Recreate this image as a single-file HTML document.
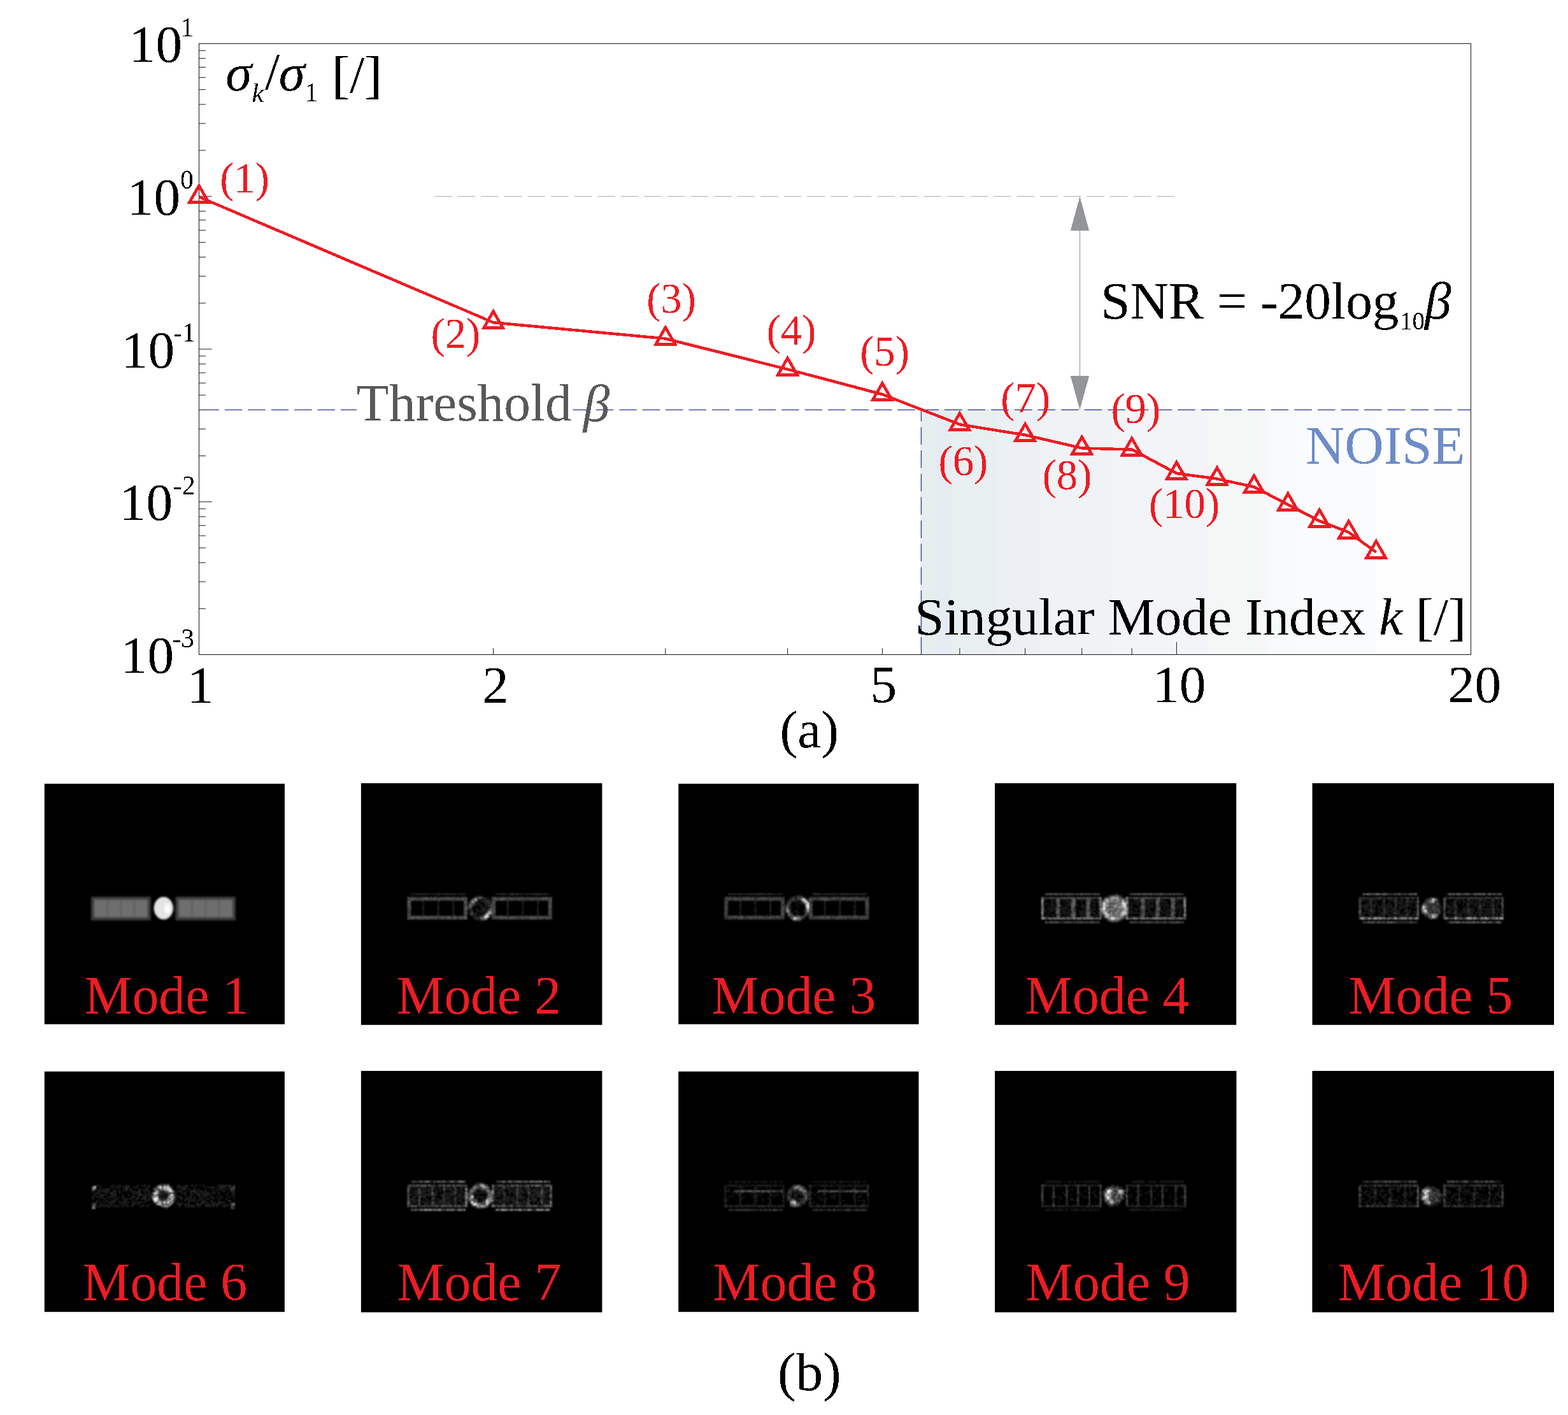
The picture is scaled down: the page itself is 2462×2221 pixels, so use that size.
<!DOCTYPE html>
<html><head><meta charset="utf-8"><title>Singular values and modes</title>
<style>
html,body{margin:0;padding:0;background:#fff;}
body{width:2462px;height:2221px;overflow:hidden;}
svg{display:block;}
text{font-family:"Liberation Serif",serif;white-space:pre;}
</style></head><body>
<svg width="2462" height="2221" viewBox="0 0 2462 2221">
<defs>
<filter id="th" x="0" y="0" width="100%" height="100%" filterUnits="userSpaceOnUse" color-interpolation-filters="sRGB"><feComponentTransfer><feFuncA type="discrete" tableValues="0 1"/></feComponentTransfer></filter>
<filter id="b1" x="-20%" y="-50%" width="140%" height="200%"><feGaussianBlur stdDeviation="1.6"/></filter>
<filter id="b2" x="-20%" y="-50%" width="140%" height="200%"><feGaussianBlur stdDeviation="1.3"/></filter>
</defs>
<rect width="2462" height="2221" fill="#fff"/>

<rect x="1445.0" y="641.9" width="25.5" height="385.6" fill="#e6eef0"/>
<rect x="1470" y="641.9" width="24.0" height="385.6" fill="#e4ebf3"/>
<rect x="1493.5" y="641.9" width="72.0" height="385.6" fill="#e8eff1"/>
<rect x="1565" y="641.9" width="68.5" height="385.6" fill="#eceff4"/>
<rect x="1633" y="641.9" width="113.5" height="385.6" fill="#eff3f6"/>
<rect x="1746" y="641.9" width="150.5" height="385.6" fill="#f2f4f8"/>
<rect x="1896" y="641.9" width="79.5" height="385.6" fill="#f3f8f7"/>
<rect x="1975" y="641.9" width="18.5" height="385.6" fill="#f7f7f9"/>
<rect x="1993" y="641.9" width="42.5" height="385.6" fill="#f7fafa"/>
<rect x="2035" y="641.9" width="126.5" height="385.6" fill="#fafbfd"/>
<rect x="2161" y="641.9" width="141.5" height="385.6" fill="#fdfefd"/>
<rect x="312.5" y="68.45" width="1997.0" height="959.05" fill="none" stroke="#1e1e1e" stroke-width="1.05"/>
<line x1="312.5" x2="322.9" y1="955.32" y2="955.32" stroke="#1c1c1c" stroke-width="1"/>
<line x1="312.5" x2="322.9" y1="913.10" y2="913.10" stroke="#1c1c1c" stroke-width="1"/>
<line x1="312.5" x2="322.9" y1="883.15" y2="883.15" stroke="#1c1c1c" stroke-width="1"/>
<line x1="312.5" x2="322.9" y1="859.91" y2="859.91" stroke="#1c1c1c" stroke-width="1"/>
<line x1="312.5" x2="322.9" y1="840.93" y2="840.93" stroke="#1c1c1c" stroke-width="1"/>
<line x1="312.5" x2="322.9" y1="824.88" y2="824.88" stroke="#1c1c1c" stroke-width="1"/>
<line x1="312.5" x2="322.9" y1="810.97" y2="810.97" stroke="#1c1c1c" stroke-width="1"/>
<line x1="312.5" x2="322.9" y1="798.71" y2="798.71" stroke="#1c1c1c" stroke-width="1"/>
<line x1="312.5" x2="332.5" y1="787.74" y2="787.74" stroke="#1c1c1c" stroke-width="1"/>
<line x1="312.5" x2="322.9" y1="715.56" y2="715.56" stroke="#1c1c1c" stroke-width="1"/>
<line x1="312.5" x2="322.9" y1="673.34" y2="673.34" stroke="#1c1c1c" stroke-width="1"/>
<line x1="312.5" x2="322.9" y1="643.39" y2="643.39" stroke="#1c1c1c" stroke-width="1"/>
<line x1="312.5" x2="322.9" y1="620.15" y2="620.15" stroke="#1c1c1c" stroke-width="1"/>
<line x1="312.5" x2="322.9" y1="601.17" y2="601.17" stroke="#1c1c1c" stroke-width="1"/>
<line x1="312.5" x2="322.9" y1="585.11" y2="585.11" stroke="#1c1c1c" stroke-width="1"/>
<line x1="312.5" x2="322.9" y1="571.21" y2="571.21" stroke="#1c1c1c" stroke-width="1"/>
<line x1="312.5" x2="322.9" y1="558.95" y2="558.95" stroke="#1c1c1c" stroke-width="1"/>
<line x1="312.5" x2="332.5" y1="547.98" y2="547.98" stroke="#1c1c1c" stroke-width="1"/>
<line x1="312.5" x2="322.9" y1="475.80" y2="475.80" stroke="#1c1c1c" stroke-width="1"/>
<line x1="312.5" x2="322.9" y1="433.58" y2="433.58" stroke="#1c1c1c" stroke-width="1"/>
<line x1="312.5" x2="322.9" y1="403.62" y2="403.62" stroke="#1c1c1c" stroke-width="1"/>
<line x1="312.5" x2="322.9" y1="380.39" y2="380.39" stroke="#1c1c1c" stroke-width="1"/>
<line x1="312.5" x2="322.9" y1="361.40" y2="361.40" stroke="#1c1c1c" stroke-width="1"/>
<line x1="312.5" x2="322.9" y1="345.35" y2="345.35" stroke="#1c1c1c" stroke-width="1"/>
<line x1="312.5" x2="322.9" y1="331.45" y2="331.45" stroke="#1c1c1c" stroke-width="1"/>
<line x1="312.5" x2="322.9" y1="319.18" y2="319.18" stroke="#1c1c1c" stroke-width="1"/>
<line x1="312.5" x2="332.5" y1="308.21" y2="308.21" stroke="#1c1c1c" stroke-width="1"/>
<line x1="312.5" x2="322.9" y1="236.04" y2="236.04" stroke="#1c1c1c" stroke-width="1"/>
<line x1="312.5" x2="322.9" y1="193.82" y2="193.82" stroke="#1c1c1c" stroke-width="1"/>
<line x1="312.5" x2="322.9" y1="163.86" y2="163.86" stroke="#1c1c1c" stroke-width="1"/>
<line x1="312.5" x2="322.9" y1="140.63" y2="140.63" stroke="#1c1c1c" stroke-width="1"/>
<line x1="312.5" x2="322.9" y1="121.64" y2="121.64" stroke="#1c1c1c" stroke-width="1"/>
<line x1="312.5" x2="322.9" y1="105.59" y2="105.59" stroke="#1c1c1c" stroke-width="1"/>
<line x1="312.5" x2="322.9" y1="91.69" y2="91.69" stroke="#1c1c1c" stroke-width="1"/>
<line x1="312.5" x2="322.9" y1="79.42" y2="79.42" stroke="#1c1c1c" stroke-width="1"/>
<line x1="774.56" x2="774.56" y1="1027.5" y2="1017.3" stroke="#1c1c1c" stroke-width="1"/>
<line x1="1044.85" x2="1044.85" y1="1027.5" y2="1017.3" stroke="#1c1c1c" stroke-width="1"/>
<line x1="1236.62" x2="1236.62" y1="1027.5" y2="1017.3" stroke="#1c1c1c" stroke-width="1"/>
<line x1="1385.38" x2="1385.38" y1="1027.5" y2="1017.3" stroke="#1c1c1c" stroke-width="1"/>
<line x1="1506.91" x2="1506.91" y1="1027.5" y2="1017.3" stroke="#1c1c1c" stroke-width="1"/>
<line x1="1609.67" x2="1609.67" y1="1027.5" y2="1017.3" stroke="#1c1c1c" stroke-width="1"/>
<line x1="1698.69" x2="1698.69" y1="1027.5" y2="1017.3" stroke="#1c1c1c" stroke-width="1"/>
<line x1="1777.20" x2="1777.20" y1="1027.5" y2="1017.3" stroke="#1c1c1c" stroke-width="1"/>
<line x1="1847.44" x2="1847.44" y1="1027.5" y2="1007.7" stroke="#1c1c1c" stroke-width="1"/>
<line x1="312.5" x2="1446.4" y1="643.4" y2="643.4" stroke="#2e3192" stroke-width="1.1" stroke-dasharray="27.4 9.03" stroke-dashoffset="32.43"/>
<line x1="1446.4" x2="2309.5" y1="643.4" y2="643.4" stroke="#2e3192" stroke-width="1.1" stroke-dasharray="27.5 9.12"/>
<line x1="1446.5" x2="1446.5" y1="1027.5" y2="643.4" stroke="#2e3192" stroke-width="1.2" stroke-dasharray="27.5 9.12"/>
<line x1="682.2" x2="1843.9" y1="308.4" y2="308.4" stroke="#b9b9b9" stroke-width="1.1" stroke-dasharray="27.5 9.08"/>
<line x1="1695.5" x2="1695.5" y1="330" y2="620" stroke="#a1a3a6" stroke-width="1.3"/>
<polygon points="1695.5,308.4 1680.9,361.9 1710.1,361.9" fill="#939598" shape-rendering="crispEdges"/>
<polygon points="1695.5,642.9 1680.9,590.3 1710.1,590.3" fill="#939598" shape-rendering="crispEdges"/>
<rect x="560" y="600" width="339" height="80" fill="#fff"/>
<rect x="69.8" y="1230.2" width="377.2" height="377.4" fill="#000"/>
<g filter="url(#b1)"><rect x="143.0" y="1407.5" width="93.7" height="37.1" fill="#3c3c3c"/><rect x="148.0" y="1412.3" width="83.7" height="27.3" fill="#6e6e6e"/><rect x="167.4" y="1412.3" width="3" height="27.3" fill="#626262"/><rect x="188.3" y="1412.3" width="3" height="27.3" fill="#626262"/><rect x="209.3" y="1412.3" width="3" height="27.3" fill="#626262"/><rect x="275.5" y="1407.5" width="94.4" height="37.1" fill="#3c3c3c"/><rect x="280.5" y="1412.3" width="84.4" height="27.3" fill="#6e6e6e"/><rect x="300.1" y="1412.3" width="3" height="27.3" fill="#626262"/><rect x="321.2" y="1412.3" width="3" height="27.3" fill="#626262"/><rect x="342.3" y="1412.3" width="3" height="27.3" fill="#626262"/><ellipse cx="256.8" cy="1425.5" rx="15.2" ry="17.8" fill="#e4e4e4"/><ellipse cx="262.8" cy="1426.5" rx="5" ry="8" fill="#fbfbfb"/></g>
<rect x="566.9" y="1229.3" width="378.5" height="379.4" fill="#000"/>
<g filter="url(#b2)"><path fill="#181818" d="M648.3 1402.0h3.0v2.95h-3.0zM674.9 1402.0h3.0v2.95h-3.0zM680.8 1402.0h3.0v2.95h-3.0zM695.5 1402.0h3.0v2.95h-3.0zM716.2 1402.0h3.0v2.95h-3.0zM792.9 1402.0h5.9v2.95h-5.9zM822.4 1402.0h3.0v2.95h-3.0zM857.8 1402.0h5.9v2.95h-5.9zM751.6 1404.9h5.9v2.95h-5.9zM763.4 1407.9h3.0v2.95h-3.0zM754.5 1410.8h5.9v2.95h-5.9zM686.7 1413.8h3.0v2.95h-3.0zM748.6 1413.8h3.0v2.95h-3.0zM754.5 1413.8h3.0v2.95h-3.0zM769.3 1413.8h3.0v2.95h-3.0zM663.1 1416.7h3.0v2.95h-3.0zM710.3 1416.7h3.0v2.95h-3.0zM733.9 1416.7h3.0v2.95h-3.0zM745.7 1416.7h8.9v2.95h-8.9zM763.4 1416.7h3.0v2.95h-3.0zM663.1 1419.7h3.0v2.95h-3.0zM686.7 1419.7h3.0v2.95h-3.0zM710.3 1419.7h3.0v2.95h-3.0zM733.9 1419.7h3.0v2.95h-3.0zM745.7 1419.7h3.0v2.95h-3.0zM751.6 1419.7h5.9v2.95h-5.9zM760.4 1419.7h3.0v2.95h-3.0zM819.4 1419.7h3.0v2.95h-3.0zM843.0 1419.7h3.0v2.95h-3.0zM754.5 1422.6h8.9v2.95h-8.9zM766.3 1422.6h3.0v2.95h-3.0zM843.0 1422.6h3.0v2.95h-3.0zM733.9 1425.6h3.0v2.95h-3.0zM739.8 1425.6h3.0v2.95h-3.0zM745.7 1425.6h5.9v2.95h-5.9zM754.5 1425.6h3.0v2.95h-3.0zM763.4 1425.6h3.0v2.95h-3.0zM819.4 1425.6h3.0v2.95h-3.0zM663.1 1428.5h3.0v2.95h-3.0zM686.7 1428.5h3.0v2.95h-3.0zM710.3 1428.5h3.0v2.95h-3.0zM751.6 1428.5h5.9v2.95h-5.9zM760.4 1428.5h5.9v2.95h-5.9zM795.8 1428.5h3.0v2.95h-3.0zM742.8 1431.5h8.9v2.95h-8.9zM754.5 1431.5h8.9v2.95h-8.9zM663.1 1434.4h3.0v2.95h-3.0zM736.8 1434.4h3.0v2.95h-3.0zM742.8 1434.4h3.0v2.95h-3.0zM751.6 1434.4h3.0v2.95h-3.0zM757.5 1434.4h3.0v2.95h-3.0zM795.8 1434.4h3.0v2.95h-3.0zM819.4 1434.4h3.0v2.95h-3.0zM843.0 1434.4h3.0v2.95h-3.0zM748.6 1437.4h3.0v2.95h-3.0zM742.8 1440.3h3.0v2.95h-3.0zM748.6 1443.3h3.0v2.95h-3.0zM757.5 1443.3h5.9v2.95h-5.9z"/><path fill="#242424" d="M645.4 1402.0h3.0v2.95h-3.0zM651.3 1402.0h23.6v2.95h-23.6zM677.8 1402.0h3.0v2.95h-3.0zM683.7 1402.0h3.0v2.95h-3.0zM689.6 1402.0h5.9v2.95h-5.9zM701.4 1402.0h14.8v2.95h-14.8zM719.1 1402.0h11.8v2.95h-11.8zM778.1 1402.0h11.8v2.95h-11.8zM798.8 1402.0h3.0v2.95h-3.0zM807.6 1402.0h3.0v2.95h-3.0zM813.5 1402.0h8.9v2.95h-8.9zM825.3 1402.0h14.8v2.95h-14.8zM843.0 1402.0h3.0v2.95h-3.0zM848.9 1402.0h5.9v2.95h-5.9zM748.6 1404.9h3.0v2.95h-3.0zM742.8 1407.9h3.0v2.95h-3.0zM760.4 1407.9h3.0v2.95h-3.0zM748.6 1410.8h5.9v2.95h-5.9zM760.4 1410.8h8.9v2.95h-8.9zM663.1 1413.8h3.0v2.95h-3.0zM710.3 1413.8h3.0v2.95h-3.0zM745.7 1413.8h3.0v2.95h-3.0zM757.5 1413.8h5.9v2.95h-5.9zM795.8 1413.8h3.0v2.95h-3.0zM819.4 1413.8h3.0v2.95h-3.0zM843.0 1413.8h3.0v2.95h-3.0zM686.7 1416.7h3.0v2.95h-3.0zM760.4 1416.7h3.0v2.95h-3.0zM769.3 1416.7h3.0v2.95h-3.0zM795.8 1416.7h3.0v2.95h-3.0zM819.4 1416.7h3.0v2.95h-3.0zM843.0 1416.7h3.0v2.95h-3.0zM742.8 1419.7h3.0v2.95h-3.0zM763.4 1419.7h3.0v2.95h-3.0zM795.8 1419.7h3.0v2.95h-3.0zM663.1 1422.6h3.0v2.95h-3.0zM686.7 1422.6h3.0v2.95h-3.0zM710.3 1422.6h3.0v2.95h-3.0zM739.8 1422.6h3.0v2.95h-3.0zM795.8 1422.6h3.0v2.95h-3.0zM819.4 1422.6h3.0v2.95h-3.0zM663.1 1425.6h3.0v2.95h-3.0zM686.7 1425.6h3.0v2.95h-3.0zM710.3 1425.6h3.0v2.95h-3.0zM757.5 1425.6h5.9v2.95h-5.9zM766.3 1425.6h3.0v2.95h-3.0zM795.8 1425.6h3.0v2.95h-3.0zM843.0 1425.6h3.0v2.95h-3.0zM736.8 1428.5h3.0v2.95h-3.0zM748.6 1428.5h3.0v2.95h-3.0zM757.5 1428.5h3.0v2.95h-3.0zM819.4 1428.5h3.0v2.95h-3.0zM843.0 1428.5h3.0v2.95h-3.0zM663.1 1431.5h3.0v2.95h-3.0zM686.7 1431.5h3.0v2.95h-3.0zM710.3 1431.5h3.0v2.95h-3.0zM795.8 1431.5h3.0v2.95h-3.0zM819.4 1431.5h3.0v2.95h-3.0zM843.0 1431.5h3.0v2.95h-3.0zM686.7 1434.4h3.0v2.95h-3.0zM710.3 1434.4h3.0v2.95h-3.0zM745.7 1434.4h3.0v2.95h-3.0zM742.8 1437.4h5.9v2.95h-5.9z"/><path fill="#303030" d="M686.7 1402.0h3.0v2.95h-3.0zM698.5 1402.0h3.0v2.95h-3.0zM789.9 1402.0h3.0v2.95h-3.0zM801.8 1402.0h5.9v2.95h-5.9zM810.6 1402.0h3.0v2.95h-3.0zM840.1 1402.0h3.0v2.95h-3.0zM846.0 1402.0h3.0v2.95h-3.0zM854.8 1402.0h3.0v2.95h-3.0zM757.5 1407.9h3.0v2.95h-3.0zM736.8 1413.8h3.0v2.95h-3.0zM766.3 1413.8h3.0v2.95h-3.0zM766.3 1416.7h3.0v2.95h-3.0zM766.3 1419.7h3.0v2.95h-3.0zM733.9 1422.6h3.0v2.95h-3.0zM769.3 1422.6h3.0v2.95h-3.0zM736.8 1425.6h3.0v2.95h-3.0zM739.8 1428.5h3.0v2.95h-3.0zM736.8 1431.5h3.0v2.95h-3.0zM751.6 1437.4h3.0v2.95h-3.0zM745.7 1440.3h3.0v2.95h-3.0zM751.6 1440.3h3.0v2.95h-3.0zM754.5 1443.3h3.0v2.95h-3.0z"/><path fill="#3c3c3c" d="M654.2 1407.9h8.9v2.95h-8.9zM671.9 1407.9h3.0v2.95h-3.0zM677.8 1407.9h3.0v2.95h-3.0zM686.7 1407.9h3.0v2.95h-3.0zM713.2 1407.9h3.0v2.95h-3.0zM722.1 1407.9h3.0v2.95h-3.0zM748.6 1407.9h3.0v2.95h-3.0zM778.1 1407.9h3.0v2.95h-3.0zM784.0 1407.9h3.0v2.95h-3.0zM801.8 1407.9h3.0v2.95h-3.0zM810.6 1407.9h5.9v2.95h-5.9zM822.4 1407.9h3.0v2.95h-3.0zM831.2 1407.9h3.0v2.95h-3.0zM837.1 1407.9h3.0v2.95h-3.0zM846.0 1407.9h3.0v2.95h-3.0zM860.8 1407.9h3.0v2.95h-3.0zM639.5 1410.8h5.9v2.95h-5.9zM651.3 1410.8h3.0v2.95h-3.0zM657.2 1410.8h3.0v2.95h-3.0zM666.0 1410.8h3.0v2.95h-3.0zM683.7 1410.8h3.0v2.95h-3.0zM692.6 1410.8h3.0v2.95h-3.0zM698.5 1410.8h3.0v2.95h-3.0zM710.3 1410.8h5.9v2.95h-5.9zM722.1 1410.8h3.0v2.95h-3.0zM728.0 1410.8h3.0v2.95h-3.0zM772.2 1410.8h5.9v2.95h-5.9zM792.9 1410.8h8.9v2.95h-8.9zM804.7 1410.8h8.9v2.95h-8.9zM816.5 1410.8h14.8v2.95h-14.8zM837.1 1410.8h8.9v2.95h-8.9zM848.9 1410.8h3.0v2.95h-3.0zM854.8 1410.8h3.0v2.95h-3.0zM860.8 1410.8h3.0v2.95h-3.0zM763.4 1413.8h3.0v2.95h-3.0zM736.8 1416.7h3.0v2.95h-3.0zM728.0 1419.7h5.9v2.95h-5.9zM739.8 1419.7h3.0v2.95h-3.0zM775.2 1419.7h3.0v2.95h-3.0zM639.5 1422.6h3.0v2.95h-3.0zM639.5 1425.6h3.0v2.95h-3.0zM863.7 1425.6h3.0v2.95h-3.0zM642.4 1428.5h3.0v2.95h-3.0zM639.5 1431.5h5.9v2.95h-5.9zM728.0 1434.4h3.0v2.95h-3.0zM769.3 1434.4h3.0v2.95h-3.0zM775.2 1434.4h3.0v2.95h-3.0zM710.3 1437.4h3.0v2.95h-3.0zM716.2 1437.4h5.9v2.95h-5.9zM795.8 1437.4h3.0v2.95h-3.0zM810.6 1437.4h3.0v2.95h-3.0zM819.4 1437.4h5.9v2.95h-5.9zM828.3 1437.4h3.0v2.95h-3.0zM843.0 1437.4h3.0v2.95h-3.0zM851.9 1437.4h3.0v2.95h-3.0zM860.8 1437.4h3.0v2.95h-3.0zM651.3 1440.3h3.0v2.95h-3.0zM686.7 1440.3h5.9v2.95h-5.9zM698.5 1440.3h3.0v2.95h-3.0zM716.2 1440.3h3.0v2.95h-3.0zM725.0 1440.3h3.0v2.95h-3.0zM748.6 1440.3h3.0v2.95h-3.0zM775.2 1440.3h3.0v2.95h-3.0zM781.1 1440.3h3.0v2.95h-3.0zM813.5 1440.3h3.0v2.95h-3.0zM825.3 1440.3h3.0v2.95h-3.0zM843.0 1440.3h3.0v2.95h-3.0zM851.9 1440.3h5.9v2.95h-5.9z"/><path fill="#484848" d="M645.4 1407.9h3.0v2.95h-3.0zM651.3 1407.9h3.0v2.95h-3.0zM689.6 1407.9h5.9v2.95h-5.9zM707.3 1407.9h3.0v2.95h-3.0zM716.2 1407.9h5.9v2.95h-5.9zM730.9 1407.9h3.0v2.95h-3.0zM781.1 1407.9h3.0v2.95h-3.0zM792.9 1407.9h5.9v2.95h-5.9zM804.7 1407.9h3.0v2.95h-3.0zM819.4 1407.9h3.0v2.95h-3.0zM825.3 1407.9h5.9v2.95h-5.9zM834.2 1407.9h3.0v2.95h-3.0zM840.1 1407.9h5.9v2.95h-5.9zM848.9 1407.9h3.0v2.95h-3.0zM663.1 1410.8h3.0v2.95h-3.0zM671.9 1410.8h8.9v2.95h-8.9zM695.5 1410.8h3.0v2.95h-3.0zM701.4 1410.8h8.9v2.95h-8.9zM730.9 1410.8h3.0v2.95h-3.0zM781.1 1410.8h3.0v2.95h-3.0zM831.2 1410.8h3.0v2.95h-3.0zM846.0 1410.8h3.0v2.95h-3.0zM772.2 1413.8h3.0v2.95h-3.0zM860.8 1413.8h3.0v2.95h-3.0zM642.4 1416.7h3.0v2.95h-3.0zM728.0 1416.7h5.9v2.95h-5.9zM742.8 1416.7h3.0v2.95h-3.0zM772.2 1416.7h5.9v2.95h-5.9zM860.8 1416.7h5.9v2.95h-5.9zM642.4 1419.7h3.0v2.95h-3.0zM769.3 1419.7h3.0v2.95h-3.0zM860.8 1419.7h5.9v2.95h-5.9zM728.0 1422.6h3.0v2.95h-3.0zM772.2 1422.6h3.0v2.95h-3.0zM642.4 1425.6h3.0v2.95h-3.0zM775.2 1425.6h3.0v2.95h-3.0zM860.8 1425.6h3.0v2.95h-3.0zM639.5 1428.5h3.0v2.95h-3.0zM728.0 1428.5h5.9v2.95h-5.9zM772.2 1428.5h3.0v2.95h-3.0zM860.8 1428.5h3.0v2.95h-3.0zM728.0 1431.5h3.0v2.95h-3.0zM739.8 1431.5h3.0v2.95h-3.0zM775.2 1431.5h3.0v2.95h-3.0zM863.7 1431.5h3.0v2.95h-3.0zM642.4 1434.4h3.0v2.95h-3.0zM730.9 1434.4h3.0v2.95h-3.0zM739.8 1434.4h3.0v2.95h-3.0zM760.4 1434.4h3.0v2.95h-3.0zM772.2 1434.4h3.0v2.95h-3.0zM860.8 1434.4h5.9v2.95h-5.9zM639.5 1437.4h5.9v2.95h-5.9zM660.1 1437.4h5.9v2.95h-5.9zM671.9 1437.4h3.0v2.95h-3.0zM686.7 1437.4h3.0v2.95h-3.0zM692.6 1437.4h3.0v2.95h-3.0zM698.5 1437.4h3.0v2.95h-3.0zM707.3 1437.4h3.0v2.95h-3.0zM725.0 1437.4h3.0v2.95h-3.0zM730.9 1437.4h3.0v2.95h-3.0zM754.5 1437.4h5.9v2.95h-5.9zM772.2 1437.4h3.0v2.95h-3.0zM778.1 1437.4h3.0v2.95h-3.0zM787.0 1437.4h3.0v2.95h-3.0zM792.9 1437.4h3.0v2.95h-3.0zM798.8 1437.4h5.9v2.95h-5.9zM807.6 1437.4h3.0v2.95h-3.0zM813.5 1437.4h3.0v2.95h-3.0zM834.2 1437.4h3.0v2.95h-3.0zM840.1 1437.4h3.0v2.95h-3.0zM846.0 1437.4h3.0v2.95h-3.0zM857.8 1437.4h3.0v2.95h-3.0zM666.0 1440.3h3.0v2.95h-3.0zM671.9 1440.3h11.8v2.95h-11.8zM695.5 1440.3h3.0v2.95h-3.0zM707.3 1440.3h3.0v2.95h-3.0zM719.1 1440.3h3.0v2.95h-3.0zM772.2 1440.3h3.0v2.95h-3.0zM778.1 1440.3h3.0v2.95h-3.0zM784.0 1440.3h3.0v2.95h-3.0zM789.9 1440.3h3.0v2.95h-3.0zM795.8 1440.3h3.0v2.95h-3.0zM804.7 1440.3h8.9v2.95h-8.9zM816.5 1440.3h3.0v2.95h-3.0zM822.4 1440.3h3.0v2.95h-3.0zM828.3 1440.3h3.0v2.95h-3.0zM846.0 1440.3h3.0v2.95h-3.0zM860.8 1440.3h5.9v2.95h-5.9z"/><path fill="#545454" d="M639.5 1407.9h5.9v2.95h-5.9zM648.3 1407.9h3.0v2.95h-3.0zM663.1 1407.9h3.0v2.95h-3.0zM669.0 1407.9h3.0v2.95h-3.0zM674.9 1407.9h3.0v2.95h-3.0zM680.8 1407.9h5.9v2.95h-5.9zM695.5 1407.9h11.8v2.95h-11.8zM725.0 1407.9h5.9v2.95h-5.9zM754.5 1407.9h3.0v2.95h-3.0zM772.2 1407.9h3.0v2.95h-3.0zM787.0 1407.9h5.9v2.95h-5.9zM798.8 1407.9h3.0v2.95h-3.0zM807.6 1407.9h3.0v2.95h-3.0zM816.5 1407.9h3.0v2.95h-3.0zM851.9 1407.9h8.9v2.95h-8.9zM863.7 1407.9h3.0v2.95h-3.0zM648.3 1410.8h3.0v2.95h-3.0zM654.2 1410.8h3.0v2.95h-3.0zM660.1 1410.8h3.0v2.95h-3.0zM669.0 1410.8h3.0v2.95h-3.0zM680.8 1410.8h3.0v2.95h-3.0zM686.7 1410.8h5.9v2.95h-5.9zM716.2 1410.8h5.9v2.95h-5.9zM739.8 1410.8h3.0v2.95h-3.0zM784.0 1410.8h3.0v2.95h-3.0zM789.9 1410.8h3.0v2.95h-3.0zM801.8 1410.8h3.0v2.95h-3.0zM834.2 1410.8h3.0v2.95h-3.0zM851.9 1410.8h3.0v2.95h-3.0zM857.8 1410.8h3.0v2.95h-3.0zM728.0 1413.8h5.9v2.95h-5.9zM775.2 1413.8h3.0v2.95h-3.0zM863.7 1413.8h3.0v2.95h-3.0zM639.5 1416.7h3.0v2.95h-3.0zM639.5 1419.7h3.0v2.95h-3.0zM772.2 1419.7h3.0v2.95h-3.0zM775.2 1422.6h3.0v2.95h-3.0zM860.8 1422.6h5.9v2.95h-5.9zM728.0 1425.6h3.0v2.95h-3.0zM772.2 1425.6h3.0v2.95h-3.0zM863.7 1428.5h3.0v2.95h-3.0zM763.4 1431.5h3.0v2.95h-3.0zM772.2 1431.5h3.0v2.95h-3.0zM860.8 1431.5h3.0v2.95h-3.0zM639.5 1434.4h3.0v2.95h-3.0zM645.4 1437.4h14.8v2.95h-14.8zM666.0 1437.4h5.9v2.95h-5.9zM677.8 1437.4h5.9v2.95h-5.9zM689.6 1437.4h3.0v2.95h-3.0zM695.5 1437.4h3.0v2.95h-3.0zM701.4 1437.4h5.9v2.95h-5.9zM722.1 1437.4h3.0v2.95h-3.0zM775.2 1437.4h3.0v2.95h-3.0zM781.1 1437.4h3.0v2.95h-3.0zM789.9 1437.4h3.0v2.95h-3.0zM804.7 1437.4h3.0v2.95h-3.0zM816.5 1437.4h3.0v2.95h-3.0zM837.1 1437.4h3.0v2.95h-3.0zM848.9 1437.4h3.0v2.95h-3.0zM854.8 1437.4h3.0v2.95h-3.0zM863.7 1437.4h3.0v2.95h-3.0zM639.5 1440.3h11.8v2.95h-11.8zM654.2 1440.3h11.8v2.95h-11.8zM669.0 1440.3h3.0v2.95h-3.0zM683.7 1440.3h3.0v2.95h-3.0zM701.4 1440.3h5.9v2.95h-5.9zM710.3 1440.3h3.0v2.95h-3.0zM730.9 1440.3h3.0v2.95h-3.0zM763.4 1440.3h3.0v2.95h-3.0zM787.0 1440.3h3.0v2.95h-3.0zM792.9 1440.3h3.0v2.95h-3.0zM798.8 1440.3h3.0v2.95h-3.0zM819.4 1440.3h3.0v2.95h-3.0zM831.2 1440.3h3.0v2.95h-3.0zM837.1 1440.3h5.9v2.95h-5.9zM848.9 1440.3h3.0v2.95h-3.0z"/><path fill="#606060" d="M666.0 1407.9h3.0v2.95h-3.0zM710.3 1407.9h3.0v2.95h-3.0zM745.7 1407.9h3.0v2.95h-3.0zM775.2 1407.9h3.0v2.95h-3.0zM645.4 1410.8h3.0v2.95h-3.0zM725.0 1410.8h3.0v2.95h-3.0zM742.8 1410.8h3.0v2.95h-3.0zM778.1 1410.8h3.0v2.95h-3.0zM787.0 1410.8h3.0v2.95h-3.0zM813.5 1410.8h3.0v2.95h-3.0zM863.7 1410.8h3.0v2.95h-3.0zM639.5 1413.8h5.9v2.95h-5.9zM642.4 1422.6h3.0v2.95h-3.0zM730.9 1422.6h3.0v2.95h-3.0zM736.8 1422.6h3.0v2.95h-3.0zM730.9 1425.6h3.0v2.95h-3.0zM775.2 1428.5h3.0v2.95h-3.0zM730.9 1431.5h3.0v2.95h-3.0zM674.9 1437.4h3.0v2.95h-3.0zM683.7 1437.4h3.0v2.95h-3.0zM713.2 1437.4h3.0v2.95h-3.0zM728.0 1437.4h3.0v2.95h-3.0zM784.0 1437.4h3.0v2.95h-3.0zM825.3 1437.4h3.0v2.95h-3.0zM831.2 1437.4h3.0v2.95h-3.0zM692.6 1440.3h3.0v2.95h-3.0zM713.2 1440.3h3.0v2.95h-3.0zM722.1 1440.3h3.0v2.95h-3.0zM728.0 1440.3h3.0v2.95h-3.0zM801.8 1440.3h3.0v2.95h-3.0zM834.2 1440.3h3.0v2.95h-3.0zM857.8 1440.3h3.0v2.95h-3.0z"/><path fill="#6c6c6c" d="M751.6 1407.9h3.0v2.95h-3.0zM739.8 1416.7h3.0v2.95h-3.0zM769.3 1425.6h3.0v2.95h-3.0zM757.5 1440.3h3.0v2.95h-3.0z"/><path fill="#787878" d="M736.8 1419.7h3.0v2.95h-3.0zM766.3 1428.5h5.9v2.95h-5.9zM766.3 1434.4h3.0v2.95h-3.0zM754.5 1440.3h3.0v2.95h-3.0z"/><path fill="#909090" d="M739.8 1413.8h5.9v2.95h-5.9zM766.3 1437.4h3.0v2.95h-3.0z"/><path fill="#a8a8a8" d="M769.3 1431.5h3.0v2.95h-3.0zM760.4 1440.3h3.0v2.95h-3.0z"/><path fill="#c0c0c0" d="M745.7 1410.8h3.0v2.95h-3.0z"/><path fill="#d8d8d8" d="M766.3 1431.5h3.0v2.95h-3.0z"/><path fill="#fcfcfc" d="M763.4 1434.4h3.0v2.95h-3.0zM760.4 1437.4h5.9v2.95h-5.9z"/></g>
<rect x="1065.3" y="1230.2" width="377.3" height="377.4" fill="#000"/>
<g filter="url(#b2)"><path fill="#181818" d="M1217.0 1401.9h3.0v2.95h-3.0zM1287.8 1401.9h3.0v2.95h-3.0zM1314.3 1401.9h3.0v2.95h-3.0zM1246.5 1404.8h5.9v2.95h-5.9zM1258.2 1404.8h3.0v2.95h-3.0zM1240.5 1407.8h3.0v2.95h-3.0zM1264.2 1407.8h3.0v2.95h-3.0zM1234.7 1413.7h3.0v2.95h-3.0zM1246.5 1413.7h5.9v2.95h-5.9zM1160.9 1416.6h3.0v2.95h-3.0zM1208.1 1416.6h3.0v2.95h-3.0zM1240.5 1416.6h3.0v2.95h-3.0zM1252.3 1416.6h8.9v2.95h-8.9zM1340.8 1416.6h3.0v2.95h-3.0zM1184.5 1419.6h3.0v2.95h-3.0zM1249.4 1419.6h3.0v2.95h-3.0zM1293.7 1419.6h3.0v2.95h-3.0zM1340.8 1419.6h3.0v2.95h-3.0zM1184.5 1422.5h3.0v2.95h-3.0zM1240.5 1422.5h3.0v2.95h-3.0zM1252.3 1422.5h3.0v2.95h-3.0zM1160.9 1425.5h3.0v2.95h-3.0zM1240.5 1425.5h3.0v2.95h-3.0zM1317.2 1425.5h3.0v2.95h-3.0zM1340.8 1425.5h3.0v2.95h-3.0zM1160.9 1428.5h3.0v2.95h-3.0zM1231.7 1428.5h3.0v2.95h-3.0zM1246.5 1428.5h5.9v2.95h-5.9zM1261.2 1428.5h3.0v2.95h-3.0zM1293.7 1428.5h3.0v2.95h-3.0zM1184.5 1431.4h3.0v2.95h-3.0zM1208.1 1431.4h3.0v2.95h-3.0zM1240.5 1431.4h5.9v2.95h-5.9zM1249.4 1431.4h5.9v2.95h-5.9zM1293.7 1431.4h3.0v2.95h-3.0zM1160.9 1434.3h3.0v2.95h-3.0zM1184.5 1434.3h3.0v2.95h-3.0zM1208.1 1434.3h3.0v2.95h-3.0zM1234.7 1434.3h3.0v2.95h-3.0zM1243.5 1434.3h3.0v2.95h-3.0zM1249.4 1434.3h3.0v2.95h-3.0zM1267.1 1434.3h3.0v2.95h-3.0zM1293.7 1434.3h3.0v2.95h-3.0zM1264.2 1437.3h3.0v2.95h-3.0zM1261.2 1440.2h3.0v2.95h-3.0z"/><path fill="#242424" d="M1146.2 1401.9h14.8v2.95h-14.8zM1163.8 1401.9h11.8v2.95h-11.8zM1178.6 1401.9h3.0v2.95h-3.0zM1184.5 1401.9h3.0v2.95h-3.0zM1199.2 1401.9h5.9v2.95h-5.9zM1211.0 1401.9h5.9v2.95h-5.9zM1219.9 1401.9h8.9v2.95h-8.9zM1290.7 1401.9h14.8v2.95h-14.8zM1308.4 1401.9h3.0v2.95h-3.0zM1317.2 1401.9h3.0v2.95h-3.0zM1326.1 1401.9h3.0v2.95h-3.0zM1332.0 1401.9h5.9v2.95h-5.9zM1340.8 1401.9h3.0v2.95h-3.0zM1346.8 1401.9h5.9v2.95h-5.9zM1355.6 1401.9h5.9v2.95h-5.9zM1252.3 1404.8h5.9v2.95h-5.9zM1246.5 1407.8h5.9v2.95h-5.9zM1237.6 1410.8h3.0v2.95h-3.0zM1249.4 1410.8h3.0v2.95h-3.0zM1267.1 1410.8h3.0v2.95h-3.0zM1160.9 1413.7h3.0v2.95h-3.0zM1184.5 1413.7h3.0v2.95h-3.0zM1208.1 1413.7h3.0v2.95h-3.0zM1293.7 1413.7h3.0v2.95h-3.0zM1317.2 1413.7h3.0v2.95h-3.0zM1340.8 1413.7h3.0v2.95h-3.0zM1184.5 1416.6h3.0v2.95h-3.0zM1234.7 1416.6h3.0v2.95h-3.0zM1293.7 1416.6h3.0v2.95h-3.0zM1317.2 1416.6h3.0v2.95h-3.0zM1160.9 1419.6h3.0v2.95h-3.0zM1208.1 1419.6h3.0v2.95h-3.0zM1231.7 1419.6h3.0v2.95h-3.0zM1317.2 1419.6h3.0v2.95h-3.0zM1160.9 1422.5h3.0v2.95h-3.0zM1208.1 1422.5h3.0v2.95h-3.0zM1237.6 1422.5h3.0v2.95h-3.0zM1293.7 1422.5h3.0v2.95h-3.0zM1317.2 1422.5h3.0v2.95h-3.0zM1340.8 1422.5h3.0v2.95h-3.0zM1184.5 1425.5h3.0v2.95h-3.0zM1208.1 1425.5h3.0v2.95h-3.0zM1231.7 1425.5h3.0v2.95h-3.0zM1293.7 1425.5h3.0v2.95h-3.0zM1184.5 1428.5h3.0v2.95h-3.0zM1208.1 1428.5h3.0v2.95h-3.0zM1317.2 1428.5h3.0v2.95h-3.0zM1340.8 1428.5h3.0v2.95h-3.0zM1160.9 1431.4h3.0v2.95h-3.0zM1317.2 1431.4h3.0v2.95h-3.0zM1340.8 1431.4h3.0v2.95h-3.0zM1261.2 1434.3h3.0v2.95h-3.0zM1317.2 1434.3h3.0v2.95h-3.0zM1340.8 1434.3h3.0v2.95h-3.0zM1243.5 1443.2h3.0v2.95h-3.0z"/><path fill="#303030" d="M1143.2 1401.9h3.0v2.95h-3.0zM1160.9 1401.9h3.0v2.95h-3.0zM1175.7 1401.9h3.0v2.95h-3.0zM1181.5 1401.9h3.0v2.95h-3.0zM1187.5 1401.9h11.8v2.95h-11.8zM1205.2 1401.9h5.9v2.95h-5.9zM1276.0 1401.9h11.8v2.95h-11.8zM1305.5 1401.9h3.0v2.95h-3.0zM1311.3 1401.9h3.0v2.95h-3.0zM1320.2 1401.9h5.9v2.95h-5.9zM1329.0 1401.9h3.0v2.95h-3.0zM1337.9 1401.9h3.0v2.95h-3.0zM1343.8 1401.9h3.0v2.95h-3.0zM1352.7 1401.9h3.0v2.95h-3.0zM1137.3 1407.8h3.0v2.95h-3.0zM1149.1 1407.8h3.0v2.95h-3.0zM1187.5 1407.8h3.0v2.95h-3.0zM1211.0 1407.8h3.0v2.95h-3.0zM1225.8 1407.8h3.0v2.95h-3.0zM1261.2 1407.8h3.0v2.95h-3.0zM1270.0 1407.8h3.0v2.95h-3.0zM1276.0 1407.8h3.0v2.95h-3.0zM1281.8 1407.8h3.0v2.95h-3.0zM1299.5 1407.8h5.9v2.95h-5.9zM1317.2 1407.8h3.0v2.95h-3.0zM1349.7 1407.8h3.0v2.95h-3.0zM1358.5 1407.8h3.0v2.95h-3.0zM1140.2 1410.8h3.0v2.95h-3.0zM1149.1 1410.8h3.0v2.95h-3.0zM1184.5 1410.8h3.0v2.95h-3.0zM1240.5 1410.8h3.0v2.95h-3.0zM1246.5 1410.8h3.0v2.95h-3.0zM1255.3 1410.8h3.0v2.95h-3.0zM1278.9 1410.8h5.9v2.95h-5.9zM1305.5 1410.8h3.0v2.95h-3.0zM1314.3 1410.8h3.0v2.95h-3.0zM1326.1 1410.8h3.0v2.95h-3.0zM1137.3 1413.7h3.0v2.95h-3.0zM1237.6 1413.7h3.0v2.95h-3.0zM1273.0 1413.7h3.0v2.95h-3.0zM1261.2 1416.6h3.0v2.95h-3.0zM1273.0 1416.6h3.0v2.95h-3.0zM1140.2 1419.6h3.0v2.95h-3.0zM1228.8 1419.6h3.0v2.95h-3.0zM1231.7 1422.5h3.0v2.95h-3.0zM1273.0 1422.5h3.0v2.95h-3.0zM1237.6 1425.5h3.0v2.95h-3.0zM1273.0 1428.5h3.0v2.95h-3.0zM1140.2 1434.3h3.0v2.95h-3.0zM1358.5 1434.3h3.0v2.95h-3.0zM1137.3 1437.3h3.0v2.95h-3.0zM1166.8 1437.3h5.9v2.95h-5.9zM1199.2 1437.3h3.0v2.95h-3.0zM1205.2 1437.3h3.0v2.95h-3.0zM1237.6 1437.3h3.0v2.95h-3.0zM1276.0 1437.3h3.0v2.95h-3.0zM1293.7 1437.3h3.0v2.95h-3.0zM1302.5 1437.3h3.0v2.95h-3.0zM1335.0 1437.3h3.0v2.95h-3.0zM1349.7 1437.3h3.0v2.95h-3.0zM1137.3 1440.2h5.9v2.95h-5.9zM1152.0 1440.2h5.9v2.95h-5.9zM1166.8 1440.2h3.0v2.95h-3.0zM1172.7 1440.2h3.0v2.95h-3.0zM1217.0 1440.2h3.0v2.95h-3.0zM1225.8 1440.2h3.0v2.95h-3.0zM1273.0 1440.2h3.0v2.95h-3.0zM1305.5 1440.2h3.0v2.95h-3.0zM1329.0 1440.2h5.9v2.95h-5.9zM1346.8 1440.2h3.0v2.95h-3.0zM1255.3 1443.2h3.0v2.95h-3.0z"/><path fill="#3c3c3c" d="M1143.2 1407.8h3.0v2.95h-3.0zM1155.0 1407.8h11.8v2.95h-11.8zM1178.6 1407.8h3.0v2.95h-3.0zM1184.5 1407.8h3.0v2.95h-3.0zM1202.2 1407.8h5.9v2.95h-5.9zM1217.0 1407.8h8.9v2.95h-8.9zM1228.8 1407.8h3.0v2.95h-3.0zM1243.5 1407.8h3.0v2.95h-3.0zM1273.0 1407.8h3.0v2.95h-3.0zM1329.0 1407.8h5.9v2.95h-5.9zM1337.9 1407.8h3.0v2.95h-3.0zM1355.6 1407.8h3.0v2.95h-3.0zM1146.2 1410.8h3.0v2.95h-3.0zM1158.0 1410.8h3.0v2.95h-3.0zM1163.8 1410.8h3.0v2.95h-3.0zM1193.3 1410.8h3.0v2.95h-3.0zM1202.2 1410.8h8.9v2.95h-8.9zM1214.0 1410.8h3.0v2.95h-3.0zM1219.9 1410.8h3.0v2.95h-3.0zM1225.8 1410.8h5.9v2.95h-5.9zM1252.3 1410.8h3.0v2.95h-3.0zM1264.2 1410.8h3.0v2.95h-3.0zM1276.0 1410.8h3.0v2.95h-3.0zM1284.8 1410.8h3.0v2.95h-3.0zM1311.3 1410.8h3.0v2.95h-3.0zM1317.2 1410.8h5.9v2.95h-5.9zM1337.9 1410.8h5.9v2.95h-5.9zM1346.8 1410.8h3.0v2.95h-3.0zM1352.7 1410.8h3.0v2.95h-3.0zM1358.5 1410.8h5.9v2.95h-5.9zM1225.8 1413.7h3.0v2.95h-3.0zM1240.5 1413.7h3.0v2.95h-3.0zM1258.2 1413.7h3.0v2.95h-3.0zM1270.0 1413.7h3.0v2.95h-3.0zM1361.5 1413.7h3.0v2.95h-3.0zM1225.8 1416.6h3.0v2.95h-3.0zM1270.0 1416.6h3.0v2.95h-3.0zM1137.3 1419.6h3.0v2.95h-3.0zM1225.8 1419.6h3.0v2.95h-3.0zM1225.8 1422.5h3.0v2.95h-3.0zM1358.5 1422.5h3.0v2.95h-3.0zM1137.3 1425.5h5.9v2.95h-5.9zM1225.8 1425.5h3.0v2.95h-3.0zM1358.5 1425.5h3.0v2.95h-3.0zM1137.3 1428.5h5.9v2.95h-5.9zM1228.8 1428.5h3.0v2.95h-3.0zM1264.2 1428.5h3.0v2.95h-3.0zM1361.5 1428.5h3.0v2.95h-3.0zM1140.2 1431.4h3.0v2.95h-3.0zM1234.7 1431.4h3.0v2.95h-3.0zM1270.0 1431.4h3.0v2.95h-3.0zM1358.5 1431.4h3.0v2.95h-3.0zM1361.5 1434.3h3.0v2.95h-3.0zM1140.2 1437.3h5.9v2.95h-5.9zM1158.0 1437.3h3.0v2.95h-3.0zM1181.5 1437.3h3.0v2.95h-3.0zM1187.5 1437.3h3.0v2.95h-3.0zM1214.0 1437.3h3.0v2.95h-3.0zM1222.8 1437.3h5.9v2.95h-5.9zM1255.3 1437.3h3.0v2.95h-3.0zM1261.2 1437.3h3.0v2.95h-3.0zM1270.0 1437.3h3.0v2.95h-3.0zM1278.9 1437.3h3.0v2.95h-3.0zM1284.8 1437.3h3.0v2.95h-3.0zM1308.4 1437.3h5.9v2.95h-5.9zM1329.0 1437.3h3.0v2.95h-3.0zM1358.5 1437.3h5.9v2.95h-5.9zM1143.2 1440.2h8.9v2.95h-8.9zM1181.5 1440.2h3.0v2.95h-3.0zM1187.5 1440.2h3.0v2.95h-3.0zM1193.3 1440.2h3.0v2.95h-3.0zM1199.2 1440.2h5.9v2.95h-5.9zM1211.0 1440.2h5.9v2.95h-5.9zM1219.9 1440.2h5.9v2.95h-5.9zM1228.8 1440.2h3.0v2.95h-3.0zM1240.5 1440.2h3.0v2.95h-3.0zM1258.2 1440.2h3.0v2.95h-3.0zM1270.0 1440.2h3.0v2.95h-3.0zM1276.0 1440.2h8.9v2.95h-8.9zM1302.5 1440.2h3.0v2.95h-3.0zM1308.4 1440.2h3.0v2.95h-3.0zM1323.2 1440.2h3.0v2.95h-3.0zM1335.0 1440.2h3.0v2.95h-3.0zM1340.8 1440.2h5.9v2.95h-5.9zM1355.6 1440.2h3.0v2.95h-3.0zM1361.5 1440.2h3.0v2.95h-3.0zM1246.5 1443.2h5.9v2.95h-5.9z"/><path fill="#484848" d="M1152.0 1407.8h3.0v2.95h-3.0zM1166.8 1407.8h11.8v2.95h-11.8zM1181.5 1407.8h3.0v2.95h-3.0zM1190.4 1407.8h11.8v2.95h-11.8zM1208.1 1407.8h3.0v2.95h-3.0zM1214.0 1407.8h3.0v2.95h-3.0zM1255.3 1407.8h3.0v2.95h-3.0zM1278.9 1407.8h3.0v2.95h-3.0zM1284.8 1407.8h14.8v2.95h-14.8zM1305.5 1407.8h11.8v2.95h-11.8zM1320.2 1407.8h8.9v2.95h-8.9zM1335.0 1407.8h3.0v2.95h-3.0zM1340.8 1407.8h3.0v2.95h-3.0zM1346.8 1407.8h3.0v2.95h-3.0zM1352.7 1407.8h3.0v2.95h-3.0zM1361.5 1407.8h3.0v2.95h-3.0zM1137.3 1410.8h3.0v2.95h-3.0zM1152.0 1410.8h3.0v2.95h-3.0zM1160.9 1410.8h3.0v2.95h-3.0zM1166.8 1410.8h3.0v2.95h-3.0zM1172.7 1410.8h11.8v2.95h-11.8zM1187.5 1410.8h5.9v2.95h-5.9zM1196.3 1410.8h5.9v2.95h-5.9zM1217.0 1410.8h3.0v2.95h-3.0zM1290.7 1410.8h3.0v2.95h-3.0zM1302.5 1410.8h3.0v2.95h-3.0zM1308.4 1410.8h3.0v2.95h-3.0zM1323.2 1410.8h3.0v2.95h-3.0zM1329.0 1410.8h8.9v2.95h-8.9zM1343.8 1410.8h3.0v2.95h-3.0zM1355.6 1410.8h3.0v2.95h-3.0zM1140.2 1413.7h3.0v2.95h-3.0zM1267.1 1413.7h3.0v2.95h-3.0zM1137.3 1416.6h5.9v2.95h-5.9zM1228.8 1416.6h3.0v2.95h-3.0zM1237.6 1416.6h3.0v2.95h-3.0zM1358.5 1416.6h5.9v2.95h-5.9zM1234.7 1419.6h5.9v2.95h-5.9zM1270.0 1419.6h3.0v2.95h-3.0zM1358.5 1419.6h5.9v2.95h-5.9zM1140.2 1422.5h3.0v2.95h-3.0zM1361.5 1422.5h3.0v2.95h-3.0zM1273.0 1425.5h3.0v2.95h-3.0zM1361.5 1425.5h3.0v2.95h-3.0zM1270.0 1428.5h3.0v2.95h-3.0zM1358.5 1428.5h3.0v2.95h-3.0zM1137.3 1431.4h3.0v2.95h-3.0zM1225.8 1431.4h3.0v2.95h-3.0zM1267.1 1431.4h3.0v2.95h-3.0zM1273.0 1431.4h3.0v2.95h-3.0zM1361.5 1431.4h3.0v2.95h-3.0zM1225.8 1434.3h3.0v2.95h-3.0zM1264.2 1434.3h3.0v2.95h-3.0zM1273.0 1434.3h3.0v2.95h-3.0zM1146.2 1437.3h5.9v2.95h-5.9zM1160.9 1437.3h3.0v2.95h-3.0zM1172.7 1437.3h8.9v2.95h-8.9zM1190.4 1437.3h8.9v2.95h-8.9zM1202.2 1437.3h3.0v2.95h-3.0zM1208.1 1437.3h5.9v2.95h-5.9zM1217.0 1437.3h3.0v2.95h-3.0zM1228.8 1437.3h3.0v2.95h-3.0zM1240.5 1437.3h3.0v2.95h-3.0zM1249.4 1437.3h3.0v2.95h-3.0zM1258.2 1437.3h3.0v2.95h-3.0zM1273.0 1437.3h3.0v2.95h-3.0zM1281.8 1437.3h3.0v2.95h-3.0zM1296.6 1437.3h3.0v2.95h-3.0zM1314.3 1437.3h5.9v2.95h-5.9zM1323.2 1437.3h5.9v2.95h-5.9zM1337.9 1437.3h3.0v2.95h-3.0zM1346.8 1437.3h3.0v2.95h-3.0zM1352.7 1437.3h5.9v2.95h-5.9zM1158.0 1440.2h5.9v2.95h-5.9zM1169.8 1440.2h3.0v2.95h-3.0zM1178.6 1440.2h3.0v2.95h-3.0zM1184.5 1440.2h3.0v2.95h-3.0zM1190.4 1440.2h3.0v2.95h-3.0zM1196.3 1440.2h3.0v2.95h-3.0zM1205.2 1440.2h5.9v2.95h-5.9zM1284.8 1440.2h14.8v2.95h-14.8zM1311.3 1440.2h5.9v2.95h-5.9zM1320.2 1440.2h3.0v2.95h-3.0zM1326.1 1440.2h3.0v2.95h-3.0zM1337.9 1440.2h3.0v2.95h-3.0zM1349.7 1440.2h5.9v2.95h-5.9zM1252.3 1443.2h3.0v2.95h-3.0z"/><path fill="#545454" d="M1140.2 1407.8h3.0v2.95h-3.0zM1146.2 1407.8h3.0v2.95h-3.0zM1252.3 1407.8h3.0v2.95h-3.0zM1343.8 1407.8h3.0v2.95h-3.0zM1143.2 1410.8h3.0v2.95h-3.0zM1155.0 1410.8h3.0v2.95h-3.0zM1169.8 1410.8h3.0v2.95h-3.0zM1211.0 1410.8h3.0v2.95h-3.0zM1222.8 1410.8h3.0v2.95h-3.0zM1243.5 1410.8h3.0v2.95h-3.0zM1270.0 1410.8h5.9v2.95h-5.9zM1287.8 1410.8h3.0v2.95h-3.0zM1293.7 1410.8h8.9v2.95h-8.9zM1349.7 1410.8h3.0v2.95h-3.0zM1228.8 1413.7h3.0v2.95h-3.0zM1358.5 1413.7h3.0v2.95h-3.0zM1273.0 1419.6h3.0v2.95h-3.0zM1137.3 1422.5h3.0v2.95h-3.0zM1228.8 1422.5h3.0v2.95h-3.0zM1264.2 1422.5h3.0v2.95h-3.0zM1270.0 1422.5h3.0v2.95h-3.0zM1228.8 1425.5h3.0v2.95h-3.0zM1264.2 1425.5h3.0v2.95h-3.0zM1270.0 1425.5h3.0v2.95h-3.0zM1225.8 1428.5h3.0v2.95h-3.0zM1228.8 1431.4h3.0v2.95h-3.0zM1264.2 1431.4h3.0v2.95h-3.0zM1137.3 1434.3h3.0v2.95h-3.0zM1228.8 1434.3h3.0v2.95h-3.0zM1240.5 1434.3h3.0v2.95h-3.0zM1270.0 1434.3h3.0v2.95h-3.0zM1152.0 1437.3h5.9v2.95h-5.9zM1163.8 1437.3h3.0v2.95h-3.0zM1184.5 1437.3h3.0v2.95h-3.0zM1219.9 1437.3h3.0v2.95h-3.0zM1246.5 1437.3h3.0v2.95h-3.0zM1287.8 1437.3h5.9v2.95h-5.9zM1299.5 1437.3h3.0v2.95h-3.0zM1305.5 1437.3h3.0v2.95h-3.0zM1320.2 1437.3h3.0v2.95h-3.0zM1332.0 1437.3h3.0v2.95h-3.0zM1340.8 1437.3h5.9v2.95h-5.9zM1163.8 1440.2h3.0v2.95h-3.0zM1175.7 1440.2h3.0v2.95h-3.0zM1299.5 1440.2h3.0v2.95h-3.0zM1317.2 1440.2h3.0v2.95h-3.0zM1358.5 1440.2h3.0v2.95h-3.0z"/><path fill="#6c6c6c" d="M1258.2 1407.8h3.0v2.95h-3.0zM1234.7 1422.5h3.0v2.95h-3.0zM1237.6 1431.4h3.0v2.95h-3.0zM1237.6 1434.3h3.0v2.95h-3.0zM1243.5 1437.3h3.0v2.95h-3.0zM1255.3 1440.2h3.0v2.95h-3.0z"/><path fill="#787878" d="M1252.3 1437.3h3.0v2.95h-3.0zM1243.5 1440.2h3.0v2.95h-3.0z"/><path fill="#848484" d="M1264.2 1416.6h3.0v2.95h-3.0zM1237.6 1428.5h3.0v2.95h-3.0z"/><path fill="#909090" d="M1234.7 1425.5h3.0v2.95h-3.0zM1252.3 1440.2h3.0v2.95h-3.0z"/><path fill="#9c9c9c" d="M1261.2 1413.7h3.0v2.95h-3.0zM1267.1 1428.5h3.0v2.95h-3.0z"/><path fill="#a8a8a8" d="M1234.7 1428.5h3.0v2.95h-3.0zM1249.4 1440.2h3.0v2.95h-3.0z"/><path fill="#b4b4b4" d="M1258.2 1410.8h3.0v2.95h-3.0zM1264.2 1419.6h3.0v2.95h-3.0z"/><path fill="#c0c0c0" d="M1267.1 1425.5h3.0v2.95h-3.0z"/><path fill="#f0f0f0" d="M1267.1 1416.6h3.0v2.95h-3.0z"/><path fill="#fcfcfc" d="M1261.2 1410.8h3.0v2.95h-3.0zM1264.2 1413.7h3.0v2.95h-3.0zM1267.1 1419.6h3.0v2.95h-3.0zM1267.1 1422.5h3.0v2.95h-3.0zM1246.5 1440.2h3.0v2.95h-3.0z"/></g>
<rect x="1562.0" y="1229.3" width="379.2" height="379.4" fill="#000"/>
<g filter="url(#b2)"><path fill="#181818" d="M1750.0 1402.0h5.9v2.95h-5.9zM1732.3 1407.9h3.0v2.95h-3.0zM1761.8 1407.9h3.0v2.95h-3.0zM1637.9 1410.8h5.9v2.95h-5.9zM1649.7 1410.8h3.0v2.95h-3.0zM1655.6 1410.8h3.0v2.95h-3.0zM1667.4 1410.8h11.8v2.95h-11.8zM1688.1 1410.8h17.7v2.95h-17.7zM1711.7 1410.8h5.9v2.95h-5.9zM1723.5 1410.8h3.0v2.95h-3.0zM1729.4 1410.8h3.0v2.95h-3.0zM1770.7 1410.8h3.0v2.95h-3.0zM1779.5 1410.8h11.8v2.95h-11.8zM1800.2 1410.8h14.8v2.95h-14.8zM1820.8 1410.8h5.9v2.95h-5.9zM1835.6 1410.8h3.0v2.95h-3.0zM1844.4 1410.8h14.8v2.95h-14.8zM1637.9 1413.8h3.0v2.95h-3.0zM1649.7 1413.8h5.9v2.95h-5.9zM1667.4 1413.8h3.0v2.95h-3.0zM1673.3 1413.8h8.9v2.95h-8.9zM1688.1 1413.8h3.0v2.95h-3.0zM1696.9 1413.8h3.0v2.95h-3.0zM1702.8 1413.8h3.0v2.95h-3.0zM1711.7 1413.8h14.8v2.95h-14.8zM1770.7 1413.8h5.9v2.95h-5.9zM1779.5 1413.8h11.8v2.95h-11.8zM1797.2 1413.8h14.8v2.95h-14.8zM1820.8 1413.8h11.8v2.95h-11.8zM1844.4 1413.8h5.9v2.95h-5.9zM1856.2 1413.8h3.0v2.95h-3.0zM1640.9 1416.7h5.9v2.95h-5.9zM1649.7 1416.7h5.9v2.95h-5.9zM1670.4 1416.7h3.0v2.95h-3.0zM1676.2 1416.7h5.9v2.95h-5.9zM1688.1 1416.7h3.0v2.95h-3.0zM1696.9 1416.7h3.0v2.95h-3.0zM1717.6 1416.7h3.0v2.95h-3.0zM1723.5 1416.7h3.0v2.95h-3.0zM1770.7 1416.7h8.9v2.95h-8.9zM1782.5 1416.7h5.9v2.95h-5.9zM1797.2 1416.7h8.9v2.95h-8.9zM1809.0 1416.7h3.0v2.95h-3.0zM1823.8 1416.7h3.0v2.95h-3.0zM1829.7 1416.7h3.0v2.95h-3.0zM1844.4 1416.7h3.0v2.95h-3.0zM1850.3 1416.7h3.0v2.95h-3.0zM1856.2 1416.7h3.0v2.95h-3.0zM1637.9 1419.7h3.0v2.95h-3.0zM1646.8 1419.7h8.9v2.95h-8.9zM1664.5 1419.7h3.0v2.95h-3.0zM1673.3 1419.7h8.9v2.95h-8.9zM1688.1 1419.7h5.9v2.95h-5.9zM1696.9 1419.7h8.9v2.95h-8.9zM1714.6 1419.7h5.9v2.95h-5.9zM1723.5 1419.7h3.0v2.95h-3.0zM1770.7 1419.7h3.0v2.95h-3.0zM1776.6 1419.7h3.0v2.95h-3.0zM1785.4 1419.7h3.0v2.95h-3.0zM1797.2 1419.7h14.8v2.95h-14.8zM1820.8 1419.7h3.0v2.95h-3.0zM1826.7 1419.7h8.9v2.95h-8.9zM1847.4 1419.7h11.8v2.95h-11.8zM1637.9 1422.6h3.0v2.95h-3.0zM1643.8 1422.6h3.0v2.95h-3.0zM1649.7 1422.6h8.9v2.95h-8.9zM1667.4 1422.6h8.9v2.95h-8.9zM1696.9 1422.6h8.9v2.95h-8.9zM1717.6 1422.6h3.0v2.95h-3.0zM1773.6 1422.6h5.9v2.95h-5.9zM1788.4 1422.6h3.0v2.95h-3.0zM1797.2 1422.6h14.8v2.95h-14.8zM1820.8 1422.6h3.0v2.95h-3.0zM1826.7 1422.6h3.0v2.95h-3.0zM1832.6 1422.6h3.0v2.95h-3.0zM1844.4 1422.6h14.8v2.95h-14.8zM1637.9 1425.6h3.0v2.95h-3.0zM1643.8 1425.6h14.8v2.95h-14.8zM1664.5 1425.6h17.7v2.95h-17.7zM1688.1 1425.6h3.0v2.95h-3.0zM1699.9 1425.6h3.0v2.95h-3.0zM1711.7 1425.6h8.9v2.95h-8.9zM1723.5 1425.6h3.0v2.95h-3.0zM1773.6 1425.6h3.0v2.95h-3.0zM1779.5 1425.6h11.8v2.95h-11.8zM1797.2 1425.6h8.9v2.95h-8.9zM1820.8 1425.6h3.0v2.95h-3.0zM1826.7 1425.6h3.0v2.95h-3.0zM1832.6 1425.6h5.9v2.95h-5.9zM1844.4 1425.6h3.0v2.95h-3.0zM1850.3 1425.6h5.9v2.95h-5.9zM1637.9 1428.5h5.9v2.95h-5.9zM1646.8 1428.5h8.9v2.95h-8.9zM1667.4 1428.5h5.9v2.95h-5.9zM1676.2 1428.5h3.0v2.95h-3.0zM1688.1 1428.5h3.0v2.95h-3.0zM1694.0 1428.5h11.8v2.95h-11.8zM1711.7 1428.5h5.9v2.95h-5.9zM1720.5 1428.5h3.0v2.95h-3.0zM1770.7 1428.5h8.9v2.95h-8.9zM1782.5 1428.5h3.0v2.95h-3.0zM1797.2 1428.5h3.0v2.95h-3.0zM1803.1 1428.5h5.9v2.95h-5.9zM1812.0 1428.5h3.0v2.95h-3.0zM1820.8 1428.5h5.9v2.95h-5.9zM1829.7 1428.5h8.9v2.95h-8.9zM1847.4 1428.5h3.0v2.95h-3.0zM1853.2 1428.5h3.0v2.95h-3.0zM1640.9 1431.5h3.0v2.95h-3.0zM1646.8 1431.5h3.0v2.95h-3.0zM1655.6 1431.5h3.0v2.95h-3.0zM1667.4 1431.5h14.8v2.95h-14.8zM1688.1 1431.5h3.0v2.95h-3.0zM1694.0 1431.5h11.8v2.95h-11.8zM1711.7 1431.5h8.9v2.95h-8.9zM1723.5 1431.5h3.0v2.95h-3.0zM1770.7 1431.5h20.7v2.95h-20.7zM1797.2 1431.5h17.7v2.95h-17.7zM1823.8 1431.5h11.8v2.95h-11.8zM1844.4 1431.5h3.0v2.95h-3.0zM1850.3 1431.5h5.9v2.95h-5.9zM1637.9 1434.4h3.0v2.95h-3.0zM1643.8 1434.4h3.0v2.95h-3.0zM1649.7 1434.4h5.9v2.95h-5.9zM1664.5 1434.4h3.0v2.95h-3.0zM1670.4 1434.4h3.0v2.95h-3.0zM1676.2 1434.4h5.9v2.95h-5.9zM1688.1 1434.4h3.0v2.95h-3.0zM1694.0 1434.4h11.8v2.95h-11.8zM1717.6 1434.4h5.9v2.95h-5.9zM1773.6 1434.4h3.0v2.95h-3.0zM1788.4 1434.4h3.0v2.95h-3.0zM1797.2 1434.4h5.9v2.95h-5.9zM1806.1 1434.4h8.9v2.95h-8.9zM1820.8 1434.4h3.0v2.95h-3.0zM1829.7 1434.4h8.9v2.95h-8.9zM1850.3 1434.4h3.0v2.95h-3.0zM1856.2 1434.4h3.0v2.95h-3.0zM1637.9 1437.4h8.9v2.95h-8.9zM1652.7 1437.4h3.0v2.95h-3.0zM1667.4 1437.4h3.0v2.95h-3.0zM1673.3 1437.4h8.9v2.95h-8.9zM1688.1 1437.4h3.0v2.95h-3.0zM1696.9 1437.4h8.9v2.95h-8.9zM1711.7 1437.4h5.9v2.95h-5.9zM1720.5 1437.4h3.0v2.95h-3.0zM1729.4 1437.4h3.0v2.95h-3.0zM1770.7 1437.4h3.0v2.95h-3.0zM1776.6 1437.4h5.9v2.95h-5.9zM1785.4 1437.4h5.9v2.95h-5.9zM1800.2 1437.4h3.0v2.95h-3.0zM1809.0 1437.4h5.9v2.95h-5.9zM1823.8 1437.4h11.8v2.95h-11.8zM1844.4 1437.4h3.0v2.95h-3.0zM1850.3 1437.4h3.0v2.95h-3.0zM1856.2 1437.4h3.0v2.95h-3.0zM1732.3 1440.3h3.0v2.95h-3.0zM1758.9 1443.3h3.0v2.95h-3.0zM1744.1 1446.2h11.8v2.95h-11.8z"/><path fill="#242424" d="M1738.2 1404.9h5.9v2.95h-5.9zM1758.9 1404.9h3.0v2.95h-3.0zM1770.7 1425.6h3.0v2.95h-3.0zM1735.2 1440.3h3.0v2.95h-3.0z"/><path fill="#303030" d="M1661.5 1402.0h3.0v2.95h-3.0zM1667.4 1402.0h3.0v2.95h-3.0zM1685.1 1402.0h3.0v2.95h-3.0zM1711.7 1402.0h3.0v2.95h-3.0zM1826.7 1402.0h3.0v2.95h-3.0zM1832.6 1402.0h3.0v2.95h-3.0zM1838.5 1402.0h3.0v2.95h-3.0zM1853.2 1402.0h5.9v2.95h-5.9zM1640.9 1407.9h3.0v2.95h-3.0zM1655.6 1407.9h3.0v2.95h-3.0zM1688.1 1407.9h3.0v2.95h-3.0zM1770.7 1407.9h3.0v2.95h-3.0zM1788.4 1407.9h3.0v2.95h-3.0zM1809.0 1407.9h3.0v2.95h-3.0zM1823.8 1407.9h3.0v2.95h-3.0zM1844.4 1407.9h3.0v2.95h-3.0zM1853.2 1407.9h3.0v2.95h-3.0zM1729.4 1413.8h3.0v2.95h-3.0zM1770.7 1422.6h3.0v2.95h-3.0zM1729.4 1434.4h3.0v2.95h-3.0zM1738.2 1443.3h3.0v2.95h-3.0zM1643.8 1446.2h3.0v2.95h-3.0zM1664.5 1446.2h5.9v2.95h-5.9zM1682.2 1446.2h3.0v2.95h-3.0zM1785.4 1446.2h3.0v2.95h-3.0zM1794.2 1446.2h3.0v2.95h-3.0zM1812.0 1446.2h3.0v2.95h-3.0zM1823.8 1446.2h3.0v2.95h-3.0zM1832.6 1446.2h3.0v2.95h-3.0zM1853.2 1446.2h3.0v2.95h-3.0z"/><path fill="#3c3c3c" d="M1652.7 1402.0h3.0v2.95h-3.0zM1688.1 1402.0h8.9v2.95h-8.9zM1699.9 1402.0h3.0v2.95h-3.0zM1714.6 1402.0h3.0v2.95h-3.0zM1720.5 1402.0h3.0v2.95h-3.0zM1773.6 1402.0h3.0v2.95h-3.0zM1809.0 1402.0h3.0v2.95h-3.0zM1844.4 1402.0h5.9v2.95h-5.9zM1637.9 1407.9h3.0v2.95h-3.0zM1643.8 1407.9h3.0v2.95h-3.0zM1661.5 1407.9h3.0v2.95h-3.0zM1673.3 1407.9h3.0v2.95h-3.0zM1702.8 1407.9h3.0v2.95h-3.0zM1714.6 1407.9h3.0v2.95h-3.0zM1720.5 1407.9h3.0v2.95h-3.0zM1735.2 1407.9h5.9v2.95h-5.9zM1776.6 1407.9h3.0v2.95h-3.0zM1785.4 1407.9h3.0v2.95h-3.0zM1803.1 1407.9h3.0v2.95h-3.0zM1812.0 1407.9h5.9v2.95h-5.9zM1820.8 1407.9h3.0v2.95h-3.0zM1832.6 1407.9h5.9v2.95h-5.9zM1847.4 1407.9h3.0v2.95h-3.0zM1856.2 1407.9h3.0v2.95h-3.0zM1814.9 1410.8h3.0v2.95h-3.0zM1682.2 1413.8h3.0v2.95h-3.0zM1750.0 1416.7h3.0v2.95h-3.0zM1791.3 1416.7h5.9v2.95h-5.9zM1791.3 1419.7h3.0v2.95h-3.0zM1817.9 1419.7h3.0v2.95h-3.0zM1658.6 1422.6h5.9v2.95h-5.9zM1685.1 1425.6h3.0v2.95h-3.0zM1708.7 1425.6h3.0v2.95h-3.0zM1791.3 1425.6h3.0v2.95h-3.0zM1685.1 1428.5h3.0v2.95h-3.0zM1708.7 1428.5h3.0v2.95h-3.0zM1794.2 1428.5h3.0v2.95h-3.0zM1814.9 1428.5h5.9v2.95h-5.9zM1838.5 1428.5h3.0v2.95h-3.0zM1682.2 1431.5h3.0v2.95h-3.0zM1747.1 1431.5h3.0v2.95h-3.0zM1791.3 1431.5h3.0v2.95h-3.0zM1661.5 1434.4h3.0v2.95h-3.0zM1732.3 1437.4h3.0v2.95h-3.0zM1764.8 1437.4h3.0v2.95h-3.0zM1661.5 1446.2h3.0v2.95h-3.0zM1688.1 1446.2h3.0v2.95h-3.0zM1694.0 1446.2h3.0v2.95h-3.0zM1699.9 1446.2h3.0v2.95h-3.0zM1708.7 1446.2h3.0v2.95h-3.0zM1717.6 1446.2h5.9v2.95h-5.9zM1779.5 1446.2h5.9v2.95h-5.9zM1788.4 1446.2h3.0v2.95h-3.0zM1809.0 1446.2h3.0v2.95h-3.0zM1817.9 1446.2h5.9v2.95h-5.9zM1829.7 1446.2h3.0v2.95h-3.0zM1835.6 1446.2h3.0v2.95h-3.0z"/><path fill="#484848" d="M1640.9 1402.0h5.9v2.95h-5.9zM1670.4 1402.0h5.9v2.95h-5.9zM1679.2 1402.0h3.0v2.95h-3.0zM1702.8 1402.0h8.9v2.95h-8.9zM1776.6 1402.0h8.9v2.95h-8.9zM1791.3 1402.0h3.0v2.95h-3.0zM1803.1 1402.0h3.0v2.95h-3.0zM1812.0 1402.0h8.9v2.95h-8.9zM1829.7 1402.0h3.0v2.95h-3.0zM1850.3 1402.0h3.0v2.95h-3.0zM1755.9 1404.9h3.0v2.95h-3.0zM1646.8 1407.9h8.9v2.95h-8.9zM1658.6 1407.9h3.0v2.95h-3.0zM1667.4 1407.9h3.0v2.95h-3.0zM1685.1 1407.9h3.0v2.95h-3.0zM1696.9 1407.9h3.0v2.95h-3.0zM1711.7 1407.9h3.0v2.95h-3.0zM1717.6 1407.9h3.0v2.95h-3.0zM1773.6 1407.9h3.0v2.95h-3.0zM1779.5 1407.9h3.0v2.95h-3.0zM1791.3 1407.9h3.0v2.95h-3.0zM1826.7 1407.9h5.9v2.95h-5.9zM1841.5 1407.9h3.0v2.95h-3.0zM1705.8 1410.8h3.0v2.95h-3.0zM1732.3 1410.8h3.0v2.95h-3.0zM1764.8 1410.8h3.0v2.95h-3.0zM1661.5 1413.8h3.0v2.95h-3.0zM1705.8 1413.8h3.0v2.95h-3.0zM1841.5 1413.8h3.0v2.95h-3.0zM1661.5 1416.7h3.0v2.95h-3.0zM1744.1 1416.7h3.0v2.95h-3.0zM1817.9 1416.7h3.0v2.95h-3.0zM1838.5 1416.7h3.0v2.95h-3.0zM1658.6 1419.7h3.0v2.95h-3.0zM1705.8 1419.7h5.9v2.95h-5.9zM1841.5 1419.7h3.0v2.95h-3.0zM1685.1 1422.6h3.0v2.95h-3.0zM1741.2 1422.6h3.0v2.95h-3.0zM1814.9 1422.6h5.9v2.95h-5.9zM1661.5 1425.6h3.0v2.95h-3.0zM1750.0 1425.6h3.0v2.95h-3.0zM1838.5 1425.6h3.0v2.95h-3.0zM1741.2 1428.5h3.0v2.95h-3.0zM1791.3 1428.5h3.0v2.95h-3.0zM1841.5 1428.5h3.0v2.95h-3.0zM1738.2 1431.5h3.0v2.95h-3.0zM1817.9 1431.5h3.0v2.95h-3.0zM1658.6 1434.4h3.0v2.95h-3.0zM1791.3 1434.4h3.0v2.95h-3.0zM1817.9 1434.4h3.0v2.95h-3.0zM1841.5 1434.4h3.0v2.95h-3.0zM1814.9 1437.4h5.9v2.95h-5.9zM1841.5 1437.4h3.0v2.95h-3.0zM1640.9 1440.3h5.9v2.95h-5.9zM1717.6 1440.3h3.0v2.95h-3.0zM1761.8 1440.3h3.0v2.95h-3.0zM1785.4 1440.3h3.0v2.95h-3.0zM1755.9 1443.3h3.0v2.95h-3.0zM1670.4 1446.2h3.0v2.95h-3.0zM1676.2 1446.2h3.0v2.95h-3.0zM1685.1 1446.2h3.0v2.95h-3.0zM1702.8 1446.2h5.9v2.95h-5.9zM1723.5 1446.2h3.0v2.95h-3.0zM1773.6 1446.2h3.0v2.95h-3.0zM1806.1 1446.2h3.0v2.95h-3.0zM1841.5 1446.2h3.0v2.95h-3.0zM1856.2 1446.2h3.0v2.95h-3.0z"/><path fill="#545454" d="M1646.8 1402.0h5.9v2.95h-5.9zM1658.6 1402.0h3.0v2.95h-3.0zM1676.2 1402.0h3.0v2.95h-3.0zM1682.2 1402.0h3.0v2.95h-3.0zM1717.6 1402.0h3.0v2.95h-3.0zM1723.5 1402.0h3.0v2.95h-3.0zM1785.4 1402.0h5.9v2.95h-5.9zM1794.2 1402.0h8.9v2.95h-8.9zM1823.8 1402.0h3.0v2.95h-3.0zM1835.6 1402.0h3.0v2.95h-3.0zM1841.5 1402.0h3.0v2.95h-3.0zM1744.1 1404.9h8.9v2.95h-8.9zM1664.5 1407.9h3.0v2.95h-3.0zM1670.4 1407.9h3.0v2.95h-3.0zM1676.2 1407.9h5.9v2.95h-5.9zM1691.0 1407.9h5.9v2.95h-5.9zM1699.9 1407.9h3.0v2.95h-3.0zM1708.7 1407.9h3.0v2.95h-3.0zM1723.5 1407.9h3.0v2.95h-3.0zM1755.9 1407.9h5.9v2.95h-5.9zM1794.2 1407.9h3.0v2.95h-3.0zM1800.2 1407.9h3.0v2.95h-3.0zM1806.1 1407.9h3.0v2.95h-3.0zM1838.5 1407.9h3.0v2.95h-3.0zM1850.3 1407.9h3.0v2.95h-3.0zM1682.2 1410.8h3.0v2.95h-3.0zM1708.7 1410.8h3.0v2.95h-3.0zM1750.0 1410.8h3.0v2.95h-3.0zM1758.9 1410.8h3.0v2.95h-3.0zM1817.9 1410.8h3.0v2.95h-3.0zM1708.7 1413.8h3.0v2.95h-3.0zM1758.9 1413.8h3.0v2.95h-3.0zM1764.8 1413.8h3.0v2.95h-3.0zM1791.3 1413.8h3.0v2.95h-3.0zM1817.9 1413.8h3.0v2.95h-3.0zM1838.5 1413.8h3.0v2.95h-3.0zM1658.6 1416.7h3.0v2.95h-3.0zM1741.2 1416.7h3.0v2.95h-3.0zM1741.2 1419.7h3.0v2.95h-3.0zM1767.7 1419.7h3.0v2.95h-3.0zM1794.2 1419.7h3.0v2.95h-3.0zM1814.9 1419.7h3.0v2.95h-3.0zM1744.1 1422.6h3.0v2.95h-3.0zM1682.2 1425.6h3.0v2.95h-3.0zM1841.5 1425.6h3.0v2.95h-3.0zM1661.5 1428.5h3.0v2.95h-3.0zM1705.8 1428.5h3.0v2.95h-3.0zM1750.0 1428.5h3.0v2.95h-3.0zM1661.5 1431.5h3.0v2.95h-3.0zM1794.2 1431.5h3.0v2.95h-3.0zM1814.9 1431.5h3.0v2.95h-3.0zM1838.5 1431.5h3.0v2.95h-3.0zM1732.3 1434.4h3.0v2.95h-3.0zM1794.2 1434.4h3.0v2.95h-3.0zM1682.2 1437.4h3.0v2.95h-3.0zM1794.2 1437.4h3.0v2.95h-3.0zM1838.5 1437.4h3.0v2.95h-3.0zM1673.3 1440.3h3.0v2.95h-3.0zM1682.2 1440.3h3.0v2.95h-3.0zM1688.1 1440.3h3.0v2.95h-3.0zM1696.9 1440.3h3.0v2.95h-3.0zM1758.9 1440.3h3.0v2.95h-3.0zM1770.7 1440.3h5.9v2.95h-5.9zM1788.4 1440.3h3.0v2.95h-3.0zM1803.1 1440.3h3.0v2.95h-3.0zM1832.6 1440.3h3.0v2.95h-3.0zM1844.4 1440.3h3.0v2.95h-3.0zM1856.2 1440.3h3.0v2.95h-3.0zM1741.2 1443.3h3.0v2.95h-3.0zM1753.0 1443.3h3.0v2.95h-3.0zM1646.8 1446.2h3.0v2.95h-3.0zM1652.7 1446.2h5.9v2.95h-5.9zM1679.2 1446.2h3.0v2.95h-3.0zM1691.0 1446.2h3.0v2.95h-3.0zM1711.7 1446.2h3.0v2.95h-3.0zM1776.6 1446.2h3.0v2.95h-3.0zM1791.3 1446.2h3.0v2.95h-3.0zM1797.2 1446.2h8.9v2.95h-8.9zM1814.9 1446.2h3.0v2.95h-3.0zM1844.4 1446.2h3.0v2.95h-3.0zM1850.3 1446.2h3.0v2.95h-3.0z"/><path fill="#606060" d="M1655.6 1402.0h3.0v2.95h-3.0zM1664.5 1402.0h3.0v2.95h-3.0zM1696.9 1402.0h3.0v2.95h-3.0zM1806.1 1402.0h3.0v2.95h-3.0zM1820.8 1402.0h3.0v2.95h-3.0zM1753.0 1404.9h3.0v2.95h-3.0zM1682.2 1407.9h3.0v2.95h-3.0zM1705.8 1407.9h3.0v2.95h-3.0zM1782.5 1407.9h3.0v2.95h-3.0zM1797.2 1407.9h3.0v2.95h-3.0zM1658.6 1410.8h5.9v2.95h-5.9zM1726.4 1410.8h3.0v2.95h-3.0zM1767.7 1410.8h3.0v2.95h-3.0zM1791.3 1410.8h5.9v2.95h-5.9zM1838.5 1410.8h3.0v2.95h-3.0zM1794.2 1413.8h3.0v2.95h-3.0zM1682.2 1416.7h3.0v2.95h-3.0zM1747.1 1416.7h3.0v2.95h-3.0zM1685.1 1419.7h3.0v2.95h-3.0zM1705.8 1422.6h5.9v2.95h-5.9zM1726.4 1422.6h3.0v2.95h-3.0zM1753.0 1422.6h3.0v2.95h-3.0zM1838.5 1422.6h3.0v2.95h-3.0zM1658.6 1425.6h3.0v2.95h-3.0zM1705.8 1425.6h3.0v2.95h-3.0zM1753.0 1425.6h3.0v2.95h-3.0zM1761.8 1425.6h3.0v2.95h-3.0zM1794.2 1425.6h3.0v2.95h-3.0zM1814.9 1425.6h3.0v2.95h-3.0zM1682.2 1428.5h3.0v2.95h-3.0zM1726.4 1428.5h3.0v2.95h-3.0zM1744.1 1428.5h5.9v2.95h-5.9zM1758.9 1428.5h3.0v2.95h-3.0zM1685.1 1431.5h3.0v2.95h-3.0zM1708.7 1431.5h3.0v2.95h-3.0zM1726.4 1431.5h5.9v2.95h-5.9zM1741.2 1431.5h3.0v2.95h-3.0zM1859.2 1431.5h3.0v2.95h-3.0zM1635.0 1434.4h3.0v2.95h-3.0zM1705.8 1434.4h5.9v2.95h-5.9zM1750.0 1434.4h3.0v2.95h-3.0zM1658.6 1437.4h5.9v2.95h-5.9zM1705.8 1437.4h3.0v2.95h-3.0zM1726.4 1437.4h3.0v2.95h-3.0zM1791.3 1437.4h3.0v2.95h-3.0zM1859.2 1437.4h3.0v2.95h-3.0zM1652.7 1440.3h3.0v2.95h-3.0zM1679.2 1440.3h3.0v2.95h-3.0zM1723.5 1440.3h3.0v2.95h-3.0zM1776.6 1440.3h3.0v2.95h-3.0zM1806.1 1440.3h3.0v2.95h-3.0zM1847.4 1440.3h3.0v2.95h-3.0zM1859.2 1440.3h3.0v2.95h-3.0zM1640.9 1446.2h3.0v2.95h-3.0zM1649.7 1446.2h3.0v2.95h-3.0zM1658.6 1446.2h3.0v2.95h-3.0zM1673.3 1446.2h3.0v2.95h-3.0zM1696.9 1446.2h3.0v2.95h-3.0zM1714.6 1446.2h3.0v2.95h-3.0zM1826.7 1446.2h3.0v2.95h-3.0zM1838.5 1446.2h3.0v2.95h-3.0zM1847.4 1446.2h3.0v2.95h-3.0z"/><path fill="#6c6c6c" d="M1635.0 1407.9h3.0v2.95h-3.0zM1741.2 1407.9h3.0v2.95h-3.0zM1817.9 1407.9h3.0v2.95h-3.0zM1859.2 1407.9h3.0v2.95h-3.0zM1685.1 1410.8h3.0v2.95h-3.0zM1741.2 1410.8h3.0v2.95h-3.0zM1841.5 1410.8h3.0v2.95h-3.0zM1658.6 1413.8h3.0v2.95h-3.0zM1685.1 1413.8h3.0v2.95h-3.0zM1741.2 1413.8h3.0v2.95h-3.0zM1747.1 1413.8h3.0v2.95h-3.0zM1755.9 1413.8h3.0v2.95h-3.0zM1814.9 1413.8h3.0v2.95h-3.0zM1705.8 1416.7h5.9v2.95h-5.9zM1726.4 1416.7h5.9v2.95h-5.9zM1738.2 1416.7h3.0v2.95h-3.0zM1755.9 1416.7h3.0v2.95h-3.0zM1814.9 1416.7h3.0v2.95h-3.0zM1841.5 1416.7h3.0v2.95h-3.0zM1661.5 1419.7h3.0v2.95h-3.0zM1682.2 1419.7h3.0v2.95h-3.0zM1726.4 1419.7h5.9v2.95h-5.9zM1755.9 1419.7h3.0v2.95h-3.0zM1838.5 1419.7h3.0v2.95h-3.0zM1635.0 1422.6h3.0v2.95h-3.0zM1682.2 1422.6h3.0v2.95h-3.0zM1729.4 1422.6h3.0v2.95h-3.0zM1735.2 1422.6h5.9v2.95h-5.9zM1747.1 1422.6h3.0v2.95h-3.0zM1791.3 1422.6h5.9v2.95h-5.9zM1841.5 1422.6h3.0v2.95h-3.0zM1859.2 1422.6h3.0v2.95h-3.0zM1817.9 1425.6h3.0v2.95h-3.0zM1658.6 1428.5h3.0v2.95h-3.0zM1658.6 1431.5h3.0v2.95h-3.0zM1705.8 1431.5h3.0v2.95h-3.0zM1755.9 1431.5h3.0v2.95h-3.0zM1841.5 1431.5h3.0v2.95h-3.0zM1682.2 1434.4h5.9v2.95h-5.9zM1747.1 1434.4h3.0v2.95h-3.0zM1814.9 1434.4h3.0v2.95h-3.0zM1838.5 1434.4h3.0v2.95h-3.0zM1635.0 1437.4h3.0v2.95h-3.0zM1685.1 1437.4h3.0v2.95h-3.0zM1708.7 1437.4h3.0v2.95h-3.0zM1755.9 1437.4h3.0v2.95h-3.0zM1767.7 1437.4h3.0v2.95h-3.0zM1649.7 1440.3h3.0v2.95h-3.0zM1658.6 1440.3h3.0v2.95h-3.0zM1664.5 1440.3h8.9v2.95h-8.9zM1720.5 1440.3h3.0v2.95h-3.0zM1738.2 1440.3h3.0v2.95h-3.0zM1797.2 1440.3h3.0v2.95h-3.0zM1809.0 1440.3h3.0v2.95h-3.0zM1817.9 1440.3h3.0v2.95h-3.0zM1823.8 1440.3h3.0v2.95h-3.0zM1829.7 1440.3h3.0v2.95h-3.0zM1838.5 1440.3h5.9v2.95h-5.9zM1747.1 1443.3h5.9v2.95h-5.9z"/><path fill="#787878" d="M1747.1 1410.8h3.0v2.95h-3.0zM1859.2 1410.8h3.0v2.95h-3.0zM1753.0 1413.8h3.0v2.95h-3.0zM1685.1 1416.7h3.0v2.95h-3.0zM1753.0 1416.7h3.0v2.95h-3.0zM1635.0 1419.7h3.0v2.95h-3.0zM1744.1 1419.7h5.9v2.95h-5.9zM1753.0 1419.7h3.0v2.95h-3.0zM1758.9 1419.7h3.0v2.95h-3.0zM1735.2 1425.6h8.9v2.95h-8.9zM1758.9 1425.6h3.0v2.95h-3.0zM1635.0 1428.5h3.0v2.95h-3.0zM1755.9 1428.5h3.0v2.95h-3.0zM1753.0 1431.5h3.0v2.95h-3.0zM1726.4 1434.4h3.0v2.95h-3.0zM1755.9 1434.4h3.0v2.95h-3.0zM1741.2 1437.4h3.0v2.95h-3.0zM1753.0 1437.4h3.0v2.95h-3.0zM1761.8 1437.4h3.0v2.95h-3.0zM1676.2 1440.3h3.0v2.95h-3.0zM1691.0 1440.3h3.0v2.95h-3.0zM1699.9 1440.3h5.9v2.95h-5.9zM1708.7 1440.3h8.9v2.95h-8.9zM1726.4 1440.3h3.0v2.95h-3.0zM1791.3 1440.3h3.0v2.95h-3.0zM1800.2 1440.3h3.0v2.95h-3.0zM1853.2 1440.3h3.0v2.95h-3.0zM1744.1 1443.3h3.0v2.95h-3.0z"/><path fill="#848484" d="M1755.9 1410.8h3.0v2.95h-3.0zM1859.2 1416.7h3.0v2.95h-3.0zM1767.7 1422.6h3.0v2.95h-3.0zM1747.1 1425.6h3.0v2.95h-3.0zM1755.9 1425.6h3.0v2.95h-3.0zM1859.2 1425.6h3.0v2.95h-3.0zM1735.2 1428.5h3.0v2.95h-3.0zM1767.7 1428.5h3.0v2.95h-3.0zM1764.8 1434.4h5.9v2.95h-5.9zM1750.0 1437.4h3.0v2.95h-3.0zM1646.8 1440.3h3.0v2.95h-3.0zM1655.6 1440.3h3.0v2.95h-3.0zM1661.5 1440.3h3.0v2.95h-3.0zM1705.8 1440.3h3.0v2.95h-3.0zM1782.5 1440.3h3.0v2.95h-3.0zM1794.2 1440.3h3.0v2.95h-3.0zM1812.0 1440.3h3.0v2.95h-3.0zM1820.8 1440.3h3.0v2.95h-3.0zM1826.7 1440.3h3.0v2.95h-3.0zM1850.3 1440.3h3.0v2.95h-3.0z"/><path fill="#909090" d="M1726.4 1407.9h3.0v2.95h-3.0zM1635.0 1410.8h3.0v2.95h-3.0zM1744.1 1410.8h3.0v2.95h-3.0zM1635.0 1413.8h3.0v2.95h-3.0zM1726.4 1413.8h3.0v2.95h-3.0zM1732.3 1413.8h3.0v2.95h-3.0zM1744.1 1413.8h3.0v2.95h-3.0zM1750.0 1413.8h3.0v2.95h-3.0zM1767.7 1413.8h3.0v2.95h-3.0zM1635.0 1416.7h3.0v2.95h-3.0zM1758.9 1416.7h3.0v2.95h-3.0zM1767.7 1416.7h3.0v2.95h-3.0zM1635.0 1425.6h3.0v2.95h-3.0zM1726.4 1425.6h3.0v2.95h-3.0zM1744.1 1425.6h3.0v2.95h-3.0zM1738.2 1428.5h3.0v2.95h-3.0zM1753.0 1428.5h3.0v2.95h-3.0zM1859.2 1428.5h3.0v2.95h-3.0zM1741.2 1434.4h5.9v2.95h-5.9zM1753.0 1434.4h3.0v2.95h-3.0zM1747.1 1437.4h3.0v2.95h-3.0zM1637.9 1440.3h3.0v2.95h-3.0zM1685.1 1440.3h3.0v2.95h-3.0zM1694.0 1440.3h3.0v2.95h-3.0zM1750.0 1440.3h3.0v2.95h-3.0zM1755.9 1440.3h3.0v2.95h-3.0zM1779.5 1440.3h3.0v2.95h-3.0zM1814.9 1440.3h3.0v2.95h-3.0zM1835.6 1440.3h3.0v2.95h-3.0z"/><path fill="#9c9c9c" d="M1750.0 1407.9h3.0v2.95h-3.0zM1753.0 1410.8h3.0v2.95h-3.0zM1761.8 1410.8h3.0v2.95h-3.0zM1735.2 1413.8h3.0v2.95h-3.0zM1735.2 1419.7h5.9v2.95h-5.9zM1750.0 1419.7h3.0v2.95h-3.0zM1750.0 1422.6h3.0v2.95h-3.0zM1755.9 1422.6h5.9v2.95h-5.9zM1744.1 1431.5h3.0v2.95h-3.0zM1750.0 1431.5h3.0v2.95h-3.0zM1758.9 1431.5h3.0v2.95h-3.0zM1758.9 1437.4h3.0v2.95h-3.0zM1635.0 1440.3h3.0v2.95h-3.0zM1767.7 1440.3h3.0v2.95h-3.0z"/><path fill="#a8a8a8" d="M1744.1 1407.9h3.0v2.95h-3.0zM1753.0 1407.9h3.0v2.95h-3.0zM1767.7 1407.9h3.0v2.95h-3.0zM1859.2 1413.8h3.0v2.95h-3.0zM1735.2 1416.7h3.0v2.95h-3.0zM1859.2 1419.7h3.0v2.95h-3.0zM1729.4 1428.5h3.0v2.95h-3.0zM1767.7 1431.5h3.0v2.95h-3.0zM1859.2 1434.4h3.0v2.95h-3.0zM1744.1 1437.4h3.0v2.95h-3.0zM1741.2 1440.3h3.0v2.95h-3.0zM1753.0 1440.3h3.0v2.95h-3.0z"/><path fill="#b4b4b4" d="M1735.2 1410.8h5.9v2.95h-5.9zM1761.8 1422.6h3.0v2.95h-3.0zM1764.8 1425.6h3.0v2.95h-3.0zM1732.3 1428.5h3.0v2.95h-3.0zM1761.8 1428.5h3.0v2.95h-3.0zM1635.0 1431.5h3.0v2.95h-3.0zM1732.3 1431.5h3.0v2.95h-3.0zM1758.9 1434.4h3.0v2.95h-3.0zM1735.2 1437.4h3.0v2.95h-3.0z"/><path fill="#c0c0c0" d="M1747.1 1407.9h3.0v2.95h-3.0zM1738.2 1413.8h3.0v2.95h-3.0zM1729.4 1425.6h3.0v2.95h-3.0zM1767.7 1425.6h3.0v2.95h-3.0z"/><path fill="#cccccc" d="M1761.8 1419.7h3.0v2.95h-3.0zM1764.8 1428.5h3.0v2.95h-3.0z"/><path fill="#d8d8d8" d="M1761.8 1413.8h3.0v2.95h-3.0zM1761.8 1434.4h3.0v2.95h-3.0zM1738.2 1437.4h3.0v2.95h-3.0z"/><path fill="#e4e4e4" d="M1732.3 1419.7h3.0v2.95h-3.0zM1764.8 1422.6h3.0v2.95h-3.0zM1761.8 1431.5h3.0v2.95h-3.0zM1735.2 1434.4h3.0v2.95h-3.0z"/><path fill="#f0f0f0" d="M1761.8 1416.7h5.9v2.95h-5.9zM1764.8 1431.5h3.0v2.95h-3.0zM1738.2 1434.4h3.0v2.95h-3.0zM1744.1 1440.3h3.0v2.95h-3.0z"/><path fill="#fcfcfc" d="M1732.3 1416.7h3.0v2.95h-3.0zM1764.8 1419.7h3.0v2.95h-3.0zM1732.3 1422.6h3.0v2.95h-3.0zM1732.3 1425.6h3.0v2.95h-3.0zM1735.2 1431.5h3.0v2.95h-3.0zM1747.1 1440.3h3.0v2.95h-3.0z"/></g>
<rect x="2060.5" y="1229.3" width="379.5" height="379.4" fill="#000"/>
<g filter="url(#b2)"><path fill="#181818" d="M2186.7 1407.9h3.0v2.95h-3.0zM2195.6 1407.9h3.0v2.95h-3.0zM2242.8 1407.9h3.0v2.95h-3.0zM2254.6 1407.9h3.0v2.95h-3.0zM2328.3 1407.9h3.0v2.95h-3.0zM2139.5 1410.8h11.8v2.95h-11.8zM2160.2 1410.8h8.9v2.95h-8.9zM2177.9 1410.8h5.9v2.95h-5.9zM2186.7 1410.8h3.0v2.95h-3.0zM2192.6 1410.8h3.0v2.95h-3.0zM2198.5 1410.8h5.9v2.95h-5.9zM2236.9 1410.8h3.0v2.95h-3.0zM2257.5 1410.8h3.0v2.95h-3.0zM2269.3 1410.8h3.0v2.95h-3.0zM2284.1 1410.8h8.9v2.95h-8.9zM2310.6 1410.8h8.9v2.95h-8.9zM2325.4 1410.8h3.0v2.95h-3.0zM2331.2 1410.8h3.0v2.95h-3.0zM2340.1 1410.8h3.0v2.95h-3.0zM2349.0 1410.8h5.9v2.95h-5.9zM2136.6 1413.8h3.0v2.95h-3.0zM2142.5 1413.8h3.0v2.95h-3.0zM2157.2 1413.8h3.0v2.95h-3.0zM2169.0 1413.8h3.0v2.95h-3.0zM2180.8 1413.8h3.0v2.95h-3.0zM2186.7 1413.8h3.0v2.95h-3.0zM2192.6 1413.8h11.8v2.95h-11.8zM2216.2 1413.8h5.9v2.95h-5.9zM2257.5 1413.8h3.0v2.95h-3.0zM2269.3 1413.8h3.0v2.95h-3.0zM2275.2 1413.8h3.0v2.95h-3.0zM2281.1 1413.8h3.0v2.95h-3.0zM2295.9 1413.8h5.9v2.95h-5.9zM2307.7 1413.8h5.9v2.95h-5.9zM2316.5 1413.8h5.9v2.95h-5.9zM2328.3 1413.8h14.8v2.95h-14.8zM2346.0 1413.8h3.0v2.95h-3.0zM2145.4 1416.7h5.9v2.95h-5.9zM2157.2 1416.7h3.0v2.95h-3.0zM2169.0 1416.7h3.0v2.95h-3.0zM2177.9 1416.7h5.9v2.95h-5.9zM2195.6 1416.7h8.9v2.95h-8.9zM2210.3 1416.7h3.0v2.95h-3.0zM2216.2 1416.7h3.0v2.95h-3.0zM2222.1 1416.7h3.0v2.95h-3.0zM2269.3 1416.7h3.0v2.95h-3.0zM2278.2 1416.7h5.9v2.95h-5.9zM2290.0 1416.7h3.0v2.95h-3.0zM2295.9 1416.7h3.0v2.95h-3.0zM2307.7 1416.7h14.8v2.95h-14.8zM2334.2 1416.7h3.0v2.95h-3.0zM2343.1 1416.7h3.0v2.95h-3.0zM2349.0 1416.7h8.9v2.95h-8.9zM2136.6 1419.7h5.9v2.95h-5.9zM2148.4 1419.7h3.0v2.95h-3.0zM2163.1 1419.7h3.0v2.95h-3.0zM2174.9 1419.7h11.8v2.95h-11.8zM2192.6 1419.7h3.0v2.95h-3.0zM2198.5 1419.7h8.9v2.95h-8.9zM2210.3 1419.7h3.0v2.95h-3.0zM2260.5 1419.7h3.0v2.95h-3.0zM2269.3 1419.7h8.9v2.95h-8.9zM2295.9 1419.7h3.0v2.95h-3.0zM2301.8 1419.7h3.0v2.95h-3.0zM2313.6 1419.7h5.9v2.95h-5.9zM2325.4 1419.7h3.0v2.95h-3.0zM2331.2 1419.7h3.0v2.95h-3.0zM2337.2 1419.7h5.9v2.95h-5.9zM2346.0 1419.7h5.9v2.95h-5.9zM2136.6 1422.6h11.8v2.95h-11.8zM2163.1 1422.6h3.0v2.95h-3.0zM2169.0 1422.6h3.0v2.95h-3.0zM2174.9 1422.6h5.9v2.95h-5.9zM2183.8 1422.6h3.0v2.95h-3.0zM2195.6 1422.6h14.8v2.95h-14.8zM2216.2 1422.6h8.9v2.95h-8.9zM2275.2 1422.6h8.9v2.95h-8.9zM2287.0 1422.6h3.0v2.95h-3.0zM2298.8 1422.6h8.9v2.95h-8.9zM2310.6 1422.6h3.0v2.95h-3.0zM2325.4 1422.6h3.0v2.95h-3.0zM2334.2 1422.6h3.0v2.95h-3.0zM2340.1 1422.6h3.0v2.95h-3.0zM2349.0 1422.6h3.0v2.95h-3.0zM2136.6 1425.6h3.0v2.95h-3.0zM2148.4 1425.6h3.0v2.95h-3.0zM2163.1 1425.6h3.0v2.95h-3.0zM2169.0 1425.6h3.0v2.95h-3.0zM2174.9 1425.6h5.9v2.95h-5.9zM2183.8 1425.6h3.0v2.95h-3.0zM2195.6 1425.6h5.9v2.95h-5.9zM2204.4 1425.6h3.0v2.95h-3.0zM2213.2 1425.6h3.0v2.95h-3.0zM2260.5 1425.6h3.0v2.95h-3.0zM2275.2 1425.6h8.9v2.95h-8.9zM2287.0 1425.6h3.0v2.95h-3.0zM2298.8 1425.6h5.9v2.95h-5.9zM2307.7 1425.6h8.9v2.95h-8.9zM2319.5 1425.6h3.0v2.95h-3.0zM2325.4 1425.6h11.8v2.95h-11.8zM2340.1 1425.6h3.0v2.95h-3.0zM2346.0 1425.6h3.0v2.95h-3.0zM2351.9 1425.6h5.9v2.95h-5.9zM2136.6 1428.5h3.0v2.95h-3.0zM2142.5 1428.5h3.0v2.95h-3.0zM2148.4 1428.5h3.0v2.95h-3.0zM2166.1 1428.5h3.0v2.95h-3.0zM2174.9 1428.5h17.7v2.95h-17.7zM2210.3 1428.5h3.0v2.95h-3.0zM2219.2 1428.5h5.9v2.95h-5.9zM2260.5 1428.5h3.0v2.95h-3.0zM2281.1 1428.5h3.0v2.95h-3.0zM2287.0 1428.5h3.0v2.95h-3.0zM2292.9 1428.5h5.9v2.95h-5.9zM2301.8 1428.5h3.0v2.95h-3.0zM2307.7 1428.5h8.9v2.95h-8.9zM2319.5 1428.5h8.9v2.95h-8.9zM2331.2 1428.5h11.8v2.95h-11.8zM2346.0 1428.5h3.0v2.95h-3.0zM2139.5 1431.5h11.8v2.95h-11.8zM2154.2 1431.5h5.9v2.95h-5.9zM2166.1 1431.5h3.0v2.95h-3.0zM2174.9 1431.5h3.0v2.95h-3.0zM2183.8 1431.5h3.0v2.95h-3.0zM2192.6 1431.5h3.0v2.95h-3.0zM2201.5 1431.5h3.0v2.95h-3.0zM2207.4 1431.5h3.0v2.95h-3.0zM2219.2 1431.5h5.9v2.95h-5.9zM2269.3 1431.5h5.9v2.95h-5.9zM2278.2 1431.5h3.0v2.95h-3.0zM2290.0 1431.5h11.8v2.95h-11.8zM2310.6 1431.5h3.0v2.95h-3.0zM2316.5 1431.5h5.9v2.95h-5.9zM2325.4 1431.5h17.7v2.95h-17.7zM2349.0 1431.5h3.0v2.95h-3.0zM2354.9 1431.5h3.0v2.95h-3.0zM2139.5 1434.4h3.0v2.95h-3.0zM2148.4 1434.4h3.0v2.95h-3.0zM2154.2 1434.4h3.0v2.95h-3.0zM2163.1 1434.4h8.9v2.95h-8.9zM2177.9 1434.4h3.0v2.95h-3.0zM2186.7 1434.4h5.9v2.95h-5.9zM2195.6 1434.4h11.8v2.95h-11.8zM2216.2 1434.4h8.9v2.95h-8.9zM2233.9 1434.4h3.0v2.95h-3.0zM2275.2 1434.4h3.0v2.95h-3.0zM2284.1 1434.4h8.9v2.95h-8.9zM2310.6 1434.4h3.0v2.95h-3.0zM2316.5 1434.4h3.0v2.95h-3.0zM2328.3 1434.4h11.8v2.95h-11.8zM2349.0 1434.4h3.0v2.95h-3.0zM2354.9 1434.4h3.0v2.95h-3.0zM2136.6 1437.4h11.8v2.95h-11.8zM2160.2 1437.4h3.0v2.95h-3.0zM2166.1 1437.4h5.9v2.95h-5.9zM2180.8 1437.4h3.0v2.95h-3.0zM2186.7 1437.4h3.0v2.95h-3.0zM2195.6 1437.4h8.9v2.95h-8.9zM2207.4 1437.4h11.8v2.95h-11.8zM2222.1 1437.4h3.0v2.95h-3.0zM2269.3 1437.4h5.9v2.95h-5.9zM2278.2 1437.4h5.9v2.95h-5.9zM2287.0 1437.4h8.9v2.95h-8.9zM2310.6 1437.4h3.0v2.95h-3.0zM2316.5 1437.4h3.0v2.95h-3.0zM2325.4 1437.4h5.9v2.95h-5.9zM2337.2 1437.4h5.9v2.95h-5.9zM2346.0 1437.4h11.8v2.95h-11.8zM2242.8 1440.3h3.0v2.95h-3.0zM2254.6 1440.3h3.0v2.95h-3.0z"/><path fill="#242424" d="M2145.4 1407.9h3.0v2.95h-3.0zM2151.3 1407.9h3.0v2.95h-3.0zM2157.2 1407.9h3.0v2.95h-3.0zM2169.0 1407.9h3.0v2.95h-3.0zM2174.9 1407.9h3.0v2.95h-3.0zM2204.4 1407.9h3.0v2.95h-3.0zM2213.2 1407.9h3.0v2.95h-3.0zM2222.1 1407.9h3.0v2.95h-3.0zM2251.6 1407.9h3.0v2.95h-3.0zM2272.2 1407.9h3.0v2.95h-3.0zM2284.1 1407.9h3.0v2.95h-3.0zM2322.4 1407.9h3.0v2.95h-3.0zM2340.1 1407.9h5.9v2.95h-5.9zM2136.6 1410.8h3.0v2.95h-3.0zM2154.2 1410.8h5.9v2.95h-5.9zM2183.8 1410.8h3.0v2.95h-3.0zM2207.4 1410.8h5.9v2.95h-5.9zM2216.2 1410.8h3.0v2.95h-3.0zM2295.9 1410.8h3.0v2.95h-3.0zM2328.3 1410.8h3.0v2.95h-3.0zM2148.4 1413.8h3.0v2.95h-3.0zM2210.3 1413.8h5.9v2.95h-5.9zM2222.1 1413.8h3.0v2.95h-3.0zM2290.0 1413.8h3.0v2.95h-3.0zM2304.7 1413.8h3.0v2.95h-3.0zM2322.4 1413.8h3.0v2.95h-3.0zM2343.1 1413.8h3.0v2.95h-3.0zM2351.9 1413.8h3.0v2.95h-3.0zM2160.2 1416.7h3.0v2.95h-3.0zM2172.0 1416.7h3.0v2.95h-3.0zM2192.6 1416.7h3.0v2.95h-3.0zM2207.4 1416.7h3.0v2.95h-3.0zM2284.1 1416.7h3.0v2.95h-3.0zM2301.8 1416.7h5.9v2.95h-5.9zM2322.4 1416.7h3.0v2.95h-3.0zM2328.3 1416.7h3.0v2.95h-3.0zM2340.1 1416.7h3.0v2.95h-3.0zM2142.5 1419.7h5.9v2.95h-5.9zM2151.3 1419.7h8.9v2.95h-8.9zM2169.0 1419.7h5.9v2.95h-5.9zM2213.2 1419.7h3.0v2.95h-3.0zM2222.1 1419.7h3.0v2.95h-3.0zM2231.0 1419.7h3.0v2.95h-3.0zM2254.6 1419.7h3.0v2.95h-3.0zM2281.1 1419.7h3.0v2.95h-3.0zM2328.3 1419.7h3.0v2.95h-3.0zM2157.2 1422.6h3.0v2.95h-3.0zM2166.1 1422.6h3.0v2.95h-3.0zM2172.0 1422.6h3.0v2.95h-3.0zM2180.8 1422.6h3.0v2.95h-3.0zM2245.7 1422.6h3.0v2.95h-3.0zM2257.5 1422.6h5.9v2.95h-5.9zM2272.2 1422.6h3.0v2.95h-3.0zM2284.1 1422.6h3.0v2.95h-3.0zM2319.5 1422.6h3.0v2.95h-3.0zM2142.5 1425.6h5.9v2.95h-5.9zM2151.3 1425.6h5.9v2.95h-5.9zM2186.7 1425.6h3.0v2.95h-3.0zM2207.4 1425.6h3.0v2.95h-3.0zM2245.7 1425.6h3.0v2.95h-3.0zM2284.1 1425.6h3.0v2.95h-3.0zM2295.9 1425.6h3.0v2.95h-3.0zM2337.2 1425.6h3.0v2.95h-3.0zM2349.0 1425.6h3.0v2.95h-3.0zM2154.2 1428.5h5.9v2.95h-5.9zM2163.1 1428.5h3.0v2.95h-3.0zM2192.6 1428.5h5.9v2.95h-5.9zM2204.4 1428.5h3.0v2.95h-3.0zM2213.2 1428.5h3.0v2.95h-3.0zM2248.7 1428.5h3.0v2.95h-3.0zM2272.2 1428.5h5.9v2.95h-5.9zM2298.8 1428.5h3.0v2.95h-3.0zM2351.9 1428.5h3.0v2.95h-3.0zM2151.3 1431.5h3.0v2.95h-3.0zM2169.0 1431.5h3.0v2.95h-3.0zM2177.9 1431.5h3.0v2.95h-3.0zM2186.7 1431.5h3.0v2.95h-3.0zM2195.6 1431.5h3.0v2.95h-3.0zM2210.3 1431.5h3.0v2.95h-3.0zM2231.0 1431.5h3.0v2.95h-3.0zM2248.7 1431.5h3.0v2.95h-3.0zM2254.6 1431.5h3.0v2.95h-3.0zM2260.5 1431.5h3.0v2.95h-3.0zM2275.2 1431.5h3.0v2.95h-3.0zM2281.1 1431.5h3.0v2.95h-3.0zM2301.8 1431.5h3.0v2.95h-3.0zM2307.7 1431.5h3.0v2.95h-3.0zM2346.0 1431.5h3.0v2.95h-3.0zM2136.6 1434.4h3.0v2.95h-3.0zM2151.3 1434.4h3.0v2.95h-3.0zM2180.8 1434.4h3.0v2.95h-3.0zM2192.6 1434.4h3.0v2.95h-3.0zM2210.3 1434.4h3.0v2.95h-3.0zM2257.5 1434.4h3.0v2.95h-3.0zM2292.9 1434.4h3.0v2.95h-3.0zM2298.8 1434.4h3.0v2.95h-3.0zM2304.7 1434.4h5.9v2.95h-5.9zM2313.6 1434.4h3.0v2.95h-3.0zM2157.2 1437.4h3.0v2.95h-3.0zM2163.1 1437.4h3.0v2.95h-3.0zM2172.0 1437.4h3.0v2.95h-3.0zM2183.8 1437.4h3.0v2.95h-3.0zM2189.7 1437.4h3.0v2.95h-3.0zM2204.4 1437.4h3.0v2.95h-3.0zM2236.9 1437.4h5.9v2.95h-5.9zM2301.8 1437.4h8.9v2.95h-8.9zM2313.6 1437.4h3.0v2.95h-3.0zM2322.4 1437.4h3.0v2.95h-3.0zM2331.2 1437.4h3.0v2.95h-3.0zM2272.2 1446.2h3.0v2.95h-3.0z"/><path fill="#303030" d="M2180.8 1402.0h8.9v2.95h-8.9zM2198.5 1402.0h5.9v2.95h-5.9zM2207.4 1402.0h5.9v2.95h-5.9zM2307.7 1402.0h5.9v2.95h-5.9zM2331.2 1402.0h5.9v2.95h-5.9zM2340.1 1402.0h3.0v2.95h-3.0zM2133.6 1407.9h11.8v2.95h-11.8zM2148.4 1407.9h3.0v2.95h-3.0zM2154.2 1407.9h3.0v2.95h-3.0zM2160.2 1407.9h3.0v2.95h-3.0zM2172.0 1407.9h3.0v2.95h-3.0zM2177.9 1407.9h3.0v2.95h-3.0zM2183.8 1407.9h3.0v2.95h-3.0zM2192.6 1407.9h3.0v2.95h-3.0zM2198.5 1407.9h5.9v2.95h-5.9zM2210.3 1407.9h3.0v2.95h-3.0zM2219.2 1407.9h3.0v2.95h-3.0zM2248.7 1407.9h3.0v2.95h-3.0zM2266.4 1407.9h3.0v2.95h-3.0zM2278.2 1407.9h3.0v2.95h-3.0zM2290.0 1407.9h3.0v2.95h-3.0zM2295.9 1407.9h11.8v2.95h-11.8zM2310.6 1407.9h3.0v2.95h-3.0zM2351.9 1407.9h5.9v2.95h-5.9zM2172.0 1410.8h3.0v2.95h-3.0zM2189.7 1410.8h3.0v2.95h-3.0zM2151.3 1413.8h3.0v2.95h-3.0zM2172.0 1413.8h3.0v2.95h-3.0zM2236.9 1413.8h3.0v2.95h-3.0zM2254.6 1413.8h3.0v2.95h-3.0zM2189.7 1416.7h3.0v2.95h-3.0zM2239.8 1416.7h3.0v2.95h-3.0zM2251.6 1416.7h3.0v2.95h-3.0zM2189.7 1419.7h3.0v2.95h-3.0zM2207.4 1419.7h3.0v2.95h-3.0zM2242.8 1419.7h8.9v2.95h-8.9zM2257.5 1419.7h3.0v2.95h-3.0zM2304.7 1419.7h3.0v2.95h-3.0zM2343.1 1419.7h3.0v2.95h-3.0zM2151.3 1422.6h3.0v2.95h-3.0zM2231.0 1422.6h3.0v2.95h-3.0zM2343.1 1422.6h3.0v2.95h-3.0zM2133.6 1425.6h3.0v2.95h-3.0zM2189.7 1425.6h3.0v2.95h-3.0zM2239.8 1425.6h3.0v2.95h-3.0zM2251.6 1425.6h3.0v2.95h-3.0zM2322.4 1425.6h3.0v2.95h-3.0zM2172.0 1428.5h3.0v2.95h-3.0zM2207.4 1428.5h3.0v2.95h-3.0zM2242.8 1428.5h3.0v2.95h-3.0zM2254.6 1428.5h3.0v2.95h-3.0zM2284.1 1428.5h3.0v2.95h-3.0zM2343.1 1428.5h3.0v2.95h-3.0zM2172.0 1431.5h3.0v2.95h-3.0zM2242.8 1431.5h5.9v2.95h-5.9zM2304.7 1431.5h3.0v2.95h-3.0zM2322.4 1431.5h3.0v2.95h-3.0zM2357.8 1431.5h3.0v2.95h-3.0zM2133.6 1434.4h3.0v2.95h-3.0zM2172.0 1434.4h3.0v2.95h-3.0zM2322.4 1434.4h3.0v2.95h-3.0zM2343.1 1434.4h3.0v2.95h-3.0zM2151.3 1437.4h3.0v2.95h-3.0zM2343.1 1437.4h3.0v2.95h-3.0zM2251.6 1440.3h3.0v2.95h-3.0zM2142.5 1446.2h3.0v2.95h-3.0zM2160.2 1446.2h3.0v2.95h-3.0zM2166.1 1446.2h3.0v2.95h-3.0zM2174.9 1446.2h3.0v2.95h-3.0zM2195.6 1446.2h8.9v2.95h-8.9zM2207.4 1446.2h5.9v2.95h-5.9zM2219.2 1446.2h3.0v2.95h-3.0zM2292.9 1446.2h3.0v2.95h-3.0zM2322.4 1446.2h3.0v2.95h-3.0zM2334.2 1446.2h3.0v2.95h-3.0zM2343.1 1446.2h5.9v2.95h-5.9z"/><path fill="#3c3c3c" d="M2177.9 1402.0h3.0v2.95h-3.0zM2192.6 1402.0h3.0v2.95h-3.0zM2272.2 1402.0h3.0v2.95h-3.0zM2284.1 1402.0h3.0v2.95h-3.0zM2295.9 1402.0h3.0v2.95h-3.0zM2349.0 1402.0h3.0v2.95h-3.0zM2163.1 1407.9h5.9v2.95h-5.9zM2180.8 1407.9h3.0v2.95h-3.0zM2189.7 1407.9h3.0v2.95h-3.0zM2216.2 1407.9h3.0v2.95h-3.0zM2245.7 1407.9h3.0v2.95h-3.0zM2269.3 1407.9h3.0v2.95h-3.0zM2281.1 1407.9h3.0v2.95h-3.0zM2287.0 1407.9h3.0v2.95h-3.0zM2292.9 1407.9h3.0v2.95h-3.0zM2313.6 1407.9h5.9v2.95h-5.9zM2325.4 1407.9h3.0v2.95h-3.0zM2331.2 1407.9h5.9v2.95h-5.9zM2346.0 1407.9h3.0v2.95h-3.0zM2151.3 1410.8h3.0v2.95h-3.0zM2225.1 1410.8h3.0v2.95h-3.0zM2239.8 1410.8h3.0v2.95h-3.0zM2322.4 1410.8h3.0v2.95h-3.0zM2343.1 1410.8h3.0v2.95h-3.0zM2189.7 1413.8h3.0v2.95h-3.0zM2207.4 1413.8h3.0v2.95h-3.0zM2239.8 1413.8h3.0v2.95h-3.0zM2284.1 1413.8h3.0v2.95h-3.0zM2151.3 1416.7h3.0v2.95h-3.0zM2225.1 1416.7h3.0v2.95h-3.0zM2233.9 1416.7h3.0v2.95h-3.0zM2242.8 1416.7h8.9v2.95h-8.9zM2257.5 1416.7h3.0v2.95h-3.0zM2251.6 1419.7h3.0v2.95h-3.0zM2284.1 1419.7h3.0v2.95h-3.0zM2322.4 1419.7h3.0v2.95h-3.0zM2189.7 1422.6h3.0v2.95h-3.0zM2239.8 1422.6h5.9v2.95h-5.9zM2254.6 1422.6h3.0v2.95h-3.0zM2322.4 1422.6h3.0v2.95h-3.0zM2172.0 1425.6h3.0v2.95h-3.0zM2242.8 1425.6h3.0v2.95h-3.0zM2257.5 1425.6h3.0v2.95h-3.0zM2304.7 1425.6h3.0v2.95h-3.0zM2343.1 1425.6h3.0v2.95h-3.0zM2357.8 1425.6h3.0v2.95h-3.0zM2151.3 1428.5h3.0v2.95h-3.0zM2231.0 1428.5h3.0v2.95h-3.0zM2266.4 1428.5h3.0v2.95h-3.0zM2304.7 1428.5h3.0v2.95h-3.0zM2357.8 1428.5h3.0v2.95h-3.0zM2251.6 1431.5h3.0v2.95h-3.0zM2257.5 1431.5h3.0v2.95h-3.0zM2266.4 1431.5h3.0v2.95h-3.0zM2343.1 1431.5h3.0v2.95h-3.0zM2207.4 1434.4h3.0v2.95h-3.0zM2236.9 1434.4h5.9v2.95h-5.9zM2133.6 1437.4h3.0v2.95h-3.0zM2357.8 1437.4h3.0v2.95h-3.0zM2157.2 1446.2h3.0v2.95h-3.0zM2192.6 1446.2h3.0v2.95h-3.0zM2204.4 1446.2h3.0v2.95h-3.0zM2222.1 1446.2h3.0v2.95h-3.0zM2298.8 1446.2h3.0v2.95h-3.0z"/><path fill="#484848" d="M2151.3 1402.0h3.0v2.95h-3.0zM2157.2 1402.0h3.0v2.95h-3.0zM2166.1 1402.0h5.9v2.95h-5.9zM2204.4 1402.0h3.0v2.95h-3.0zM2216.2 1402.0h3.0v2.95h-3.0zM2292.9 1402.0h3.0v2.95h-3.0zM2346.0 1402.0h3.0v2.95h-3.0zM2351.9 1402.0h3.0v2.95h-3.0zM2207.4 1407.9h3.0v2.95h-3.0zM2275.2 1407.9h3.0v2.95h-3.0zM2307.7 1407.9h3.0v2.95h-3.0zM2319.5 1407.9h3.0v2.95h-3.0zM2337.2 1407.9h3.0v2.95h-3.0zM2349.0 1407.9h3.0v2.95h-3.0zM2357.8 1407.9h3.0v2.95h-3.0zM2133.6 1410.8h3.0v2.95h-3.0zM2242.8 1410.8h3.0v2.95h-3.0zM2254.6 1410.8h3.0v2.95h-3.0zM2304.7 1410.8h3.0v2.95h-3.0zM2357.8 1410.8h3.0v2.95h-3.0zM2133.6 1413.8h3.0v2.95h-3.0zM2251.6 1413.8h3.0v2.95h-3.0zM2266.4 1413.8h3.0v2.95h-3.0zM2357.8 1413.8h3.0v2.95h-3.0zM2133.6 1416.7h3.0v2.95h-3.0zM2133.6 1419.7h3.0v2.95h-3.0zM2239.8 1419.7h3.0v2.95h-3.0zM2266.4 1419.7h3.0v2.95h-3.0zM2251.6 1422.6h3.0v2.95h-3.0zM2357.8 1422.6h3.0v2.95h-3.0zM2254.6 1425.6h3.0v2.95h-3.0zM2245.7 1428.5h3.0v2.95h-3.0zM2189.7 1431.5h3.0v2.95h-3.0zM2284.1 1431.5h3.0v2.95h-3.0zM2225.1 1437.4h3.0v2.95h-3.0zM2284.1 1437.4h3.0v2.95h-3.0zM2133.6 1440.3h3.0v2.95h-3.0zM2174.9 1440.3h3.0v2.95h-3.0zM2183.8 1440.3h3.0v2.95h-3.0zM2210.3 1440.3h3.0v2.95h-3.0zM2248.7 1440.3h3.0v2.95h-3.0zM2266.4 1440.3h3.0v2.95h-3.0zM2272.2 1440.3h11.8v2.95h-11.8zM2295.9 1440.3h5.9v2.95h-5.9zM2319.5 1440.3h5.9v2.95h-5.9zM2340.1 1440.3h3.0v2.95h-3.0zM2139.5 1446.2h3.0v2.95h-3.0zM2145.4 1446.2h3.0v2.95h-3.0zM2151.3 1446.2h3.0v2.95h-3.0zM2172.0 1446.2h3.0v2.95h-3.0zM2186.7 1446.2h5.9v2.95h-5.9zM2216.2 1446.2h3.0v2.95h-3.0zM2275.2 1446.2h3.0v2.95h-3.0zM2316.5 1446.2h3.0v2.95h-3.0zM2354.9 1446.2h3.0v2.95h-3.0z"/><path fill="#545454" d="M2142.5 1402.0h3.0v2.95h-3.0zM2154.2 1402.0h3.0v2.95h-3.0zM2174.9 1402.0h3.0v2.95h-3.0zM2189.7 1402.0h3.0v2.95h-3.0zM2278.2 1402.0h3.0v2.95h-3.0zM2298.8 1402.0h3.0v2.95h-3.0zM2304.7 1402.0h3.0v2.95h-3.0zM2325.4 1402.0h3.0v2.95h-3.0zM2343.1 1402.0h3.0v2.95h-3.0zM2225.1 1407.9h3.0v2.95h-3.0zM2245.7 1410.8h3.0v2.95h-3.0zM2236.9 1416.7h3.0v2.95h-3.0zM2254.6 1416.7h3.0v2.95h-3.0zM2357.8 1416.7h3.0v2.95h-3.0zM2225.1 1419.7h3.0v2.95h-3.0zM2133.6 1422.6h3.0v2.95h-3.0zM2225.1 1422.6h3.0v2.95h-3.0zM2248.7 1422.6h3.0v2.95h-3.0zM2231.0 1425.6h3.0v2.95h-3.0zM2248.7 1425.6h3.0v2.95h-3.0zM2225.1 1428.5h3.0v2.95h-3.0zM2239.8 1428.5h3.0v2.95h-3.0zM2251.6 1428.5h3.0v2.95h-3.0zM2257.5 1428.5h3.0v2.95h-3.0zM2225.1 1431.5h3.0v2.95h-3.0zM2233.9 1431.5h3.0v2.95h-3.0zM2142.5 1440.3h5.9v2.95h-5.9zM2216.2 1440.3h3.0v2.95h-3.0zM2245.7 1440.3h3.0v2.95h-3.0zM2337.2 1440.3h3.0v2.95h-3.0zM2351.9 1440.3h3.0v2.95h-3.0zM2169.0 1446.2h3.0v2.95h-3.0zM2213.2 1446.2h3.0v2.95h-3.0zM2281.1 1446.2h3.0v2.95h-3.0zM2340.1 1446.2h3.0v2.95h-3.0z"/><path fill="#606060" d="M2139.5 1402.0h3.0v2.95h-3.0zM2219.2 1402.0h3.0v2.95h-3.0zM2281.1 1402.0h3.0v2.95h-3.0zM2290.0 1402.0h3.0v2.95h-3.0zM2313.6 1402.0h8.9v2.95h-8.9zM2225.1 1413.8h3.0v2.95h-3.0zM2236.9 1419.7h3.0v2.95h-3.0zM2357.8 1419.7h3.0v2.95h-3.0zM2225.1 1425.6h3.0v2.95h-3.0zM2266.4 1425.6h3.0v2.95h-3.0zM2266.4 1434.4h3.0v2.95h-3.0zM2357.8 1434.4h3.0v2.95h-3.0zM2242.8 1437.4h5.9v2.95h-5.9zM2254.6 1437.4h3.0v2.95h-3.0zM2151.3 1440.3h3.0v2.95h-3.0zM2169.0 1440.3h3.0v2.95h-3.0zM2195.6 1440.3h3.0v2.95h-3.0zM2219.2 1440.3h3.0v2.95h-3.0zM2287.0 1440.3h8.9v2.95h-8.9zM2310.6 1440.3h3.0v2.95h-3.0zM2328.3 1440.3h3.0v2.95h-3.0zM2180.8 1446.2h3.0v2.95h-3.0zM2278.2 1446.2h3.0v2.95h-3.0zM2284.1 1446.2h3.0v2.95h-3.0zM2290.0 1446.2h3.0v2.95h-3.0zM2304.7 1446.2h5.9v2.95h-5.9zM2325.4 1446.2h3.0v2.95h-3.0zM2349.0 1446.2h3.0v2.95h-3.0z"/><path fill="#6c6c6c" d="M2145.4 1402.0h5.9v2.95h-5.9zM2163.1 1402.0h3.0v2.95h-3.0zM2195.6 1402.0h3.0v2.95h-3.0zM2213.2 1402.0h3.0v2.95h-3.0zM2222.1 1402.0h3.0v2.95h-3.0zM2275.2 1402.0h3.0v2.95h-3.0zM2287.0 1402.0h3.0v2.95h-3.0zM2301.8 1402.0h3.0v2.95h-3.0zM2322.4 1402.0h3.0v2.95h-3.0zM2354.9 1402.0h3.0v2.95h-3.0zM2266.4 1410.8h3.0v2.95h-3.0zM2242.8 1413.8h3.0v2.95h-3.0zM2266.4 1416.7h3.0v2.95h-3.0zM2266.4 1422.6h3.0v2.95h-3.0zM2133.6 1428.5h3.0v2.95h-3.0zM2133.6 1431.5h3.0v2.95h-3.0zM2225.1 1434.4h3.0v2.95h-3.0zM2242.8 1434.4h3.0v2.95h-3.0zM2266.4 1437.4h3.0v2.95h-3.0zM2154.2 1440.3h3.0v2.95h-3.0zM2186.7 1440.3h3.0v2.95h-3.0zM2192.6 1440.3h3.0v2.95h-3.0zM2225.1 1440.3h3.0v2.95h-3.0zM2346.0 1440.3h3.0v2.95h-3.0zM2148.4 1446.2h3.0v2.95h-3.0zM2154.2 1446.2h3.0v2.95h-3.0zM2163.1 1446.2h3.0v2.95h-3.0zM2177.9 1446.2h3.0v2.95h-3.0zM2183.8 1446.2h3.0v2.95h-3.0zM2295.9 1446.2h3.0v2.95h-3.0zM2301.8 1446.2h3.0v2.95h-3.0zM2310.6 1446.2h5.9v2.95h-5.9zM2319.5 1446.2h3.0v2.95h-3.0zM2331.2 1446.2h3.0v2.95h-3.0zM2337.2 1446.2h3.0v2.95h-3.0z"/><path fill="#787878" d="M2160.2 1402.0h3.0v2.95h-3.0zM2172.0 1402.0h3.0v2.95h-3.0zM2328.3 1402.0h3.0v2.95h-3.0zM2337.2 1402.0h3.0v2.95h-3.0zM2233.9 1419.7h3.0v2.95h-3.0zM2236.9 1422.6h3.0v2.95h-3.0zM2236.9 1431.5h3.0v2.95h-3.0zM2245.7 1434.4h3.0v2.95h-3.0zM2177.9 1440.3h5.9v2.95h-5.9zM2207.4 1440.3h3.0v2.95h-3.0zM2316.5 1440.3h3.0v2.95h-3.0zM2343.1 1440.3h3.0v2.95h-3.0zM2287.0 1446.2h3.0v2.95h-3.0zM2328.3 1446.2h3.0v2.95h-3.0zM2351.9 1446.2h3.0v2.95h-3.0z"/><path fill="#848484" d="M2236.9 1425.6h3.0v2.95h-3.0zM2239.8 1431.5h3.0v2.95h-3.0zM2254.6 1434.4h3.0v2.95h-3.0zM2163.1 1440.3h3.0v2.95h-3.0zM2172.0 1440.3h3.0v2.95h-3.0z"/><path fill="#909090" d="M2245.7 1413.8h3.0v2.95h-3.0zM2251.6 1434.4h3.0v2.95h-3.0zM2198.5 1440.3h5.9v2.95h-5.9zM2269.3 1440.3h3.0v2.95h-3.0zM2301.8 1440.3h3.0v2.95h-3.0z"/><path fill="#9c9c9c" d="M2251.6 1410.8h3.0v2.95h-3.0zM2160.2 1440.3h3.0v2.95h-3.0zM2204.4 1440.3h3.0v2.95h-3.0zM2213.2 1440.3h3.0v2.95h-3.0zM2334.2 1440.3h3.0v2.95h-3.0zM2349.0 1440.3h3.0v2.95h-3.0z"/><path fill="#a8a8a8" d="M2233.9 1428.5h3.0v2.95h-3.0zM2248.7 1434.4h3.0v2.95h-3.0zM2251.6 1437.4h3.0v2.95h-3.0zM2139.5 1440.3h3.0v2.95h-3.0zM2166.1 1440.3h3.0v2.95h-3.0zM2222.1 1440.3h3.0v2.95h-3.0zM2325.4 1440.3h3.0v2.95h-3.0zM2357.8 1440.3h3.0v2.95h-3.0z"/><path fill="#b4b4b4" d="M2233.9 1425.6h3.0v2.95h-3.0zM2136.6 1440.3h3.0v2.95h-3.0zM2148.4 1440.3h3.0v2.95h-3.0zM2284.1 1440.3h3.0v2.95h-3.0zM2307.7 1440.3h3.0v2.95h-3.0zM2313.6 1440.3h3.0v2.95h-3.0zM2354.9 1440.3h3.0v2.95h-3.0z"/><path fill="#c0c0c0" d="M2248.7 1413.8h3.0v2.95h-3.0zM2157.2 1440.3h3.0v2.95h-3.0zM2189.7 1440.3h3.0v2.95h-3.0zM2304.7 1440.3h3.0v2.95h-3.0zM2331.2 1440.3h3.0v2.95h-3.0z"/><path fill="#f0f0f0" d="M2248.7 1410.8h3.0v2.95h-3.0zM2233.9 1422.6h3.0v2.95h-3.0z"/><path fill="#fcfcfc" d="M2236.9 1428.5h3.0v2.95h-3.0zM2248.7 1437.4h3.0v2.95h-3.0z"/></g>
<rect x="69.8" y="1681.8" width="377.1" height="377.4" fill="#000"/>
<g filter="url(#b2)"><path fill="#181818" d="M250.8 1856.4h3.0v2.95h-3.0zM256.7 1856.4h3.0v2.95h-3.0zM262.6 1856.4h3.0v2.95h-3.0zM147.6 1859.4h5.9v2.95h-5.9zM165.3 1859.4h3.0v2.95h-3.0zM174.1 1859.4h3.0v2.95h-3.0zM185.9 1859.4h5.9v2.95h-5.9zM194.8 1859.4h8.9v2.95h-8.9zM221.3 1859.4h3.0v2.95h-3.0zM244.9 1859.4h3.0v2.95h-3.0zM277.4 1859.4h3.0v2.95h-3.0zM289.2 1859.4h3.0v2.95h-3.0zM298.0 1859.4h3.0v2.95h-3.0zM357.0 1859.4h3.0v2.95h-3.0zM180.0 1862.3h8.9v2.95h-8.9zM191.8 1862.3h5.9v2.95h-5.9zM209.5 1862.3h3.0v2.95h-3.0zM215.4 1862.3h3.0v2.95h-3.0zM233.1 1862.3h3.0v2.95h-3.0zM242.0 1862.3h3.0v2.95h-3.0zM280.3 1862.3h3.0v2.95h-3.0zM292.1 1862.3h3.0v2.95h-3.0zM303.9 1862.3h3.0v2.95h-3.0zM318.7 1862.3h3.0v2.95h-3.0zM324.6 1862.3h5.9v2.95h-5.9zM339.3 1862.3h3.0v2.95h-3.0zM357.0 1862.3h3.0v2.95h-3.0zM159.4 1865.3h5.9v2.95h-5.9zM171.2 1865.3h3.0v2.95h-3.0zM177.1 1865.3h3.0v2.95h-3.0zM185.9 1865.3h3.0v2.95h-3.0zM224.3 1865.3h3.0v2.95h-3.0zM230.2 1865.3h3.0v2.95h-3.0zM268.5 1865.3h3.0v2.95h-3.0zM283.3 1865.3h3.0v2.95h-3.0zM295.1 1865.3h3.0v2.95h-3.0zM321.6 1865.3h3.0v2.95h-3.0zM330.5 1865.3h3.0v2.95h-3.0zM336.4 1865.3h3.0v2.95h-3.0zM348.2 1865.3h3.0v2.95h-3.0zM156.4 1868.2h5.9v2.95h-5.9zM197.7 1868.2h3.0v2.95h-3.0zM206.6 1868.2h3.0v2.95h-3.0zM224.3 1868.2h8.9v2.95h-8.9zM242.0 1868.2h3.0v2.95h-3.0zM256.7 1868.2h3.0v2.95h-3.0zM280.3 1868.2h3.0v2.95h-3.0zM292.1 1868.2h3.0v2.95h-3.0zM339.3 1868.2h3.0v2.95h-3.0zM348.2 1868.2h3.0v2.95h-3.0zM360.0 1868.2h3.0v2.95h-3.0zM144.6 1871.2h3.0v2.95h-3.0zM171.2 1871.2h3.0v2.95h-3.0zM177.1 1871.2h5.9v2.95h-5.9zM185.9 1871.2h3.0v2.95h-3.0zM206.6 1871.2h8.9v2.95h-8.9zM227.2 1871.2h3.0v2.95h-3.0zM256.7 1871.2h5.9v2.95h-5.9zM265.6 1871.2h3.0v2.95h-3.0zM274.4 1871.2h3.0v2.95h-3.0zM283.3 1871.2h5.9v2.95h-5.9zM303.9 1871.2h3.0v2.95h-3.0zM321.6 1871.2h3.0v2.95h-3.0zM327.5 1871.2h3.0v2.95h-3.0zM336.4 1871.2h3.0v2.95h-3.0zM342.3 1871.2h3.0v2.95h-3.0zM357.0 1871.2h3.0v2.95h-3.0zM362.9 1871.2h3.0v2.95h-3.0zM162.3 1874.1h5.9v2.95h-5.9zM174.1 1874.1h5.9v2.95h-5.9zM191.8 1874.1h3.0v2.95h-3.0zM209.5 1874.1h3.0v2.95h-3.0zM215.4 1874.1h3.0v2.95h-3.0zM224.3 1874.1h11.8v2.95h-11.8zM239.0 1874.1h3.0v2.95h-3.0zM250.8 1874.1h8.9v2.95h-8.9zM298.0 1874.1h5.9v2.95h-5.9zM318.7 1874.1h3.0v2.95h-3.0zM342.3 1874.1h3.0v2.95h-3.0zM354.1 1874.1h3.0v2.95h-3.0zM362.9 1874.1h5.9v2.95h-5.9zM153.5 1877.1h5.9v2.95h-5.9zM171.2 1877.1h3.0v2.95h-3.0zM180.0 1877.1h3.0v2.95h-3.0zM185.9 1877.1h3.0v2.95h-3.0zM233.1 1877.1h3.0v2.95h-3.0zM247.9 1877.1h3.0v2.95h-3.0zM256.7 1877.1h3.0v2.95h-3.0zM283.3 1877.1h3.0v2.95h-3.0zM292.1 1877.1h3.0v2.95h-3.0zM303.9 1877.1h3.0v2.95h-3.0zM321.6 1877.1h3.0v2.95h-3.0zM333.4 1877.1h3.0v2.95h-3.0zM339.3 1877.1h3.0v2.95h-3.0zM345.2 1877.1h5.9v2.95h-5.9zM357.0 1877.1h5.9v2.95h-5.9zM365.9 1877.1h3.0v2.95h-3.0zM156.4 1880.0h3.0v2.95h-3.0zM162.3 1880.0h5.9v2.95h-5.9zM171.2 1880.0h3.0v2.95h-3.0zM180.0 1880.0h3.0v2.95h-3.0zM194.8 1880.0h14.8v2.95h-14.8zM250.8 1880.0h3.0v2.95h-3.0zM259.7 1880.0h3.0v2.95h-3.0zM274.4 1880.0h3.0v2.95h-3.0zM289.2 1880.0h3.0v2.95h-3.0zM295.1 1880.0h3.0v2.95h-3.0zM315.7 1880.0h3.0v2.95h-3.0zM327.5 1880.0h3.0v2.95h-3.0zM342.3 1880.0h5.9v2.95h-5.9zM365.9 1880.0h3.0v2.95h-3.0zM150.5 1883.0h5.9v2.95h-5.9zM159.4 1883.0h3.0v2.95h-3.0zM165.3 1883.0h5.9v2.95h-5.9zM174.1 1883.0h3.0v2.95h-3.0zM185.9 1883.0h3.0v2.95h-3.0zM197.7 1883.0h3.0v2.95h-3.0zM206.6 1883.0h3.0v2.95h-3.0zM212.5 1883.0h3.0v2.95h-3.0zM230.2 1883.0h5.9v2.95h-5.9zM277.4 1883.0h3.0v2.95h-3.0zM298.0 1883.0h5.9v2.95h-5.9zM315.7 1883.0h3.0v2.95h-3.0zM321.6 1883.0h3.0v2.95h-3.0zM342.3 1883.0h3.0v2.95h-3.0zM156.4 1885.9h3.0v2.95h-3.0zM168.2 1885.9h3.0v2.95h-3.0zM174.1 1885.9h3.0v2.95h-3.0zM185.9 1885.9h5.9v2.95h-5.9zM197.7 1885.9h5.9v2.95h-5.9zM206.6 1885.9h3.0v2.95h-3.0zM212.5 1885.9h5.9v2.95h-5.9zM227.2 1885.9h3.0v2.95h-3.0zM277.4 1885.9h3.0v2.95h-3.0zM283.3 1885.9h3.0v2.95h-3.0zM306.9 1885.9h3.0v2.95h-3.0zM318.7 1885.9h8.9v2.95h-8.9zM330.5 1885.9h8.9v2.95h-8.9zM351.1 1885.9h3.0v2.95h-3.0zM159.4 1888.9h3.0v2.95h-3.0zM165.3 1888.9h3.0v2.95h-3.0zM171.2 1888.9h3.0v2.95h-3.0zM180.0 1888.9h3.0v2.95h-3.0zM188.9 1888.9h11.8v2.95h-11.8zM224.3 1888.9h3.0v2.95h-3.0zM233.1 1888.9h3.0v2.95h-3.0zM295.1 1888.9h3.0v2.95h-3.0zM315.7 1888.9h3.0v2.95h-3.0zM321.6 1888.9h3.0v2.95h-3.0zM327.5 1888.9h5.9v2.95h-5.9zM345.2 1888.9h3.0v2.95h-3.0zM351.1 1888.9h8.9v2.95h-8.9zM156.4 1891.8h5.9v2.95h-5.9zM165.3 1891.8h3.0v2.95h-3.0zM180.0 1891.8h3.0v2.95h-3.0zM185.9 1891.8h3.0v2.95h-3.0zM200.7 1891.8h3.0v2.95h-3.0zM218.4 1891.8h3.0v2.95h-3.0zM224.3 1891.8h3.0v2.95h-3.0zM265.6 1891.8h3.0v2.95h-3.0zM289.2 1891.8h5.9v2.95h-5.9zM303.9 1891.8h3.0v2.95h-3.0zM312.8 1891.8h3.0v2.95h-3.0zM330.5 1891.8h3.0v2.95h-3.0zM348.2 1891.8h3.0v2.95h-3.0zM354.1 1891.8h3.0v2.95h-3.0zM365.9 1891.8h3.0v2.95h-3.0z"/><path fill="#242424" d="M153.5 1859.4h3.0v2.95h-3.0zM177.1 1859.4h3.0v2.95h-3.0zM183.0 1859.4h3.0v2.95h-3.0zM215.4 1859.4h3.0v2.95h-3.0zM224.3 1859.4h5.9v2.95h-5.9zM233.1 1859.4h3.0v2.95h-3.0zM280.3 1859.4h3.0v2.95h-3.0zM292.1 1859.4h3.0v2.95h-3.0zM301.0 1859.4h3.0v2.95h-3.0zM306.9 1859.4h3.0v2.95h-3.0zM312.8 1859.4h3.0v2.95h-3.0zM318.7 1859.4h3.0v2.95h-3.0zM342.3 1859.4h14.8v2.95h-14.8zM365.9 1859.4h3.0v2.95h-3.0zM156.4 1862.3h3.0v2.95h-3.0zM174.1 1862.3h3.0v2.95h-3.0zM200.7 1862.3h3.0v2.95h-3.0zM212.5 1862.3h3.0v2.95h-3.0zM230.2 1862.3h3.0v2.95h-3.0zM268.5 1862.3h3.0v2.95h-3.0zM277.4 1862.3h3.0v2.95h-3.0zM283.3 1862.3h8.9v2.95h-8.9zM330.5 1862.3h5.9v2.95h-5.9zM345.2 1862.3h8.9v2.95h-8.9zM360.0 1862.3h5.9v2.95h-5.9zM153.5 1865.3h3.0v2.95h-3.0zM165.3 1865.3h5.9v2.95h-5.9zM194.8 1865.3h3.0v2.95h-3.0zM203.6 1865.3h3.0v2.95h-3.0zM218.4 1865.3h3.0v2.95h-3.0zM227.2 1865.3h3.0v2.95h-3.0zM239.0 1865.3h3.0v2.95h-3.0zM286.2 1865.3h5.9v2.95h-5.9zM303.9 1865.3h3.0v2.95h-3.0zM309.8 1865.3h3.0v2.95h-3.0zM342.3 1865.3h5.9v2.95h-5.9zM354.1 1865.3h3.0v2.95h-3.0zM360.0 1865.3h3.0v2.95h-3.0zM144.6 1868.2h3.0v2.95h-3.0zM153.5 1868.2h3.0v2.95h-3.0zM162.3 1868.2h8.9v2.95h-8.9zM177.1 1868.2h5.9v2.95h-5.9zM185.9 1868.2h3.0v2.95h-3.0zM191.8 1868.2h3.0v2.95h-3.0zM203.6 1868.2h3.0v2.95h-3.0zM209.5 1868.2h3.0v2.95h-3.0zM215.4 1868.2h5.9v2.95h-5.9zM233.1 1868.2h3.0v2.95h-3.0zM250.8 1868.2h3.0v2.95h-3.0zM277.4 1868.2h3.0v2.95h-3.0zM283.3 1868.2h3.0v2.95h-3.0zM298.0 1868.2h3.0v2.95h-3.0zM303.9 1868.2h5.9v2.95h-5.9zM312.8 1868.2h5.9v2.95h-5.9zM321.6 1868.2h3.0v2.95h-3.0zM333.4 1868.2h3.0v2.95h-3.0zM351.1 1868.2h3.0v2.95h-3.0zM362.9 1868.2h5.9v2.95h-5.9zM150.5 1871.2h5.9v2.95h-5.9zM165.3 1871.2h3.0v2.95h-3.0zM215.4 1871.2h5.9v2.95h-5.9zM233.1 1871.2h3.0v2.95h-3.0zM250.8 1871.2h5.9v2.95h-5.9zM289.2 1871.2h3.0v2.95h-3.0zM298.0 1871.2h3.0v2.95h-3.0zM306.9 1871.2h5.9v2.95h-5.9zM315.7 1871.2h5.9v2.95h-5.9zM324.6 1871.2h3.0v2.95h-3.0zM333.4 1871.2h3.0v2.95h-3.0zM365.9 1871.2h3.0v2.95h-3.0zM147.6 1874.1h3.0v2.95h-3.0zM156.4 1874.1h5.9v2.95h-5.9zM180.0 1874.1h3.0v2.95h-3.0zM200.7 1874.1h3.0v2.95h-3.0zM221.3 1874.1h3.0v2.95h-3.0zM236.1 1874.1h3.0v2.95h-3.0zM274.4 1874.1h3.0v2.95h-3.0zM289.2 1874.1h3.0v2.95h-3.0zM309.8 1874.1h5.9v2.95h-5.9zM321.6 1874.1h8.9v2.95h-8.9zM144.6 1877.1h3.0v2.95h-3.0zM150.5 1877.1h3.0v2.95h-3.0zM159.4 1877.1h3.0v2.95h-3.0zM168.2 1877.1h3.0v2.95h-3.0zM174.1 1877.1h5.9v2.95h-5.9zM191.8 1877.1h3.0v2.95h-3.0zM206.6 1877.1h5.9v2.95h-5.9zM215.4 1877.1h3.0v2.95h-3.0zM224.3 1877.1h5.9v2.95h-5.9zM236.1 1877.1h3.0v2.95h-3.0zM250.8 1877.1h3.0v2.95h-3.0zM277.4 1877.1h5.9v2.95h-5.9zM298.0 1877.1h3.0v2.95h-3.0zM312.8 1877.1h3.0v2.95h-3.0zM318.7 1877.1h3.0v2.95h-3.0zM330.5 1877.1h3.0v2.95h-3.0zM144.6 1880.0h3.0v2.95h-3.0zM183.0 1880.0h3.0v2.95h-3.0zM191.8 1880.0h3.0v2.95h-3.0zM212.5 1880.0h5.9v2.95h-5.9zM221.3 1880.0h8.9v2.95h-8.9zM233.1 1880.0h3.0v2.95h-3.0zM253.8 1880.0h5.9v2.95h-5.9zM265.6 1880.0h3.0v2.95h-3.0zM292.1 1880.0h3.0v2.95h-3.0zM298.0 1880.0h3.0v2.95h-3.0zM303.9 1880.0h3.0v2.95h-3.0zM312.8 1880.0h3.0v2.95h-3.0zM324.6 1880.0h3.0v2.95h-3.0zM333.4 1880.0h3.0v2.95h-3.0zM354.1 1880.0h3.0v2.95h-3.0zM177.1 1883.0h5.9v2.95h-5.9zM194.8 1883.0h3.0v2.95h-3.0zM227.2 1883.0h3.0v2.95h-3.0zM239.0 1883.0h3.0v2.95h-3.0zM289.2 1883.0h3.0v2.95h-3.0zM295.1 1883.0h3.0v2.95h-3.0zM303.9 1883.0h3.0v2.95h-3.0zM309.8 1883.0h3.0v2.95h-3.0zM318.7 1883.0h3.0v2.95h-3.0zM330.5 1883.0h3.0v2.95h-3.0zM357.0 1883.0h5.9v2.95h-5.9zM144.6 1885.9h3.0v2.95h-3.0zM150.5 1885.9h3.0v2.95h-3.0zM162.3 1885.9h3.0v2.95h-3.0zM171.2 1885.9h3.0v2.95h-3.0zM177.1 1885.9h3.0v2.95h-3.0zM191.8 1885.9h5.9v2.95h-5.9zM209.5 1885.9h3.0v2.95h-3.0zM218.4 1885.9h5.9v2.95h-5.9zM271.5 1885.9h3.0v2.95h-3.0zM295.1 1885.9h3.0v2.95h-3.0zM342.3 1885.9h8.9v2.95h-8.9zM360.0 1885.9h3.0v2.95h-3.0zM365.9 1885.9h3.0v2.95h-3.0zM156.4 1888.9h3.0v2.95h-3.0zM174.1 1888.9h3.0v2.95h-3.0zM206.6 1888.9h5.9v2.95h-5.9zM215.4 1888.9h3.0v2.95h-3.0zM277.4 1888.9h3.0v2.95h-3.0zM283.3 1888.9h3.0v2.95h-3.0zM289.2 1888.9h5.9v2.95h-5.9zM306.9 1888.9h8.9v2.95h-8.9zM324.6 1888.9h3.0v2.95h-3.0zM333.4 1888.9h11.8v2.95h-11.8zM153.5 1891.8h3.0v2.95h-3.0zM162.3 1891.8h3.0v2.95h-3.0zM168.2 1891.8h5.9v2.95h-5.9zM177.1 1891.8h3.0v2.95h-3.0zM183.0 1891.8h3.0v2.95h-3.0zM191.8 1891.8h3.0v2.95h-3.0zM197.7 1891.8h3.0v2.95h-3.0zM206.6 1891.8h3.0v2.95h-3.0zM221.3 1891.8h3.0v2.95h-3.0zM230.2 1891.8h3.0v2.95h-3.0zM250.8 1891.8h3.0v2.95h-3.0zM280.3 1891.8h3.0v2.95h-3.0zM295.1 1891.8h5.9v2.95h-5.9zM309.8 1891.8h3.0v2.95h-3.0zM321.6 1891.8h8.9v2.95h-8.9zM333.4 1891.8h3.0v2.95h-3.0zM339.3 1891.8h3.0v2.95h-3.0zM351.1 1891.8h3.0v2.95h-3.0zM360.0 1891.8h3.0v2.95h-3.0z"/><path fill="#303030" d="M360.0 1859.4h3.0v2.95h-3.0zM197.7 1862.3h3.0v2.95h-3.0zM253.8 1862.3h3.0v2.95h-3.0zM197.7 1865.3h3.0v2.95h-3.0zM247.9 1865.3h3.0v2.95h-3.0zM365.9 1865.3h3.0v2.95h-3.0zM253.8 1868.2h3.0v2.95h-3.0zM301.0 1868.2h3.0v2.95h-3.0zM174.1 1871.2h3.0v2.95h-3.0zM268.5 1871.2h5.9v2.95h-5.9zM218.4 1874.1h3.0v2.95h-3.0zM247.9 1874.1h3.0v2.95h-3.0zM262.6 1874.1h3.0v2.95h-3.0zM283.3 1880.0h3.0v2.95h-3.0zM315.7 1885.9h3.0v2.95h-3.0zM144.6 1888.9h3.0v2.95h-3.0zM280.3 1888.9h3.0v2.95h-3.0zM301.0 1891.8h3.0v2.95h-3.0zM362.9 1891.8h3.0v2.95h-3.0zM259.7 1894.8h3.0v2.95h-3.0zM365.9 1894.8h3.0v2.95h-3.0z"/><path fill="#3c3c3c" d="M253.8 1859.4h3.0v2.95h-3.0zM244.9 1862.3h3.0v2.95h-3.0zM244.9 1865.3h3.0v2.95h-3.0zM262.6 1871.2h3.0v2.95h-3.0zM244.9 1874.1h3.0v2.95h-3.0zM271.5 1874.1h3.0v2.95h-3.0zM262.6 1877.1h3.0v2.95h-3.0zM250.8 1883.0h8.9v2.95h-8.9zM253.8 1885.9h3.0v2.95h-3.0zM253.8 1888.9h3.0v2.95h-3.0zM268.5 1888.9h3.0v2.95h-3.0z"/><path fill="#484848" d="M247.9 1859.4h3.0v2.95h-3.0zM362.9 1865.3h3.0v2.95h-3.0zM247.9 1868.2h3.0v2.95h-3.0zM271.5 1868.2h3.0v2.95h-3.0zM247.9 1871.2h3.0v2.95h-3.0zM147.6 1891.8h3.0v2.95h-3.0z"/><path fill="#545454" d="M365.9 1862.3h3.0v2.95h-3.0zM247.9 1880.0h3.0v2.95h-3.0zM271.5 1880.0h3.0v2.95h-3.0zM271.5 1883.0h3.0v2.95h-3.0zM244.9 1885.9h3.0v2.95h-3.0zM259.7 1885.9h3.0v2.95h-3.0zM265.6 1885.9h3.0v2.95h-3.0zM262.6 1888.9h3.0v2.95h-3.0zM147.6 1894.8h3.0v2.95h-3.0zM362.9 1894.8h3.0v2.95h-3.0z"/><path fill="#606060" d="M250.8 1859.4h3.0v2.95h-3.0zM265.6 1862.3h3.0v2.95h-3.0zM147.6 1865.3h3.0v2.95h-3.0zM144.6 1891.8h3.0v2.95h-3.0zM253.8 1891.8h3.0v2.95h-3.0z"/><path fill="#6c6c6c" d="M242.0 1865.3h3.0v2.95h-3.0zM253.8 1865.3h3.0v2.95h-3.0zM259.7 1868.2h3.0v2.95h-3.0zM239.0 1871.2h3.0v2.95h-3.0zM265.6 1874.1h3.0v2.95h-3.0zM242.0 1877.1h3.0v2.95h-3.0zM259.7 1883.0h3.0v2.95h-3.0zM147.6 1888.9h3.0v2.95h-3.0zM256.7 1888.9h3.0v2.95h-3.0z"/><path fill="#787878" d="M256.7 1859.4h5.9v2.95h-5.9zM262.6 1868.2h3.0v2.95h-3.0zM239.0 1877.1h3.0v2.95h-3.0zM247.9 1883.0h3.0v2.95h-3.0zM244.9 1888.9h3.0v2.95h-3.0zM259.7 1888.9h3.0v2.95h-3.0zM362.9 1888.9h3.0v2.95h-3.0z"/><path fill="#848484" d="M262.6 1859.4h3.0v2.95h-3.0zM144.6 1865.3h3.0v2.95h-3.0zM250.8 1865.3h3.0v2.95h-3.0zM271.5 1877.1h3.0v2.95h-3.0zM262.6 1880.0h3.0v2.95h-3.0zM262.6 1883.0h3.0v2.95h-3.0zM268.5 1883.0h3.0v2.95h-3.0zM242.0 1885.9h3.0v2.95h-3.0zM365.9 1888.9h3.0v2.95h-3.0zM259.7 1891.8h5.9v2.95h-5.9z"/><path fill="#909090" d="M144.6 1862.3h3.0v2.95h-3.0z"/><path fill="#9c9c9c" d="M268.5 1877.1h3.0v2.95h-3.0zM239.0 1880.0h3.0v2.95h-3.0zM256.7 1891.8h3.0v2.95h-3.0zM144.6 1894.8h3.0v2.95h-3.0z"/><path fill="#a8a8a8" d="M259.7 1862.3h3.0v2.95h-3.0zM242.0 1874.1h3.0v2.95h-3.0zM268.5 1885.9h3.0v2.95h-3.0zM265.6 1888.9h3.0v2.95h-3.0z"/><path fill="#b4b4b4" d="M247.9 1862.3h3.0v2.95h-3.0zM256.7 1865.3h3.0v2.95h-3.0zM244.9 1877.1h3.0v2.95h-3.0zM265.6 1883.0h3.0v2.95h-3.0zM247.9 1885.9h5.9v2.95h-5.9z"/><path fill="#c0c0c0" d="M244.9 1868.2h3.0v2.95h-3.0zM265.6 1877.1h3.0v2.95h-3.0zM244.9 1883.0h3.0v2.95h-3.0zM247.9 1888.9h5.9v2.95h-5.9z"/><path fill="#cccccc" d="M259.7 1865.3h3.0v2.95h-3.0zM244.9 1871.2h3.0v2.95h-3.0z"/><path fill="#d8d8d8" d="M147.6 1862.3h3.0v2.95h-3.0zM262.6 1865.3h3.0v2.95h-3.0zM268.5 1868.2h3.0v2.95h-3.0zM242.0 1871.2h3.0v2.95h-3.0zM268.5 1880.0h3.0v2.95h-3.0z"/><path fill="#f0f0f0" d="M256.7 1862.3h3.0v2.95h-3.0zM268.5 1874.1h3.0v2.95h-3.0zM242.0 1883.0h3.0v2.95h-3.0zM256.7 1885.9h3.0v2.95h-3.0z"/><path fill="#fcfcfc" d="M250.8 1862.3h3.0v2.95h-3.0zM262.6 1862.3h3.0v2.95h-3.0zM265.6 1865.3h3.0v2.95h-3.0zM265.6 1868.2h3.0v2.95h-3.0zM242.0 1880.0h5.9v2.95h-5.9zM262.6 1885.9h3.0v2.95h-3.0z"/></g>
<rect x="566.9" y="1680.9" width="378.5" height="378.9" fill="#000"/>
<g filter="url(#b2)"><path fill="#181818" d="M745.7 1856.3h5.9v2.95h-5.9zM683.7 1859.2h5.9v2.95h-5.9zM707.3 1859.2h3.0v2.95h-3.0zM645.4 1862.2h8.9v2.95h-8.9zM660.1 1862.2h3.0v2.95h-3.0zM689.6 1862.2h3.0v2.95h-3.0zM698.5 1862.2h5.9v2.95h-5.9zM710.3 1862.2h3.0v2.95h-3.0zM725.0 1862.2h5.9v2.95h-5.9zM739.8 1862.2h3.0v2.95h-3.0zM778.1 1862.2h3.0v2.95h-3.0zM787.0 1862.2h3.0v2.95h-3.0zM792.9 1862.2h3.0v2.95h-3.0zM819.4 1862.2h3.0v2.95h-3.0zM834.2 1862.2h3.0v2.95h-3.0zM843.0 1862.2h3.0v2.95h-3.0zM854.8 1862.2h5.9v2.95h-5.9zM651.3 1865.2h5.9v2.95h-5.9zM663.1 1865.2h8.9v2.95h-8.9zM674.9 1865.2h3.0v2.95h-3.0zM683.7 1865.2h3.0v2.95h-3.0zM701.4 1865.2h3.0v2.95h-3.0zM728.0 1865.2h3.0v2.95h-3.0zM798.8 1865.2h3.0v2.95h-3.0zM804.7 1865.2h5.9v2.95h-5.9zM813.5 1865.2h3.0v2.95h-3.0zM822.4 1865.2h5.9v2.95h-5.9zM840.1 1865.2h8.9v2.95h-8.9zM645.4 1868.1h8.9v2.95h-8.9zM660.1 1868.1h3.0v2.95h-3.0zM666.0 1868.1h5.9v2.95h-5.9zM674.9 1868.1h3.0v2.95h-3.0zM710.3 1868.1h3.0v2.95h-3.0zM725.0 1868.1h3.0v2.95h-3.0zM745.7 1868.1h3.0v2.95h-3.0zM754.5 1868.1h8.9v2.95h-8.9zM775.2 1868.1h3.0v2.95h-3.0zM784.0 1868.1h3.0v2.95h-3.0zM789.9 1868.1h3.0v2.95h-3.0zM804.7 1868.1h5.9v2.95h-5.9zM831.2 1868.1h3.0v2.95h-3.0zM840.1 1868.1h3.0v2.95h-3.0zM857.8 1868.1h3.0v2.95h-3.0zM642.4 1871.0h3.0v2.95h-3.0zM648.3 1871.0h5.9v2.95h-5.9zM663.1 1871.0h5.9v2.95h-5.9zM671.9 1871.0h5.9v2.95h-5.9zM680.8 1871.0h3.0v2.95h-3.0zM698.5 1871.0h5.9v2.95h-5.9zM707.3 1871.0h3.0v2.95h-3.0zM722.1 1871.0h8.9v2.95h-8.9zM742.8 1871.0h23.6v2.95h-23.6zM775.2 1871.0h5.9v2.95h-5.9zM787.0 1871.0h3.0v2.95h-3.0zM792.9 1871.0h3.0v2.95h-3.0zM804.7 1871.0h3.0v2.95h-3.0zM816.5 1871.0h3.0v2.95h-3.0zM822.4 1871.0h3.0v2.95h-3.0zM837.1 1871.0h3.0v2.95h-3.0zM857.8 1871.0h3.0v2.95h-3.0zM642.4 1874.0h3.0v2.95h-3.0zM651.3 1874.0h3.0v2.95h-3.0zM657.2 1874.0h8.9v2.95h-8.9zM689.6 1874.0h5.9v2.95h-5.9zM701.4 1874.0h5.9v2.95h-5.9zM742.8 1874.0h3.0v2.95h-3.0zM748.6 1874.0h3.0v2.95h-3.0zM775.2 1874.0h11.8v2.95h-11.8zM792.9 1874.0h3.0v2.95h-3.0zM798.8 1874.0h3.0v2.95h-3.0zM807.6 1874.0h3.0v2.95h-3.0zM816.5 1874.0h3.0v2.95h-3.0zM834.2 1874.0h3.0v2.95h-3.0zM840.1 1874.0h3.0v2.95h-3.0zM854.8 1874.0h3.0v2.95h-3.0zM860.8 1874.0h3.0v2.95h-3.0zM671.9 1877.0h3.0v2.95h-3.0zM698.5 1877.0h3.0v2.95h-3.0zM704.4 1877.0h5.9v2.95h-5.9zM716.2 1877.0h3.0v2.95h-3.0zM722.1 1877.0h5.9v2.95h-5.9zM742.8 1877.0h3.0v2.95h-3.0zM748.6 1877.0h11.8v2.95h-11.8zM775.2 1877.0h11.8v2.95h-11.8zM795.8 1877.0h5.9v2.95h-5.9zM813.5 1877.0h3.0v2.95h-3.0zM822.4 1877.0h3.0v2.95h-3.0zM831.2 1877.0h3.0v2.95h-3.0zM837.1 1877.0h3.0v2.95h-3.0zM854.8 1877.0h3.0v2.95h-3.0zM666.0 1879.9h5.9v2.95h-5.9zM680.8 1879.9h3.0v2.95h-3.0zM686.7 1879.9h3.0v2.95h-3.0zM698.5 1879.9h3.0v2.95h-3.0zM704.4 1879.9h3.0v2.95h-3.0zM710.3 1879.9h3.0v2.95h-3.0zM722.1 1879.9h8.9v2.95h-8.9zM745.7 1879.9h5.9v2.95h-5.9zM754.5 1879.9h5.9v2.95h-5.9zM787.0 1879.9h3.0v2.95h-3.0zM798.8 1879.9h3.0v2.95h-3.0zM819.4 1879.9h3.0v2.95h-3.0zM825.3 1879.9h3.0v2.95h-3.0zM854.8 1879.9h3.0v2.95h-3.0zM642.4 1882.8h5.9v2.95h-5.9zM663.1 1882.8h3.0v2.95h-3.0zM674.9 1882.8h3.0v2.95h-3.0zM680.8 1882.8h3.0v2.95h-3.0zM686.7 1882.8h3.0v2.95h-3.0zM698.5 1882.8h11.8v2.95h-11.8zM728.0 1882.8h3.0v2.95h-3.0zM748.6 1882.8h3.0v2.95h-3.0zM787.0 1882.8h3.0v2.95h-3.0zM792.9 1882.8h3.0v2.95h-3.0zM798.8 1882.8h5.9v2.95h-5.9zM819.4 1882.8h3.0v2.95h-3.0zM831.2 1882.8h3.0v2.95h-3.0zM846.0 1882.8h3.0v2.95h-3.0zM851.9 1882.8h11.8v2.95h-11.8zM645.4 1885.8h3.0v2.95h-3.0zM651.3 1885.8h3.0v2.95h-3.0zM663.1 1885.8h3.0v2.95h-3.0zM669.0 1885.8h3.0v2.95h-3.0zM683.7 1885.8h3.0v2.95h-3.0zM710.3 1885.8h3.0v2.95h-3.0zM716.2 1885.8h3.0v2.95h-3.0zM722.1 1885.8h8.9v2.95h-8.9zM781.1 1885.8h3.0v2.95h-3.0zM787.0 1885.8h11.8v2.95h-11.8zM807.6 1885.8h3.0v2.95h-3.0zM819.4 1885.8h3.0v2.95h-3.0zM837.1 1885.8h3.0v2.95h-3.0zM851.9 1885.8h3.0v2.95h-3.0zM645.4 1888.8h3.0v2.95h-3.0zM654.2 1888.8h3.0v2.95h-3.0zM683.7 1888.8h11.8v2.95h-11.8zM716.2 1888.8h3.0v2.95h-3.0zM769.3 1888.8h3.0v2.95h-3.0zM778.1 1888.8h5.9v2.95h-5.9zM792.9 1888.8h3.0v2.95h-3.0zM804.7 1888.8h5.9v2.95h-5.9zM819.4 1888.8h3.0v2.95h-3.0zM848.9 1888.8h5.9v2.95h-5.9zM739.8 1891.7h3.0v2.95h-3.0zM766.3 1891.7h3.0v2.95h-3.0zM745.7 1894.7h3.0v2.95h-3.0zM754.5 1894.7h3.0v2.95h-3.0zM760.4 1894.7h3.0v2.95h-3.0z"/><path fill="#242424" d="M677.8 1853.3h3.0v2.95h-3.0zM778.1 1853.3h3.0v2.95h-3.0zM851.9 1853.3h3.0v2.95h-3.0zM757.5 1856.3h3.0v2.95h-3.0zM639.5 1859.2h3.0v2.95h-3.0zM657.2 1859.2h3.0v2.95h-3.0zM669.0 1859.2h3.0v2.95h-3.0zM692.6 1859.2h3.0v2.95h-3.0zM698.5 1859.2h3.0v2.95h-3.0zM713.2 1859.2h3.0v2.95h-3.0zM742.8 1859.2h3.0v2.95h-3.0zM775.2 1859.2h5.9v2.95h-5.9zM792.9 1859.2h3.0v2.95h-3.0zM798.8 1859.2h3.0v2.95h-3.0zM819.4 1859.2h3.0v2.95h-3.0zM831.2 1859.2h3.0v2.95h-3.0zM851.9 1859.2h3.0v2.95h-3.0zM642.4 1862.2h3.0v2.95h-3.0zM657.2 1862.2h3.0v2.95h-3.0zM663.1 1862.2h5.9v2.95h-5.9zM674.9 1862.2h3.0v2.95h-3.0zM680.8 1862.2h3.0v2.95h-3.0zM686.7 1862.2h3.0v2.95h-3.0zM704.4 1862.2h3.0v2.95h-3.0zM722.1 1862.2h3.0v2.95h-3.0zM775.2 1862.2h3.0v2.95h-3.0zM781.1 1862.2h3.0v2.95h-3.0zM795.8 1862.2h11.8v2.95h-11.8zM813.5 1862.2h5.9v2.95h-5.9zM822.4 1862.2h5.9v2.95h-5.9zM840.1 1862.2h3.0v2.95h-3.0zM851.9 1862.2h3.0v2.95h-3.0zM642.4 1865.2h3.0v2.95h-3.0zM671.9 1865.2h3.0v2.95h-3.0zM689.6 1865.2h3.0v2.95h-3.0zM698.5 1865.2h3.0v2.95h-3.0zM704.4 1865.2h5.9v2.95h-5.9zM716.2 1865.2h3.0v2.95h-3.0zM722.1 1865.2h3.0v2.95h-3.0zM748.6 1865.2h5.9v2.95h-5.9zM775.2 1865.2h5.9v2.95h-5.9zM784.0 1865.2h8.9v2.95h-8.9zM795.8 1865.2h3.0v2.95h-3.0zM816.5 1865.2h3.0v2.95h-3.0zM831.2 1865.2h3.0v2.95h-3.0zM837.1 1865.2h3.0v2.95h-3.0zM848.9 1865.2h5.9v2.95h-5.9zM857.8 1865.2h3.0v2.95h-3.0zM654.2 1868.1h3.0v2.95h-3.0zM663.1 1868.1h3.0v2.95h-3.0zM671.9 1868.1h3.0v2.95h-3.0zM677.8 1868.1h3.0v2.95h-3.0zM683.7 1868.1h3.0v2.95h-3.0zM689.6 1868.1h3.0v2.95h-3.0zM695.5 1868.1h3.0v2.95h-3.0zM707.3 1868.1h3.0v2.95h-3.0zM716.2 1868.1h3.0v2.95h-3.0zM722.1 1868.1h3.0v2.95h-3.0zM781.1 1868.1h3.0v2.95h-3.0zM787.0 1868.1h3.0v2.95h-3.0zM798.8 1868.1h5.9v2.95h-5.9zM813.5 1868.1h8.9v2.95h-8.9zM825.3 1868.1h3.0v2.95h-3.0zM834.2 1868.1h5.9v2.95h-5.9zM843.0 1868.1h3.0v2.95h-3.0zM851.9 1868.1h5.9v2.95h-5.9zM860.8 1868.1h3.0v2.95h-3.0zM654.2 1871.0h3.0v2.95h-3.0zM660.1 1871.0h3.0v2.95h-3.0zM683.7 1871.0h3.0v2.95h-3.0zM695.5 1871.0h3.0v2.95h-3.0zM704.4 1871.0h3.0v2.95h-3.0zM710.3 1871.0h3.0v2.95h-3.0zM716.2 1871.0h3.0v2.95h-3.0zM733.9 1871.0h3.0v2.95h-3.0zM781.1 1871.0h5.9v2.95h-5.9zM798.8 1871.0h3.0v2.95h-3.0zM807.6 1871.0h3.0v2.95h-3.0zM813.5 1871.0h3.0v2.95h-3.0zM819.4 1871.0h3.0v2.95h-3.0zM831.2 1871.0h3.0v2.95h-3.0zM840.1 1871.0h8.9v2.95h-8.9zM851.9 1871.0h5.9v2.95h-5.9zM645.4 1874.0h3.0v2.95h-3.0zM654.2 1874.0h3.0v2.95h-3.0zM666.0 1874.0h11.8v2.95h-11.8zM680.8 1874.0h5.9v2.95h-5.9zM698.5 1874.0h3.0v2.95h-3.0zM707.3 1874.0h8.9v2.95h-8.9zM719.1 1874.0h5.9v2.95h-5.9zM728.0 1874.0h3.0v2.95h-3.0zM763.4 1874.0h3.0v2.95h-3.0zM813.5 1874.0h3.0v2.95h-3.0zM828.3 1874.0h5.9v2.95h-5.9zM837.1 1874.0h3.0v2.95h-3.0zM843.0 1874.0h5.9v2.95h-5.9zM851.9 1874.0h3.0v2.95h-3.0zM648.3 1877.0h5.9v2.95h-5.9zM660.1 1877.0h8.9v2.95h-8.9zM677.8 1877.0h5.9v2.95h-5.9zM692.6 1877.0h5.9v2.95h-5.9zM701.4 1877.0h3.0v2.95h-3.0zM713.2 1877.0h3.0v2.95h-3.0zM719.1 1877.0h3.0v2.95h-3.0zM728.0 1877.0h3.0v2.95h-3.0zM733.9 1877.0h3.0v2.95h-3.0zM789.9 1877.0h5.9v2.95h-5.9zM804.7 1877.0h3.0v2.95h-3.0zM816.5 1877.0h5.9v2.95h-5.9zM828.3 1877.0h3.0v2.95h-3.0zM834.2 1877.0h3.0v2.95h-3.0zM843.0 1877.0h5.9v2.95h-5.9zM851.9 1877.0h3.0v2.95h-3.0zM857.8 1877.0h5.9v2.95h-5.9zM642.4 1879.9h8.9v2.95h-8.9zM683.7 1879.9h3.0v2.95h-3.0zM701.4 1879.9h3.0v2.95h-3.0zM716.2 1879.9h3.0v2.95h-3.0zM775.2 1879.9h3.0v2.95h-3.0zM792.9 1879.9h5.9v2.95h-5.9zM801.8 1879.9h5.9v2.95h-5.9zM813.5 1879.9h5.9v2.95h-5.9zM834.2 1879.9h8.9v2.95h-8.9zM848.9 1879.9h5.9v2.95h-5.9zM648.3 1882.8h8.9v2.95h-8.9zM669.0 1882.8h3.0v2.95h-3.0zM677.8 1882.8h3.0v2.95h-3.0zM689.6 1882.8h5.9v2.95h-5.9zM719.1 1882.8h5.9v2.95h-5.9zM733.9 1882.8h3.0v2.95h-3.0zM757.5 1882.8h3.0v2.95h-3.0zM775.2 1882.8h11.8v2.95h-11.8zM789.9 1882.8h3.0v2.95h-3.0zM795.8 1882.8h3.0v2.95h-3.0zM804.7 1882.8h8.9v2.95h-8.9zM822.4 1882.8h3.0v2.95h-3.0zM834.2 1882.8h8.9v2.95h-8.9zM642.4 1885.8h3.0v2.95h-3.0zM648.3 1885.8h3.0v2.95h-3.0zM666.0 1885.8h3.0v2.95h-3.0zM671.9 1885.8h3.0v2.95h-3.0zM680.8 1885.8h3.0v2.95h-3.0zM686.7 1885.8h8.9v2.95h-8.9zM698.5 1885.8h8.9v2.95h-8.9zM713.2 1885.8h3.0v2.95h-3.0zM751.6 1885.8h5.9v2.95h-5.9zM769.3 1885.8h5.9v2.95h-5.9zM784.0 1885.8h3.0v2.95h-3.0zM804.7 1885.8h3.0v2.95h-3.0zM813.5 1885.8h5.9v2.95h-5.9zM822.4 1885.8h5.9v2.95h-5.9zM843.0 1885.8h3.0v2.95h-3.0zM854.8 1885.8h3.0v2.95h-3.0zM860.8 1885.8h3.0v2.95h-3.0zM642.4 1888.8h3.0v2.95h-3.0zM666.0 1888.8h5.9v2.95h-5.9zM674.9 1888.8h3.0v2.95h-3.0zM680.8 1888.8h3.0v2.95h-3.0zM695.5 1888.8h14.8v2.95h-14.8zM725.0 1888.8h5.9v2.95h-5.9zM766.3 1888.8h3.0v2.95h-3.0zM775.2 1888.8h3.0v2.95h-3.0zM787.0 1888.8h3.0v2.95h-3.0zM798.8 1888.8h5.9v2.95h-5.9zM813.5 1888.8h5.9v2.95h-5.9zM825.3 1888.8h3.0v2.95h-3.0zM831.2 1888.8h3.0v2.95h-3.0zM837.1 1888.8h3.0v2.95h-3.0zM843.0 1888.8h3.0v2.95h-3.0zM854.8 1888.8h8.9v2.95h-8.9zM642.4 1891.7h3.0v2.95h-3.0zM654.2 1891.7h3.0v2.95h-3.0zM689.6 1891.7h3.0v2.95h-3.0zM710.3 1891.7h3.0v2.95h-3.0zM778.1 1891.7h3.0v2.95h-3.0zM804.7 1891.7h5.9v2.95h-5.9zM822.4 1891.7h3.0v2.95h-3.0zM757.5 1894.7h3.0v2.95h-3.0z"/><path fill="#303030" d="M645.4 1853.3h3.0v2.95h-3.0zM654.2 1853.3h3.0v2.95h-3.0zM663.1 1853.3h3.0v2.95h-3.0zM674.9 1853.3h3.0v2.95h-3.0zM683.7 1853.3h3.0v2.95h-3.0zM698.5 1853.3h5.9v2.95h-5.9zM713.2 1853.3h5.9v2.95h-5.9zM784.0 1853.3h3.0v2.95h-3.0zM792.9 1853.3h5.9v2.95h-5.9zM804.7 1853.3h3.0v2.95h-3.0zM819.4 1853.3h3.0v2.95h-3.0zM857.8 1853.3h3.0v2.95h-3.0zM645.4 1859.2h3.0v2.95h-3.0zM677.8 1859.2h3.0v2.95h-3.0zM763.4 1859.2h3.0v2.95h-3.0zM789.9 1859.2h3.0v2.95h-3.0zM822.4 1859.2h3.0v2.95h-3.0zM848.9 1859.2h3.0v2.95h-3.0zM810.6 1862.2h3.0v2.95h-3.0zM736.8 1865.2h3.0v2.95h-3.0zM828.3 1865.2h3.0v2.95h-3.0zM713.2 1868.1h3.0v2.95h-3.0zM769.3 1868.1h3.0v2.95h-3.0zM828.3 1868.1h3.0v2.95h-3.0zM639.5 1871.0h3.0v2.95h-3.0zM789.9 1871.0h3.0v2.95h-3.0zM695.5 1874.0h3.0v2.95h-3.0zM763.4 1877.0h3.0v2.95h-3.0zM848.9 1877.0h3.0v2.95h-3.0zM789.9 1879.9h3.0v2.95h-3.0zM810.6 1879.9h3.0v2.95h-3.0zM828.3 1879.9h3.0v2.95h-3.0zM695.5 1882.8h3.0v2.95h-3.0zM863.7 1882.8h3.0v2.95h-3.0zM695.5 1885.8h3.0v2.95h-3.0zM748.6 1885.8h3.0v2.95h-3.0zM713.2 1888.8h3.0v2.95h-3.0zM772.2 1888.8h3.0v2.95h-3.0zM810.6 1888.8h3.0v2.95h-3.0zM657.2 1891.7h3.0v2.95h-3.0zM669.0 1891.7h3.0v2.95h-3.0zM674.9 1891.7h3.0v2.95h-3.0zM725.0 1891.7h3.0v2.95h-3.0zM745.7 1891.7h3.0v2.95h-3.0zM792.9 1891.7h3.0v2.95h-3.0zM810.6 1891.7h3.0v2.95h-3.0zM816.5 1891.7h3.0v2.95h-3.0zM843.0 1891.7h5.9v2.95h-5.9zM748.6 1894.7h5.9v2.95h-5.9zM648.3 1897.6h3.0v2.95h-3.0zM654.2 1897.6h3.0v2.95h-3.0zM698.5 1897.6h3.0v2.95h-3.0zM819.4 1897.6h3.0v2.95h-3.0zM837.1 1897.6h3.0v2.95h-3.0z"/><path fill="#3c3c3c" d="M651.3 1853.3h3.0v2.95h-3.0zM704.4 1853.3h3.0v2.95h-3.0zM828.3 1853.3h3.0v2.95h-3.0zM751.6 1856.3h3.0v2.95h-3.0zM651.3 1859.2h3.0v2.95h-3.0zM674.9 1859.2h3.0v2.95h-3.0zM680.8 1859.2h3.0v2.95h-3.0zM725.0 1859.2h3.0v2.95h-3.0zM730.9 1859.2h3.0v2.95h-3.0zM781.1 1859.2h3.0v2.95h-3.0zM795.8 1859.2h3.0v2.95h-3.0zM807.6 1859.2h3.0v2.95h-3.0zM813.5 1859.2h3.0v2.95h-3.0zM837.1 1859.2h3.0v2.95h-3.0zM677.8 1862.2h3.0v2.95h-3.0zM695.5 1862.2h3.0v2.95h-3.0zM730.9 1862.2h3.0v2.95h-3.0zM766.3 1862.2h3.0v2.95h-3.0zM828.3 1862.2h3.0v2.95h-3.0zM848.9 1862.2h3.0v2.95h-3.0zM713.2 1865.2h3.0v2.95h-3.0zM754.5 1865.2h3.0v2.95h-3.0zM760.4 1865.2h3.0v2.95h-3.0zM766.3 1865.2h3.0v2.95h-3.0zM772.2 1865.2h3.0v2.95h-3.0zM810.6 1868.1h3.0v2.95h-3.0zM863.7 1871.0h3.0v2.95h-3.0zM733.9 1874.0h3.0v2.95h-3.0zM789.9 1874.0h3.0v2.95h-3.0zM810.6 1874.0h3.0v2.95h-3.0zM848.9 1874.0h3.0v2.95h-3.0zM810.6 1877.0h3.0v2.95h-3.0zM713.2 1879.9h3.0v2.95h-3.0zM733.9 1879.9h3.0v2.95h-3.0zM742.8 1879.9h3.0v2.95h-3.0zM772.2 1879.9h3.0v2.95h-3.0zM863.7 1879.9h3.0v2.95h-3.0zM760.4 1882.8h3.0v2.95h-3.0zM736.8 1885.8h3.0v2.95h-3.0zM789.9 1888.8h3.0v2.95h-3.0zM660.1 1891.7h8.9v2.95h-8.9zM671.9 1891.7h3.0v2.95h-3.0zM677.8 1891.7h5.9v2.95h-5.9zM686.7 1891.7h3.0v2.95h-3.0zM701.4 1891.7h3.0v2.95h-3.0zM716.2 1891.7h3.0v2.95h-3.0zM742.8 1891.7h3.0v2.95h-3.0zM795.8 1891.7h5.9v2.95h-5.9zM819.4 1891.7h3.0v2.95h-3.0zM848.9 1891.7h5.9v2.95h-5.9zM713.2 1897.6h5.9v2.95h-5.9zM784.0 1897.6h3.0v2.95h-3.0zM804.7 1897.6h3.0v2.95h-3.0zM825.3 1897.6h3.0v2.95h-3.0zM834.2 1897.6h3.0v2.95h-3.0z"/><path fill="#484848" d="M657.2 1853.3h3.0v2.95h-3.0zM689.6 1853.3h3.0v2.95h-3.0zM781.1 1853.3h3.0v2.95h-3.0zM754.5 1856.3h3.0v2.95h-3.0zM722.1 1859.2h3.0v2.95h-3.0zM728.0 1859.2h3.0v2.95h-3.0zM748.6 1859.2h3.0v2.95h-3.0zM787.0 1859.2h3.0v2.95h-3.0zM816.5 1859.2h3.0v2.95h-3.0zM854.8 1859.2h3.0v2.95h-3.0zM863.7 1859.2h3.0v2.95h-3.0zM713.2 1862.2h3.0v2.95h-3.0zM751.6 1862.2h5.9v2.95h-5.9zM657.2 1865.2h3.0v2.95h-3.0zM677.8 1865.2h3.0v2.95h-3.0zM745.7 1865.2h3.0v2.95h-3.0zM810.6 1865.2h3.0v2.95h-3.0zM657.2 1868.1h3.0v2.95h-3.0zM742.8 1868.1h3.0v2.95h-3.0zM863.7 1868.1h3.0v2.95h-3.0zM657.2 1871.0h3.0v2.95h-3.0zM713.2 1871.0h3.0v2.95h-3.0zM739.8 1871.0h3.0v2.95h-3.0zM810.6 1871.0h3.0v2.95h-3.0zM639.5 1874.0h3.0v2.95h-3.0zM677.8 1874.0h3.0v2.95h-3.0zM772.2 1874.0h3.0v2.95h-3.0zM657.2 1877.0h3.0v2.95h-3.0zM736.8 1877.0h3.0v2.95h-3.0zM639.5 1879.9h3.0v2.95h-3.0zM657.2 1879.9h3.0v2.95h-3.0zM677.8 1879.9h3.0v2.95h-3.0zM695.5 1879.9h3.0v2.95h-3.0zM713.2 1882.8h3.0v2.95h-3.0zM742.8 1882.8h3.0v2.95h-3.0zM828.3 1882.8h3.0v2.95h-3.0zM848.9 1882.8h3.0v2.95h-3.0zM657.2 1885.8h3.0v2.95h-3.0zM757.5 1885.8h5.9v2.95h-5.9zM828.3 1885.8h3.0v2.95h-3.0zM657.2 1888.8h3.0v2.95h-3.0zM677.8 1888.8h3.0v2.95h-3.0zM757.5 1888.8h3.0v2.95h-3.0zM722.1 1891.7h3.0v2.95h-3.0zM728.0 1891.7h3.0v2.95h-3.0zM784.0 1891.7h3.0v2.95h-3.0zM825.3 1891.7h5.9v2.95h-5.9zM834.2 1891.7h3.0v2.95h-3.0zM692.6 1897.6h3.0v2.95h-3.0zM725.0 1897.6h3.0v2.95h-3.0z"/><path fill="#545454" d="M648.3 1853.3h3.0v2.95h-3.0zM666.0 1853.3h3.0v2.95h-3.0zM680.8 1853.3h3.0v2.95h-3.0zM692.6 1853.3h3.0v2.95h-3.0zM728.0 1853.3h3.0v2.95h-3.0zM801.8 1853.3h3.0v2.95h-3.0zM837.1 1853.3h3.0v2.95h-3.0zM648.3 1859.2h3.0v2.95h-3.0zM663.1 1859.2h3.0v2.95h-3.0zM701.4 1859.2h3.0v2.95h-3.0zM716.2 1859.2h3.0v2.95h-3.0zM745.7 1859.2h3.0v2.95h-3.0zM751.6 1859.2h3.0v2.95h-3.0zM784.0 1859.2h3.0v2.95h-3.0zM801.8 1859.2h5.9v2.95h-5.9zM825.3 1859.2h5.9v2.95h-5.9zM639.5 1862.2h3.0v2.95h-3.0zM748.6 1862.2h3.0v2.95h-3.0zM789.9 1862.2h3.0v2.95h-3.0zM639.5 1865.2h3.0v2.95h-3.0zM739.8 1865.2h3.0v2.95h-3.0zM757.5 1865.2h3.0v2.95h-3.0zM736.8 1871.0h3.0v2.95h-3.0zM766.3 1871.0h3.0v2.95h-3.0zM828.3 1871.0h3.0v2.95h-3.0zM848.9 1871.0h3.0v2.95h-3.0zM739.8 1874.0h3.0v2.95h-3.0zM639.5 1877.0h3.0v2.95h-3.0zM766.3 1877.0h3.0v2.95h-3.0zM772.2 1877.0h3.0v2.95h-3.0zM639.5 1882.8h3.0v2.95h-3.0zM657.2 1882.8h3.0v2.95h-3.0zM730.9 1882.8h3.0v2.95h-3.0zM745.7 1882.8h3.0v2.95h-3.0zM677.8 1885.8h3.0v2.95h-3.0zM810.6 1885.8h3.0v2.95h-3.0zM754.5 1888.8h3.0v2.95h-3.0zM828.3 1888.8h3.0v2.95h-3.0zM639.5 1891.7h3.0v2.95h-3.0zM648.3 1891.7h3.0v2.95h-3.0zM695.5 1891.7h5.9v2.95h-5.9zM704.4 1891.7h5.9v2.95h-5.9zM787.0 1891.7h3.0v2.95h-3.0zM813.5 1891.7h3.0v2.95h-3.0zM837.1 1891.7h3.0v2.95h-3.0zM657.2 1897.6h3.0v2.95h-3.0zM663.1 1897.6h3.0v2.95h-3.0zM677.8 1897.6h3.0v2.95h-3.0zM795.8 1897.6h5.9v2.95h-5.9zM810.6 1897.6h3.0v2.95h-3.0zM840.1 1897.6h3.0v2.95h-3.0zM854.8 1897.6h3.0v2.95h-3.0z"/><path fill="#606060" d="M671.9 1853.3h3.0v2.95h-3.0zM787.0 1853.3h3.0v2.95h-3.0zM807.6 1853.3h3.0v2.95h-3.0zM822.4 1853.3h3.0v2.95h-3.0zM843.0 1853.3h3.0v2.95h-3.0zM860.8 1853.3h3.0v2.95h-3.0zM642.4 1859.2h3.0v2.95h-3.0zM660.1 1859.2h3.0v2.95h-3.0zM689.6 1859.2h3.0v2.95h-3.0zM704.4 1859.2h3.0v2.95h-3.0zM719.1 1859.2h3.0v2.95h-3.0zM760.4 1859.2h3.0v2.95h-3.0zM846.0 1859.2h3.0v2.95h-3.0zM860.8 1859.2h3.0v2.95h-3.0zM772.2 1862.2h3.0v2.95h-3.0zM695.5 1865.2h3.0v2.95h-3.0zM730.9 1868.1h3.0v2.95h-3.0zM736.8 1868.1h3.0v2.95h-3.0zM848.9 1868.1h3.0v2.95h-3.0zM677.8 1871.0h3.0v2.95h-3.0zM736.8 1874.0h3.0v2.95h-3.0zM769.3 1874.0h3.0v2.95h-3.0zM763.4 1879.9h3.0v2.95h-3.0zM739.8 1882.8h3.0v2.95h-3.0zM848.9 1885.8h3.0v2.95h-3.0zM639.5 1888.8h3.0v2.95h-3.0zM739.8 1888.8h3.0v2.95h-3.0zM760.4 1888.8h3.0v2.95h-3.0zM863.7 1888.8h3.0v2.95h-3.0zM683.7 1891.7h3.0v2.95h-3.0zM713.2 1891.7h3.0v2.95h-3.0zM763.4 1891.7h3.0v2.95h-3.0zM775.2 1891.7h3.0v2.95h-3.0zM781.1 1891.7h3.0v2.95h-3.0zM831.2 1891.7h3.0v2.95h-3.0zM840.1 1891.7h3.0v2.95h-3.0zM857.8 1891.7h5.9v2.95h-5.9zM695.5 1897.6h3.0v2.95h-3.0z"/><path fill="#6c6c6c" d="M660.1 1853.3h3.0v2.95h-3.0zM686.7 1853.3h3.0v2.95h-3.0zM707.3 1853.3h5.9v2.95h-5.9zM810.6 1853.3h3.0v2.95h-3.0zM816.5 1853.3h3.0v2.95h-3.0zM825.3 1853.3h3.0v2.95h-3.0zM831.2 1853.3h3.0v2.95h-3.0zM654.2 1859.2h3.0v2.95h-3.0zM666.0 1859.2h3.0v2.95h-3.0zM671.9 1859.2h3.0v2.95h-3.0zM695.5 1859.2h3.0v2.95h-3.0zM710.3 1859.2h3.0v2.95h-3.0zM772.2 1859.2h3.0v2.95h-3.0zM810.6 1859.2h3.0v2.95h-3.0zM834.2 1859.2h3.0v2.95h-3.0zM840.1 1859.2h5.9v2.95h-5.9zM857.8 1859.2h3.0v2.95h-3.0zM742.8 1865.2h3.0v2.95h-3.0zM763.4 1865.2h3.0v2.95h-3.0zM863.7 1865.2h3.0v2.95h-3.0zM639.5 1868.1h3.0v2.95h-3.0zM763.4 1868.1h3.0v2.95h-3.0zM769.3 1871.0h3.0v2.95h-3.0zM730.9 1874.0h3.0v2.95h-3.0zM863.7 1874.0h3.0v2.95h-3.0zM863.7 1877.0h3.0v2.95h-3.0zM736.8 1882.8h3.0v2.95h-3.0zM772.2 1882.8h3.0v2.95h-3.0zM742.8 1885.8h3.0v2.95h-3.0zM645.4 1891.7h3.0v2.95h-3.0zM651.3 1891.7h3.0v2.95h-3.0zM692.6 1891.7h3.0v2.95h-3.0zM719.1 1891.7h3.0v2.95h-3.0zM751.6 1891.7h3.0v2.95h-3.0zM789.9 1891.7h3.0v2.95h-3.0zM801.8 1891.7h3.0v2.95h-3.0zM854.8 1891.7h3.0v2.95h-3.0zM645.4 1897.6h3.0v2.95h-3.0zM683.7 1897.6h3.0v2.95h-3.0zM704.4 1897.6h3.0v2.95h-3.0zM851.9 1897.6h3.0v2.95h-3.0z"/><path fill="#787878" d="M695.5 1853.3h3.0v2.95h-3.0zM719.1 1853.3h3.0v2.95h-3.0zM725.0 1853.3h3.0v2.95h-3.0zM789.9 1853.3h3.0v2.95h-3.0zM813.5 1853.3h3.0v2.95h-3.0zM840.1 1853.3h3.0v2.95h-3.0zM848.9 1853.3h3.0v2.95h-3.0zM763.4 1862.2h3.0v2.95h-3.0zM766.3 1874.0h3.0v2.95h-3.0zM769.3 1877.0h3.0v2.95h-3.0zM730.9 1879.9h3.0v2.95h-3.0zM739.8 1879.9h3.0v2.95h-3.0zM639.5 1885.8h3.0v2.95h-3.0zM745.7 1885.8h3.0v2.95h-3.0zM730.9 1888.8h3.0v2.95h-3.0zM730.9 1891.7h3.0v2.95h-3.0zM863.7 1891.7h3.0v2.95h-3.0zM651.3 1897.6h3.0v2.95h-3.0zM781.1 1897.6h3.0v2.95h-3.0zM822.4 1897.6h3.0v2.95h-3.0zM860.8 1897.6h3.0v2.95h-3.0z"/><path fill="#848484" d="M669.0 1853.3h3.0v2.95h-3.0zM722.1 1853.3h3.0v2.95h-3.0zM798.8 1853.3h3.0v2.95h-3.0zM834.2 1853.3h3.0v2.95h-3.0zM846.0 1853.3h3.0v2.95h-3.0zM854.8 1853.3h3.0v2.95h-3.0zM742.8 1862.2h5.9v2.95h-5.9zM739.8 1868.1h3.0v2.95h-3.0zM766.3 1868.1h3.0v2.95h-3.0zM730.9 1871.0h3.0v2.95h-3.0zM769.3 1879.9h3.0v2.95h-3.0zM766.3 1882.8h3.0v2.95h-3.0zM748.6 1888.8h5.9v2.95h-5.9zM760.4 1891.7h3.0v2.95h-3.0zM669.0 1897.6h3.0v2.95h-3.0zM707.3 1897.6h5.9v2.95h-5.9zM807.6 1897.6h3.0v2.95h-3.0zM846.0 1897.6h3.0v2.95h-3.0z"/><path fill="#909090" d="M863.7 1862.2h3.0v2.95h-3.0zM730.9 1865.2h3.0v2.95h-3.0zM772.2 1868.1h3.0v2.95h-3.0zM772.2 1871.0h3.0v2.95h-3.0zM730.9 1877.0h3.0v2.95h-3.0zM730.9 1885.8h3.0v2.95h-3.0zM863.7 1885.8h3.0v2.95h-3.0zM772.2 1891.7h3.0v2.95h-3.0zM660.1 1897.6h3.0v2.95h-3.0zM671.9 1897.6h3.0v2.95h-3.0zM680.8 1897.6h3.0v2.95h-3.0zM686.7 1897.6h3.0v2.95h-3.0zM701.4 1897.6h3.0v2.95h-3.0zM719.1 1897.6h5.9v2.95h-5.9zM728.0 1897.6h3.0v2.95h-3.0zM778.1 1897.6h3.0v2.95h-3.0zM831.2 1897.6h3.0v2.95h-3.0z"/><path fill="#9c9c9c" d="M760.4 1862.2h3.0v2.95h-3.0zM736.8 1879.9h3.0v2.95h-3.0zM766.3 1879.9h3.0v2.95h-3.0zM674.9 1897.6h3.0v2.95h-3.0zM789.9 1897.6h5.9v2.95h-5.9zM816.5 1897.6h3.0v2.95h-3.0zM848.9 1897.6h3.0v2.95h-3.0z"/><path fill="#a8a8a8" d="M769.3 1882.8h3.0v2.95h-3.0zM757.5 1891.7h3.0v2.95h-3.0zM666.0 1897.6h3.0v2.95h-3.0zM689.6 1897.6h3.0v2.95h-3.0zM801.8 1897.6h3.0v2.95h-3.0zM813.5 1897.6h3.0v2.95h-3.0zM828.3 1897.6h3.0v2.95h-3.0zM843.0 1897.6h3.0v2.95h-3.0z"/><path fill="#b4b4b4" d="M757.5 1859.2h3.0v2.95h-3.0zM757.5 1862.2h3.0v2.95h-3.0zM766.3 1885.8h3.0v2.95h-3.0zM787.0 1897.6h3.0v2.95h-3.0zM857.8 1897.6h3.0v2.95h-3.0z"/><path fill="#c0c0c0" d="M754.5 1859.2h3.0v2.95h-3.0zM748.6 1891.7h3.0v2.95h-3.0zM754.5 1891.7h3.0v2.95h-3.0z"/><path fill="#cccccc" d="M763.4 1888.8h3.0v2.95h-3.0z"/><path fill="#e4e4e4" d="M763.4 1882.8h3.0v2.95h-3.0z"/><path fill="#f0f0f0" d="M739.8 1877.0h3.0v2.95h-3.0z"/><path fill="#fcfcfc" d="M739.8 1885.8h3.0v2.95h-3.0zM763.4 1885.8h3.0v2.95h-3.0zM742.8 1888.8h5.9v2.95h-5.9z"/></g>
<rect x="1065.2" y="1681.8" width="377.3" height="377.4" fill="#000"/>
<g filter="url(#b2)"><path fill="#181818" d="M1143.1 1853.5h5.9v2.95h-5.9zM1152.0 1853.5h3.0v2.95h-3.0zM1157.9 1853.5h8.9v2.95h-8.9zM1169.7 1853.5h5.9v2.95h-5.9zM1181.5 1853.5h5.9v2.95h-5.9zM1193.2 1853.5h5.9v2.95h-5.9zM1202.1 1853.5h3.0v2.95h-3.0zM1208.0 1853.5h8.9v2.95h-8.9zM1222.8 1853.5h5.9v2.95h-5.9zM1275.9 1853.5h23.6v2.95h-23.6zM1305.4 1853.5h3.0v2.95h-3.0zM1311.2 1853.5h3.0v2.95h-3.0zM1323.1 1853.5h17.7v2.95h-17.7zM1343.7 1853.5h3.0v2.95h-3.0zM1349.6 1853.5h3.0v2.95h-3.0zM1355.5 1853.5h5.9v2.95h-5.9zM1137.2 1859.4h5.9v2.95h-5.9zM1157.9 1859.4h3.0v2.95h-3.0zM1163.8 1859.4h26.6v2.95h-26.6zM1211.0 1859.4h3.0v2.95h-3.0zM1219.8 1859.4h3.0v2.95h-3.0zM1225.7 1859.4h3.0v2.95h-3.0zM1243.4 1859.4h3.0v2.95h-3.0zM1272.9 1859.4h14.8v2.95h-14.8zM1299.5 1859.4h3.0v2.95h-3.0zM1308.3 1859.4h5.9v2.95h-5.9zM1317.2 1859.4h14.8v2.95h-14.8zM1337.8 1859.4h3.0v2.95h-3.0zM1346.7 1859.4h8.9v2.95h-8.9zM1358.5 1859.4h3.0v2.95h-3.0zM1154.9 1862.3h3.0v2.95h-3.0zM1163.8 1862.3h3.0v2.95h-3.0zM1187.4 1862.3h3.0v2.95h-3.0zM1202.1 1862.3h3.0v2.95h-3.0zM1208.0 1862.3h3.0v2.95h-3.0zM1228.7 1862.3h3.0v2.95h-3.0zM1240.5 1862.3h3.0v2.95h-3.0zM1272.9 1862.3h3.0v2.95h-3.0zM1293.6 1862.3h3.0v2.95h-3.0zM1323.1 1862.3h3.0v2.95h-3.0zM1346.7 1862.3h3.0v2.95h-3.0zM1352.6 1862.3h3.0v2.95h-3.0zM1143.1 1865.3h3.0v2.95h-3.0zM1160.8 1865.3h3.0v2.95h-3.0zM1166.7 1865.3h3.0v2.95h-3.0zM1208.0 1865.3h3.0v2.95h-3.0zM1225.7 1865.3h3.0v2.95h-3.0zM1237.5 1865.3h3.0v2.95h-3.0zM1270.0 1865.3h3.0v2.95h-3.0zM1337.8 1865.3h3.0v2.95h-3.0zM1140.2 1868.2h5.9v2.95h-5.9zM1243.4 1868.2h3.0v2.95h-3.0zM1361.4 1868.2h3.0v2.95h-3.0zM1137.2 1871.2h3.0v2.95h-3.0zM1149.0 1871.2h3.0v2.95h-3.0zM1154.9 1871.2h3.0v2.95h-3.0zM1163.8 1871.2h3.0v2.95h-3.0zM1181.5 1871.2h5.9v2.95h-5.9zM1196.2 1871.2h3.0v2.95h-3.0zM1205.1 1871.2h5.9v2.95h-5.9zM1225.7 1871.2h3.0v2.95h-3.0zM1234.6 1871.2h3.0v2.95h-3.0zM1246.4 1871.2h3.0v2.95h-3.0zM1255.2 1871.2h5.9v2.95h-5.9zM1272.9 1871.2h3.0v2.95h-3.0zM1281.8 1871.2h3.0v2.95h-3.0zM1302.4 1871.2h3.0v2.95h-3.0zM1317.2 1871.2h3.0v2.95h-3.0zM1340.8 1871.2h5.9v2.95h-5.9zM1352.6 1871.2h3.0v2.95h-3.0zM1157.9 1874.1h3.0v2.95h-3.0zM1178.5 1874.1h3.0v2.95h-3.0zM1187.4 1874.1h3.0v2.95h-3.0zM1193.2 1874.1h3.0v2.95h-3.0zM1208.0 1874.1h5.9v2.95h-5.9zM1216.9 1874.1h5.9v2.95h-5.9zM1234.6 1874.1h3.0v2.95h-3.0zM1255.2 1874.1h3.0v2.95h-3.0zM1278.8 1874.1h3.0v2.95h-3.0zM1290.6 1874.1h5.9v2.95h-5.9zM1308.3 1874.1h5.9v2.95h-5.9zM1317.2 1874.1h3.0v2.95h-3.0zM1349.6 1874.1h3.0v2.95h-3.0zM1137.2 1877.1h3.0v2.95h-3.0zM1143.1 1877.1h3.0v2.95h-3.0zM1149.0 1877.1h3.0v2.95h-3.0zM1166.7 1877.1h3.0v2.95h-3.0zM1181.5 1877.1h3.0v2.95h-3.0zM1187.4 1877.1h3.0v2.95h-3.0zM1208.0 1877.1h3.0v2.95h-3.0zM1213.9 1877.1h3.0v2.95h-3.0zM1246.4 1877.1h5.9v2.95h-5.9zM1261.1 1877.1h3.0v2.95h-3.0zM1267.0 1877.1h3.0v2.95h-3.0zM1284.7 1877.1h3.0v2.95h-3.0zM1293.6 1877.1h3.0v2.95h-3.0zM1302.4 1877.1h8.9v2.95h-8.9zM1337.8 1877.1h5.9v2.95h-5.9zM1346.7 1877.1h5.9v2.95h-5.9zM1361.4 1877.1h3.0v2.95h-3.0zM1163.8 1880.0h3.0v2.95h-3.0zM1196.2 1880.0h3.0v2.95h-3.0zM1205.1 1880.0h5.9v2.95h-5.9zM1228.7 1880.0h3.0v2.95h-3.0zM1234.6 1880.0h3.0v2.95h-3.0zM1240.5 1880.0h3.0v2.95h-3.0zM1246.4 1880.0h3.0v2.95h-3.0zM1272.9 1880.0h3.0v2.95h-3.0zM1287.7 1880.0h3.0v2.95h-3.0zM1293.6 1880.0h5.9v2.95h-5.9zM1308.3 1880.0h3.0v2.95h-3.0zM1317.2 1880.0h3.0v2.95h-3.0zM1361.4 1880.0h3.0v2.95h-3.0zM1140.2 1883.0h3.0v2.95h-3.0zM1187.4 1883.0h3.0v2.95h-3.0zM1196.2 1883.0h3.0v2.95h-3.0zM1234.6 1883.0h3.0v2.95h-3.0zM1270.0 1883.0h3.0v2.95h-3.0zM1287.7 1883.0h3.0v2.95h-3.0zM1317.2 1883.0h3.0v2.95h-3.0zM1323.1 1883.0h3.0v2.95h-3.0zM1346.7 1883.0h3.0v2.95h-3.0zM1352.6 1883.0h5.9v2.95h-5.9zM1361.4 1883.0h3.0v2.95h-3.0zM1137.2 1885.9h3.0v2.95h-3.0zM1160.8 1885.9h3.0v2.95h-3.0zM1184.4 1885.9h3.0v2.95h-3.0zM1228.7 1885.9h3.0v2.95h-3.0zM1272.9 1885.9h5.9v2.95h-5.9zM1340.8 1885.9h3.0v2.95h-3.0zM1355.5 1885.9h3.0v2.95h-3.0zM1361.4 1885.9h3.0v2.95h-3.0zM1169.7 1888.9h3.0v2.95h-3.0zM1175.6 1888.9h3.0v2.95h-3.0zM1181.5 1888.9h5.9v2.95h-5.9zM1205.1 1888.9h3.0v2.95h-3.0zM1228.7 1888.9h3.0v2.95h-3.0zM1258.2 1888.9h5.9v2.95h-5.9zM1281.8 1888.9h3.0v2.95h-3.0zM1293.6 1888.9h3.0v2.95h-3.0zM1326.0 1888.9h3.0v2.95h-3.0zM1340.8 1888.9h3.0v2.95h-3.0zM1352.6 1888.9h5.9v2.95h-5.9zM1361.4 1888.9h3.0v2.95h-3.0zM1143.1 1891.8h3.0v2.95h-3.0zM1152.0 1891.8h3.0v2.95h-3.0zM1169.7 1891.8h3.0v2.95h-3.0zM1184.4 1891.8h3.0v2.95h-3.0zM1202.1 1891.8h3.0v2.95h-3.0zM1216.9 1891.8h3.0v2.95h-3.0zM1278.8 1891.8h3.0v2.95h-3.0zM1308.3 1891.8h3.0v2.95h-3.0zM1320.1 1891.8h3.0v2.95h-3.0z"/><path fill="#242424" d="M1154.9 1853.5h3.0v2.95h-3.0zM1166.7 1853.5h3.0v2.95h-3.0zM1175.6 1853.5h3.0v2.95h-3.0zM1187.4 1853.5h3.0v2.95h-3.0zM1199.2 1853.5h3.0v2.95h-3.0zM1216.9 1853.5h3.0v2.95h-3.0zM1302.4 1853.5h3.0v2.95h-3.0zM1308.3 1853.5h3.0v2.95h-3.0zM1317.2 1853.5h5.9v2.95h-5.9zM1340.8 1853.5h3.0v2.95h-3.0zM1346.7 1853.5h3.0v2.95h-3.0zM1143.1 1859.4h14.8v2.95h-14.8zM1160.8 1859.4h3.0v2.95h-3.0zM1190.3 1859.4h20.7v2.95h-20.7zM1213.9 1859.4h5.9v2.95h-5.9zM1222.8 1859.4h3.0v2.95h-3.0zM1228.7 1859.4h3.0v2.95h-3.0zM1249.3 1859.4h3.0v2.95h-3.0zM1287.7 1859.4h11.8v2.95h-11.8zM1302.4 1859.4h5.9v2.95h-5.9zM1314.2 1859.4h3.0v2.95h-3.0zM1331.9 1859.4h5.9v2.95h-5.9zM1340.8 1859.4h5.9v2.95h-5.9zM1355.5 1859.4h3.0v2.95h-3.0zM1137.2 1862.3h3.0v2.95h-3.0zM1160.8 1862.3h3.0v2.95h-3.0zM1184.4 1862.3h3.0v2.95h-3.0zM1270.0 1862.3h3.0v2.95h-3.0zM1317.2 1862.3h3.0v2.95h-3.0zM1340.8 1862.3h3.0v2.95h-3.0zM1137.2 1865.3h3.0v2.95h-3.0zM1184.4 1865.3h3.0v2.95h-3.0zM1228.7 1865.3h3.0v2.95h-3.0zM1243.4 1865.3h3.0v2.95h-3.0zM1264.1 1865.3h3.0v2.95h-3.0zM1293.6 1865.3h3.0v2.95h-3.0zM1317.2 1865.3h3.0v2.95h-3.0zM1340.8 1865.3h3.0v2.95h-3.0zM1361.4 1865.3h3.0v2.95h-3.0zM1137.2 1868.2h3.0v2.95h-3.0zM1228.7 1868.2h3.0v2.95h-3.0zM1246.4 1868.2h8.9v2.95h-8.9zM1160.8 1871.2h3.0v2.95h-3.0zM1228.7 1871.2h3.0v2.95h-3.0zM1252.2 1871.2h3.0v2.95h-3.0zM1267.0 1871.2h3.0v2.95h-3.0zM1293.6 1871.2h3.0v2.95h-3.0zM1137.2 1874.1h3.0v2.95h-3.0zM1160.8 1874.1h3.0v2.95h-3.0zM1184.4 1874.1h3.0v2.95h-3.0zM1228.7 1874.1h3.0v2.95h-3.0zM1237.5 1874.1h5.9v2.95h-5.9zM1246.4 1874.1h5.9v2.95h-5.9zM1258.2 1874.1h3.0v2.95h-3.0zM1267.0 1874.1h3.0v2.95h-3.0zM1340.8 1874.1h3.0v2.95h-3.0zM1160.8 1877.1h3.0v2.95h-3.0zM1184.4 1877.1h3.0v2.95h-3.0zM1234.6 1877.1h3.0v2.95h-3.0zM1240.5 1877.1h3.0v2.95h-3.0zM1270.0 1877.1h3.0v2.95h-3.0zM1317.2 1877.1h3.0v2.95h-3.0zM1137.2 1880.0h3.0v2.95h-3.0zM1160.8 1880.0h3.0v2.95h-3.0zM1184.4 1880.0h3.0v2.95h-3.0zM1243.4 1880.0h3.0v2.95h-3.0zM1252.2 1880.0h8.9v2.95h-8.9zM1267.0 1880.0h3.0v2.95h-3.0zM1340.8 1880.0h3.0v2.95h-3.0zM1160.8 1883.0h3.0v2.95h-3.0zM1184.4 1883.0h3.0v2.95h-3.0zM1208.0 1883.0h3.0v2.95h-3.0zM1228.7 1883.0h3.0v2.95h-3.0zM1237.5 1883.0h3.0v2.95h-3.0zM1249.3 1883.0h3.0v2.95h-3.0zM1255.2 1883.0h3.0v2.95h-3.0zM1293.6 1883.0h3.0v2.95h-3.0zM1340.8 1883.0h3.0v2.95h-3.0zM1208.0 1885.9h3.0v2.95h-3.0zM1293.6 1885.9h3.0v2.95h-3.0zM1317.2 1885.9h3.0v2.95h-3.0zM1137.2 1888.9h3.0v2.95h-3.0zM1160.8 1888.9h3.0v2.95h-3.0zM1208.0 1888.9h3.0v2.95h-3.0zM1317.2 1888.9h3.0v2.95h-3.0zM1149.0 1891.8h3.0v2.95h-3.0zM1157.9 1891.8h5.9v2.95h-5.9zM1166.7 1891.8h3.0v2.95h-3.0zM1175.6 1891.8h8.9v2.95h-8.9zM1187.4 1891.8h3.0v2.95h-3.0zM1208.0 1891.8h5.9v2.95h-5.9zM1219.8 1891.8h3.0v2.95h-3.0zM1225.7 1891.8h3.0v2.95h-3.0zM1240.5 1891.8h3.0v2.95h-3.0zM1255.2 1891.8h3.0v2.95h-3.0zM1270.0 1891.8h3.0v2.95h-3.0zM1275.9 1891.8h3.0v2.95h-3.0zM1287.7 1891.8h3.0v2.95h-3.0zM1296.5 1891.8h8.9v2.95h-8.9zM1317.2 1891.8h3.0v2.95h-3.0zM1326.0 1891.8h3.0v2.95h-3.0zM1337.8 1891.8h3.0v2.95h-3.0zM1343.7 1891.8h5.9v2.95h-5.9zM1358.5 1891.8h5.9v2.95h-5.9zM1143.1 1897.7h3.0v2.95h-3.0zM1149.0 1897.7h5.9v2.95h-5.9zM1187.4 1897.7h5.9v2.95h-5.9zM1196.2 1897.7h3.0v2.95h-3.0zM1205.1 1897.7h3.0v2.95h-3.0zM1211.0 1897.7h3.0v2.95h-3.0zM1219.8 1897.7h5.9v2.95h-5.9zM1284.7 1897.7h3.0v2.95h-3.0zM1290.6 1897.7h8.9v2.95h-8.9zM1305.4 1897.7h3.0v2.95h-3.0zM1311.2 1897.7h3.0v2.95h-3.0zM1317.2 1897.7h8.9v2.95h-8.9zM1334.9 1897.7h5.9v2.95h-5.9z"/><path fill="#303030" d="M1270.0 1859.4h3.0v2.95h-3.0zM1361.4 1859.4h3.0v2.95h-3.0zM1261.1 1862.3h3.0v2.95h-3.0zM1361.4 1862.3h3.0v2.95h-3.0zM1240.5 1865.3h3.0v2.95h-3.0zM1249.3 1865.3h3.0v2.95h-3.0zM1208.0 1868.2h3.0v2.95h-3.0zM1216.9 1868.2h3.0v2.95h-3.0zM1222.8 1868.2h3.0v2.95h-3.0zM1255.2 1868.2h3.0v2.95h-3.0zM1270.0 1868.2h3.0v2.95h-3.0zM1287.7 1868.2h3.0v2.95h-3.0zM1299.5 1868.2h3.0v2.95h-3.0zM1317.2 1868.2h5.9v2.95h-5.9zM1352.6 1868.2h3.0v2.95h-3.0zM1240.5 1871.2h3.0v2.95h-3.0zM1270.0 1871.2h3.0v2.95h-3.0zM1361.4 1871.2h3.0v2.95h-3.0zM1270.0 1874.1h3.0v2.95h-3.0zM1361.4 1874.1h3.0v2.95h-3.0zM1228.7 1877.1h3.0v2.95h-3.0zM1270.0 1880.0h3.0v2.95h-3.0zM1137.2 1883.0h3.0v2.95h-3.0zM1258.2 1883.0h8.9v2.95h-8.9zM1249.3 1885.9h3.0v2.95h-3.0zM1255.2 1885.9h3.0v2.95h-3.0zM1270.0 1885.9h3.0v2.95h-3.0zM1255.2 1888.9h3.0v2.95h-3.0zM1270.0 1888.9h3.0v2.95h-3.0zM1137.2 1891.8h5.9v2.95h-5.9zM1146.1 1891.8h3.0v2.95h-3.0zM1154.9 1891.8h3.0v2.95h-3.0zM1163.8 1891.8h3.0v2.95h-3.0zM1172.6 1891.8h3.0v2.95h-3.0zM1190.3 1891.8h11.8v2.95h-11.8zM1205.1 1891.8h3.0v2.95h-3.0zM1213.9 1891.8h3.0v2.95h-3.0zM1222.8 1891.8h3.0v2.95h-3.0zM1228.7 1891.8h3.0v2.95h-3.0zM1252.2 1891.8h3.0v2.95h-3.0zM1272.9 1891.8h3.0v2.95h-3.0zM1281.8 1891.8h5.9v2.95h-5.9zM1290.6 1891.8h5.9v2.95h-5.9zM1305.4 1891.8h3.0v2.95h-3.0zM1311.2 1891.8h5.9v2.95h-5.9zM1323.1 1891.8h3.0v2.95h-3.0zM1329.0 1891.8h8.9v2.95h-8.9zM1340.8 1891.8h3.0v2.95h-3.0zM1349.6 1891.8h8.9v2.95h-8.9zM1157.9 1897.7h3.0v2.95h-3.0zM1163.8 1897.7h3.0v2.95h-3.0zM1178.5 1897.7h8.9v2.95h-8.9zM1199.2 1897.7h5.9v2.95h-5.9zM1275.9 1897.7h5.9v2.95h-5.9zM1302.4 1897.7h3.0v2.95h-3.0zM1314.2 1897.7h3.0v2.95h-3.0zM1326.0 1897.7h3.0v2.95h-3.0zM1340.8 1897.7h3.0v2.95h-3.0zM1349.6 1897.7h3.0v2.95h-3.0zM1358.5 1897.7h3.0v2.95h-3.0z"/><path fill="#3c3c3c" d="M1246.4 1859.4h3.0v2.95h-3.0zM1243.4 1862.3h3.0v2.95h-3.0zM1252.2 1865.3h3.0v2.95h-3.0zM1261.1 1865.3h3.0v2.95h-3.0zM1152.0 1868.2h3.0v2.95h-3.0zM1160.8 1868.2h3.0v2.95h-3.0zM1169.7 1868.2h3.0v2.95h-3.0zM1193.2 1868.2h3.0v2.95h-3.0zM1211.0 1868.2h3.0v2.95h-3.0zM1219.8 1868.2h3.0v2.95h-3.0zM1237.5 1868.2h5.9v2.95h-5.9zM1293.6 1868.2h3.0v2.95h-3.0zM1323.1 1868.2h5.9v2.95h-5.9zM1237.5 1871.2h3.0v2.95h-3.0zM1264.1 1871.2h3.0v2.95h-3.0zM1261.1 1874.1h3.0v2.95h-3.0zM1237.5 1877.1h3.0v2.95h-3.0zM1261.1 1880.0h3.0v2.95h-3.0zM1252.2 1885.9h3.0v2.95h-3.0zM1258.2 1885.9h5.9v2.95h-5.9zM1146.1 1897.7h3.0v2.95h-3.0zM1154.9 1897.7h3.0v2.95h-3.0zM1160.8 1897.7h3.0v2.95h-3.0zM1166.7 1897.7h11.8v2.95h-11.8zM1193.2 1897.7h3.0v2.95h-3.0zM1208.0 1897.7h3.0v2.95h-3.0zM1225.7 1897.7h3.0v2.95h-3.0zM1281.8 1897.7h3.0v2.95h-3.0zM1287.7 1897.7h3.0v2.95h-3.0zM1299.5 1897.7h3.0v2.95h-3.0zM1343.7 1897.7h5.9v2.95h-5.9zM1352.6 1897.7h5.9v2.95h-5.9z"/><path fill="#484848" d="M1255.2 1859.4h3.0v2.95h-3.0zM1154.9 1868.2h3.0v2.95h-3.0zM1181.5 1868.2h5.9v2.95h-5.9zM1199.2 1868.2h3.0v2.95h-3.0zM1225.7 1868.2h3.0v2.95h-3.0zM1314.2 1868.2h3.0v2.95h-3.0zM1331.9 1868.2h3.0v2.95h-3.0zM1337.8 1868.2h3.0v2.95h-3.0zM1346.7 1868.2h5.9v2.95h-5.9zM1264.1 1874.1h3.0v2.95h-3.0zM1237.5 1880.0h3.0v2.95h-3.0zM1240.5 1883.0h3.0v2.95h-3.0zM1243.4 1891.8h3.0v2.95h-3.0zM1213.9 1897.7h5.9v2.95h-5.9zM1308.3 1897.7h3.0v2.95h-3.0zM1329.0 1897.7h5.9v2.95h-5.9z"/><path fill="#545454" d="M1157.9 1868.2h3.0v2.95h-3.0zM1166.7 1868.2h3.0v2.95h-3.0zM1202.1 1868.2h3.0v2.95h-3.0zM1296.5 1868.2h3.0v2.95h-3.0zM1302.4 1868.2h3.0v2.95h-3.0zM1308.3 1868.2h3.0v2.95h-3.0zM1329.0 1868.2h3.0v2.95h-3.0zM1340.8 1868.2h3.0v2.95h-3.0zM1358.5 1868.2h3.0v2.95h-3.0zM1261.1 1871.2h3.0v2.95h-3.0zM1264.1 1880.0h3.0v2.95h-3.0zM1246.4 1883.0h3.0v2.95h-3.0zM1249.3 1891.8h3.0v2.95h-3.0z"/><path fill="#606060" d="M1255.2 1862.3h5.9v2.95h-5.9zM1246.4 1865.3h3.0v2.95h-3.0zM1172.6 1868.2h3.0v2.95h-3.0zM1178.5 1868.2h3.0v2.95h-3.0zM1187.4 1868.2h5.9v2.95h-5.9zM1205.1 1868.2h3.0v2.95h-3.0zM1213.9 1868.2h3.0v2.95h-3.0zM1290.6 1868.2h3.0v2.95h-3.0zM1305.4 1868.2h3.0v2.95h-3.0zM1311.2 1868.2h3.0v2.95h-3.0zM1334.9 1868.2h3.0v2.95h-3.0zM1343.7 1868.2h3.0v2.95h-3.0zM1355.5 1868.2h3.0v2.95h-3.0zM1264.1 1877.1h3.0v2.95h-3.0zM1243.4 1888.9h3.0v2.95h-3.0z"/><path fill="#6c6c6c" d="M1252.2 1859.4h3.0v2.95h-3.0zM1258.2 1865.3h3.0v2.95h-3.0zM1163.8 1868.2h3.0v2.95h-3.0zM1175.6 1868.2h3.0v2.95h-3.0zM1196.2 1868.2h3.0v2.95h-3.0zM1258.2 1868.2h3.0v2.95h-3.0zM1264.1 1868.2h3.0v2.95h-3.0zM1284.7 1868.2h3.0v2.95h-3.0zM1252.2 1888.9h3.0v2.95h-3.0zM1246.4 1891.8h3.0v2.95h-3.0z"/><path fill="#787878" d="M1246.4 1862.3h3.0v2.95h-3.0zM1243.4 1883.0h3.0v2.95h-3.0zM1240.5 1888.9h3.0v2.95h-3.0zM1249.3 1888.9h3.0v2.95h-3.0z"/><path fill="#848484" d="M1252.2 1862.3h3.0v2.95h-3.0zM1261.1 1868.2h3.0v2.95h-3.0z"/><path fill="#909090" d="M1240.5 1885.9h3.0v2.95h-3.0z"/><path fill="#a8a8a8" d="M1255.2 1865.3h3.0v2.95h-3.0zM1246.4 1888.9h3.0v2.95h-3.0z"/><path fill="#b4b4b4" d="M1249.3 1862.3h3.0v2.95h-3.0z"/><path fill="#cccccc" d="M1243.4 1885.9h3.0v2.95h-3.0z"/><path fill="#f0f0f0" d="M1246.4 1885.9h3.0v2.95h-3.0z"/></g>
<rect x="1562.1" y="1680.9" width="379.3" height="378.9" fill="#000"/>
<g filter="url(#b2)"><path fill="#181818" d="M1641.0 1853.3h8.9v2.95h-8.9zM1652.8 1853.3h3.0v2.95h-3.0zM1658.7 1853.3h8.9v2.95h-8.9zM1670.5 1853.3h3.0v2.95h-3.0zM1676.4 1853.3h3.0v2.95h-3.0zM1685.3 1853.3h5.9v2.95h-5.9zM1700.0 1853.3h17.7v2.95h-17.7zM1720.7 1853.3h5.9v2.95h-5.9zM1776.7 1853.3h8.9v2.95h-8.9zM1791.5 1853.3h5.9v2.95h-5.9zM1803.3 1853.3h11.8v2.95h-11.8zM1821.0 1853.3h14.8v2.95h-14.8zM1838.7 1853.3h3.0v2.95h-3.0zM1847.5 1853.3h11.8v2.95h-11.8zM1655.8 1859.2h3.0v2.95h-3.0zM1664.6 1859.2h5.9v2.95h-5.9zM1676.4 1859.2h3.0v2.95h-3.0zM1682.3 1859.2h3.0v2.95h-3.0zM1717.7 1859.2h5.9v2.95h-5.9zM1753.1 1859.2h3.0v2.95h-3.0zM1770.8 1859.2h3.0v2.95h-3.0zM1791.5 1859.2h8.9v2.95h-8.9zM1809.2 1859.2h3.0v2.95h-3.0zM1829.8 1859.2h8.9v2.95h-8.9zM1664.6 1862.2h3.0v2.95h-3.0zM1756.1 1862.2h3.0v2.95h-3.0zM1779.7 1862.2h3.0v2.95h-3.0zM1815.1 1862.2h3.0v2.95h-3.0zM1847.5 1862.2h3.0v2.95h-3.0zM1856.4 1862.2h3.0v2.95h-3.0zM1638.1 1865.2h3.0v2.95h-3.0zM1682.3 1865.2h3.0v2.95h-3.0zM1762.0 1865.2h3.0v2.95h-3.0zM1770.8 1865.2h3.0v2.95h-3.0zM1829.8 1865.2h3.0v2.95h-3.0zM1676.4 1868.1h3.0v2.95h-3.0zM1703.0 1868.1h3.0v2.95h-3.0zM1717.7 1868.1h3.0v2.95h-3.0zM1782.6 1868.1h3.0v2.95h-3.0zM1788.5 1868.1h3.0v2.95h-3.0zM1803.3 1868.1h3.0v2.95h-3.0zM1812.1 1868.1h3.0v2.95h-3.0zM1821.0 1868.1h3.0v2.95h-3.0zM1829.8 1868.1h3.0v2.95h-3.0zM1667.6 1871.0h3.0v2.95h-3.0zM1694.1 1871.0h3.0v2.95h-3.0zM1714.8 1871.0h3.0v2.95h-3.0zM1797.4 1871.0h5.9v2.95h-5.9zM1670.5 1874.0h3.0v2.95h-3.0zM1679.4 1874.0h3.0v2.95h-3.0zM1697.1 1874.0h3.0v2.95h-3.0zM1717.7 1874.0h3.0v2.95h-3.0zM1773.8 1874.0h3.0v2.95h-3.0zM1788.5 1874.0h5.9v2.95h-5.9zM1818.0 1874.0h3.0v2.95h-3.0zM1649.9 1877.0h3.0v2.95h-3.0zM1655.8 1877.0h3.0v2.95h-3.0zM1661.7 1877.0h3.0v2.95h-3.0zM1700.0 1877.0h5.9v2.95h-5.9zM1717.7 1877.0h5.9v2.95h-5.9zM1762.0 1877.0h3.0v2.95h-3.0zM1773.8 1877.0h3.0v2.95h-3.0zM1835.7 1877.0h3.0v2.95h-3.0zM1853.4 1877.0h5.9v2.95h-5.9zM1664.6 1879.9h3.0v2.95h-3.0zM1679.4 1879.9h5.9v2.95h-5.9zM1732.5 1879.9h3.0v2.95h-3.0zM1782.6 1879.9h3.0v2.95h-3.0zM1797.4 1879.9h3.0v2.95h-3.0zM1812.1 1879.9h3.0v2.95h-3.0zM1847.5 1879.9h3.0v2.95h-3.0zM1682.3 1882.8h3.0v2.95h-3.0zM1688.2 1882.8h3.0v2.95h-3.0zM1732.5 1882.8h3.0v2.95h-3.0zM1782.6 1882.8h3.0v2.95h-3.0zM1812.1 1882.8h3.0v2.95h-3.0zM1841.6 1882.8h3.0v2.95h-3.0zM1638.1 1885.8h3.0v2.95h-3.0zM1661.7 1885.8h3.0v2.95h-3.0zM1717.7 1885.8h3.0v2.95h-3.0zM1794.4 1885.8h3.0v2.95h-3.0zM1853.4 1885.8h3.0v2.95h-3.0zM1723.6 1888.8h3.0v2.95h-3.0zM1776.7 1888.8h3.0v2.95h-3.0zM1818.0 1888.8h3.0v2.95h-3.0zM1649.9 1891.7h3.0v2.95h-3.0zM1658.7 1891.7h3.0v2.95h-3.0zM1676.4 1891.7h5.9v2.95h-5.9zM1694.1 1891.7h3.0v2.95h-3.0zM1700.0 1891.7h5.9v2.95h-5.9zM1711.8 1891.7h3.0v2.95h-3.0zM1747.2 1891.7h3.0v2.95h-3.0zM1753.1 1891.7h3.0v2.95h-3.0zM1791.5 1891.7h8.9v2.95h-8.9zM1809.2 1891.7h3.0v2.95h-3.0zM1818.0 1891.7h3.0v2.95h-3.0zM1826.9 1891.7h5.9v2.95h-5.9zM1838.7 1891.7h3.0v2.95h-3.0zM1641.0 1897.6h3.0v2.95h-3.0zM1646.9 1897.6h8.9v2.95h-8.9zM1658.7 1897.6h3.0v2.95h-3.0zM1667.6 1897.6h5.9v2.95h-5.9zM1679.4 1897.6h5.9v2.95h-5.9zM1691.2 1897.6h8.9v2.95h-8.9zM1703.0 1897.6h8.9v2.95h-8.9zM1714.8 1897.6h3.0v2.95h-3.0zM1720.7 1897.6h3.0v2.95h-3.0zM1791.5 1897.6h3.0v2.95h-3.0zM1797.4 1897.6h8.9v2.95h-8.9zM1815.1 1897.6h3.0v2.95h-3.0zM1821.0 1897.6h3.0v2.95h-3.0zM1826.9 1897.6h3.0v2.95h-3.0zM1832.8 1897.6h3.0v2.95h-3.0zM1838.7 1897.6h5.9v2.95h-5.9zM1847.5 1897.6h8.9v2.95h-8.9z"/><path fill="#242424" d="M1649.9 1853.3h3.0v2.95h-3.0zM1655.8 1853.3h3.0v2.95h-3.0zM1679.4 1853.3h3.0v2.95h-3.0zM1694.1 1853.3h3.0v2.95h-3.0zM1717.7 1853.3h3.0v2.95h-3.0zM1785.6 1853.3h5.9v2.95h-5.9zM1835.7 1853.3h3.0v2.95h-3.0zM1841.6 1853.3h5.9v2.95h-5.9zM1641.0 1859.2h14.8v2.95h-14.8zM1661.7 1859.2h3.0v2.95h-3.0zM1679.4 1859.2h3.0v2.95h-3.0zM1685.3 1859.2h3.0v2.95h-3.0zM1697.1 1859.2h3.0v2.95h-3.0zM1705.9 1859.2h11.8v2.95h-11.8zM1723.6 1859.2h3.0v2.95h-3.0zM1744.3 1859.2h5.9v2.95h-5.9zM1773.8 1859.2h11.8v2.95h-11.8zM1788.5 1859.2h3.0v2.95h-3.0zM1800.3 1859.2h8.9v2.95h-8.9zM1812.1 1859.2h3.0v2.95h-3.0zM1818.0 1859.2h5.9v2.95h-5.9zM1826.9 1859.2h3.0v2.95h-3.0zM1838.7 1859.2h5.9v2.95h-5.9zM1847.5 1859.2h5.9v2.95h-5.9zM1759.0 1862.2h3.0v2.95h-3.0zM1806.2 1862.2h3.0v2.95h-3.0zM1806.2 1865.2h3.0v2.95h-3.0zM1652.8 1868.1h3.0v2.95h-3.0zM1708.9 1868.1h3.0v2.95h-3.0zM1747.2 1868.1h3.0v2.95h-3.0zM1764.9 1868.1h3.0v2.95h-3.0zM1767.9 1871.0h3.0v2.95h-3.0zM1844.6 1871.0h3.0v2.95h-3.0zM1691.2 1874.0h3.0v2.95h-3.0zM1708.9 1874.0h3.0v2.95h-3.0zM1747.2 1874.0h5.9v2.95h-5.9zM1756.1 1874.0h3.0v2.95h-3.0zM1764.9 1874.0h3.0v2.95h-3.0zM1844.6 1874.0h3.0v2.95h-3.0zM1732.5 1877.0h3.0v2.95h-3.0zM1844.6 1877.0h3.0v2.95h-3.0zM1652.8 1879.9h3.0v2.95h-3.0zM1673.5 1879.9h3.0v2.95h-3.0zM1747.2 1879.9h3.0v2.95h-3.0zM1756.1 1879.9h3.0v2.95h-3.0zM1806.2 1879.9h3.0v2.95h-3.0zM1844.6 1879.9h3.0v2.95h-3.0zM1652.8 1882.8h3.0v2.95h-3.0zM1708.9 1882.8h3.0v2.95h-3.0zM1759.0 1882.8h3.0v2.95h-3.0zM1806.2 1882.8h3.0v2.95h-3.0zM1823.9 1882.8h3.0v2.95h-3.0zM1844.6 1882.8h3.0v2.95h-3.0zM1635.1 1885.8h3.0v2.95h-3.0zM1652.8 1885.8h3.0v2.95h-3.0zM1673.5 1885.8h3.0v2.95h-3.0zM1691.2 1885.8h3.0v2.95h-3.0zM1735.4 1885.8h3.0v2.95h-3.0zM1753.1 1885.8h3.0v2.95h-3.0zM1785.6 1885.8h3.0v2.95h-3.0zM1844.6 1885.8h3.0v2.95h-3.0zM1635.1 1888.8h3.0v2.95h-3.0zM1750.2 1888.8h3.0v2.95h-3.0zM1806.2 1888.8h3.0v2.95h-3.0zM1638.1 1891.7h11.8v2.95h-11.8zM1655.8 1891.7h3.0v2.95h-3.0zM1664.6 1891.7h3.0v2.95h-3.0zM1670.5 1891.7h5.9v2.95h-5.9zM1682.3 1891.7h11.8v2.95h-11.8zM1697.1 1891.7h3.0v2.95h-3.0zM1708.9 1891.7h3.0v2.95h-3.0zM1717.7 1891.7h3.0v2.95h-3.0zM1723.6 1891.7h3.0v2.95h-3.0zM1741.3 1891.7h5.9v2.95h-5.9zM1767.9 1891.7h14.8v2.95h-14.8zM1785.6 1891.7h5.9v2.95h-5.9zM1800.3 1891.7h3.0v2.95h-3.0zM1806.2 1891.7h3.0v2.95h-3.0zM1812.1 1891.7h3.0v2.95h-3.0zM1832.8 1891.7h5.9v2.95h-5.9zM1841.6 1891.7h3.0v2.95h-3.0zM1847.5 1891.7h11.8v2.95h-11.8zM1644.0 1897.6h3.0v2.95h-3.0zM1655.8 1897.6h3.0v2.95h-3.0zM1661.7 1897.6h5.9v2.95h-5.9zM1673.5 1897.6h3.0v2.95h-3.0zM1685.3 1897.6h5.9v2.95h-5.9zM1700.0 1897.6h3.0v2.95h-3.0zM1711.8 1897.6h3.0v2.95h-3.0zM1717.7 1897.6h3.0v2.95h-3.0zM1723.6 1897.6h3.0v2.95h-3.0zM1773.8 1897.6h17.7v2.95h-17.7zM1794.4 1897.6h3.0v2.95h-3.0zM1806.2 1897.6h8.9v2.95h-8.9zM1818.0 1897.6h3.0v2.95h-3.0zM1823.9 1897.6h3.0v2.95h-3.0zM1829.8 1897.6h3.0v2.95h-3.0zM1835.7 1897.6h3.0v2.95h-3.0zM1844.6 1897.6h3.0v2.95h-3.0z"/><path fill="#303030" d="M1638.1 1859.2h3.0v2.95h-3.0zM1658.7 1859.2h3.0v2.95h-3.0zM1670.5 1859.2h3.0v2.95h-3.0zM1688.2 1859.2h3.0v2.95h-3.0zM1694.1 1859.2h3.0v2.95h-3.0zM1700.0 1859.2h5.9v2.95h-5.9zM1767.9 1859.2h3.0v2.95h-3.0zM1815.1 1859.2h3.0v2.95h-3.0zM1844.6 1859.2h3.0v2.95h-3.0zM1853.4 1859.2h8.9v2.95h-8.9zM1635.1 1862.2h3.0v2.95h-3.0zM1673.5 1862.2h3.0v2.95h-3.0zM1738.4 1862.2h5.9v2.95h-5.9zM1747.2 1862.2h5.9v2.95h-5.9zM1767.9 1862.2h3.0v2.95h-3.0zM1823.9 1862.2h3.0v2.95h-3.0zM1652.8 1865.2h3.0v2.95h-3.0zM1726.6 1865.2h3.0v2.95h-3.0zM1759.0 1865.2h3.0v2.95h-3.0zM1767.9 1865.2h3.0v2.95h-3.0zM1785.6 1865.2h3.0v2.95h-3.0zM1823.9 1865.2h3.0v2.95h-3.0zM1844.6 1865.2h3.0v2.95h-3.0zM1726.6 1868.1h3.0v2.95h-3.0zM1735.4 1868.1h3.0v2.95h-3.0zM1750.2 1868.1h5.9v2.95h-5.9zM1785.6 1868.1h3.0v2.95h-3.0zM1823.9 1868.1h3.0v2.95h-3.0zM1785.6 1871.0h3.0v2.95h-3.0zM1806.2 1871.0h3.0v2.95h-3.0zM1823.9 1871.0h3.0v2.95h-3.0zM1762.0 1874.0h3.0v2.95h-3.0zM1785.6 1874.0h3.0v2.95h-3.0zM1691.2 1877.0h3.0v2.95h-3.0zM1726.6 1877.0h3.0v2.95h-3.0zM1756.1 1877.0h3.0v2.95h-3.0zM1806.2 1877.0h3.0v2.95h-3.0zM1767.9 1879.9h3.0v2.95h-3.0zM1785.6 1879.9h3.0v2.95h-3.0zM1823.9 1879.9h3.0v2.95h-3.0zM1708.9 1885.8h3.0v2.95h-3.0zM1806.2 1885.8h3.0v2.95h-3.0zM1738.4 1888.8h5.9v2.95h-5.9zM1747.2 1888.8h3.0v2.95h-3.0zM1753.1 1888.8h3.0v2.95h-3.0zM1823.9 1888.8h3.0v2.95h-3.0zM1635.1 1891.7h3.0v2.95h-3.0zM1661.7 1891.7h3.0v2.95h-3.0zM1667.6 1891.7h3.0v2.95h-3.0zM1705.9 1891.7h3.0v2.95h-3.0zM1714.8 1891.7h3.0v2.95h-3.0zM1720.7 1891.7h3.0v2.95h-3.0zM1782.6 1891.7h3.0v2.95h-3.0zM1803.3 1891.7h3.0v2.95h-3.0zM1815.1 1891.7h3.0v2.95h-3.0zM1821.0 1891.7h3.0v2.95h-3.0zM1844.6 1891.7h3.0v2.95h-3.0zM1859.3 1891.7h3.0v2.95h-3.0z"/><path fill="#3c3c3c" d="M1673.5 1859.2h3.0v2.95h-3.0zM1691.2 1859.2h3.0v2.95h-3.0zM1823.9 1859.2h3.0v2.95h-3.0zM1652.8 1862.2h3.0v2.95h-3.0zM1691.2 1862.2h3.0v2.95h-3.0zM1708.9 1862.2h3.0v2.95h-3.0zM1726.6 1862.2h3.0v2.95h-3.0zM1785.6 1862.2h3.0v2.95h-3.0zM1844.6 1862.2h3.0v2.95h-3.0zM1859.3 1862.2h3.0v2.95h-3.0zM1635.1 1865.2h3.0v2.95h-3.0zM1673.5 1865.2h3.0v2.95h-3.0zM1691.2 1865.2h3.0v2.95h-3.0zM1708.9 1865.2h3.0v2.95h-3.0zM1756.1 1865.2h3.0v2.95h-3.0zM1635.1 1868.1h3.0v2.95h-3.0zM1673.5 1868.1h3.0v2.95h-3.0zM1691.2 1868.1h3.0v2.95h-3.0zM1732.5 1868.1h3.0v2.95h-3.0zM1806.2 1868.1h3.0v2.95h-3.0zM1844.6 1868.1h3.0v2.95h-3.0zM1673.5 1871.0h3.0v2.95h-3.0zM1691.2 1871.0h3.0v2.95h-3.0zM1744.3 1871.0h3.0v2.95h-3.0zM1859.3 1871.0h3.0v2.95h-3.0zM1652.8 1874.0h3.0v2.95h-3.0zM1673.5 1874.0h3.0v2.95h-3.0zM1726.6 1874.0h3.0v2.95h-3.0zM1732.5 1874.0h3.0v2.95h-3.0zM1767.9 1874.0h3.0v2.95h-3.0zM1806.2 1874.0h3.0v2.95h-3.0zM1823.9 1874.0h3.0v2.95h-3.0zM1859.3 1874.0h3.0v2.95h-3.0zM1652.8 1877.0h3.0v2.95h-3.0zM1673.5 1877.0h3.0v2.95h-3.0zM1708.9 1877.0h3.0v2.95h-3.0zM1747.2 1877.0h3.0v2.95h-3.0zM1785.6 1877.0h3.0v2.95h-3.0zM1691.2 1879.9h3.0v2.95h-3.0zM1708.9 1879.9h3.0v2.95h-3.0zM1759.0 1879.9h5.9v2.95h-5.9zM1859.3 1879.9h3.0v2.95h-3.0zM1673.5 1882.8h3.0v2.95h-3.0zM1738.4 1882.8h3.0v2.95h-3.0zM1747.2 1882.8h3.0v2.95h-3.0zM1785.6 1882.8h3.0v2.95h-3.0zM1738.4 1885.8h3.0v2.95h-3.0zM1823.9 1885.8h3.0v2.95h-3.0zM1859.3 1885.8h3.0v2.95h-3.0zM1673.5 1888.8h3.0v2.95h-3.0zM1691.2 1888.8h3.0v2.95h-3.0zM1708.9 1888.8h3.0v2.95h-3.0zM1726.6 1888.8h3.0v2.95h-3.0zM1785.6 1888.8h3.0v2.95h-3.0zM1844.6 1888.8h3.0v2.95h-3.0zM1859.3 1888.8h3.0v2.95h-3.0zM1823.9 1891.7h3.0v2.95h-3.0z"/><path fill="#484848" d="M1785.6 1859.2h3.0v2.95h-3.0zM1744.3 1862.2h3.0v2.95h-3.0zM1738.4 1865.2h3.0v2.95h-3.0zM1859.3 1865.2h3.0v2.95h-3.0zM1767.9 1868.1h3.0v2.95h-3.0zM1859.3 1868.1h3.0v2.95h-3.0zM1635.1 1871.0h3.0v2.95h-3.0zM1652.8 1871.0h3.0v2.95h-3.0zM1708.9 1871.0h3.0v2.95h-3.0zM1750.2 1871.0h3.0v2.95h-3.0zM1635.1 1874.0h3.0v2.95h-3.0zM1823.9 1877.0h3.0v2.95h-3.0zM1635.1 1879.9h3.0v2.95h-3.0zM1753.1 1879.9h3.0v2.95h-3.0zM1635.1 1882.8h3.0v2.95h-3.0zM1691.2 1882.8h3.0v2.95h-3.0zM1726.6 1882.8h3.0v2.95h-3.0zM1750.2 1885.8h3.0v2.95h-3.0zM1756.1 1885.8h3.0v2.95h-3.0zM1767.9 1885.8h3.0v2.95h-3.0zM1652.8 1888.8h3.0v2.95h-3.0zM1652.8 1891.7h3.0v2.95h-3.0z"/><path fill="#545454" d="M1635.1 1859.2h3.0v2.95h-3.0zM1726.6 1859.2h3.0v2.95h-3.0zM1753.1 1862.2h3.0v2.95h-3.0zM1750.2 1865.2h3.0v2.95h-3.0zM1726.6 1871.0h3.0v2.95h-3.0zM1732.5 1871.0h3.0v2.95h-3.0zM1753.1 1871.0h3.0v2.95h-3.0zM1738.4 1874.0h3.0v2.95h-3.0zM1635.1 1877.0h3.0v2.95h-3.0zM1744.3 1877.0h3.0v2.95h-3.0zM1767.9 1877.0h3.0v2.95h-3.0zM1859.3 1877.0h3.0v2.95h-3.0zM1726.6 1879.9h3.0v2.95h-3.0zM1744.3 1879.9h3.0v2.95h-3.0zM1750.2 1879.9h3.0v2.95h-3.0zM1750.2 1882.8h3.0v2.95h-3.0zM1767.9 1882.8h3.0v2.95h-3.0zM1859.3 1882.8h3.0v2.95h-3.0zM1726.6 1885.8h3.0v2.95h-3.0zM1767.9 1888.8h3.0v2.95h-3.0zM1726.6 1891.7h3.0v2.95h-3.0z"/><path fill="#606060" d="M1735.4 1865.2h3.0v2.95h-3.0zM1747.2 1865.2h3.0v2.95h-3.0zM1753.1 1865.2h3.0v2.95h-3.0zM1759.0 1874.0h3.0v2.95h-3.0zM1753.1 1877.0h3.0v2.95h-3.0zM1756.1 1882.8h3.0v2.95h-3.0z"/><path fill="#6c6c6c" d="M1744.3 1865.2h3.0v2.95h-3.0zM1762.0 1868.1h3.0v2.95h-3.0zM1747.2 1871.0h3.0v2.95h-3.0zM1762.0 1871.0h3.0v2.95h-3.0zM1744.3 1874.0h3.0v2.95h-3.0zM1753.1 1874.0h3.0v2.95h-3.0zM1750.2 1877.0h3.0v2.95h-3.0zM1759.0 1877.0h3.0v2.95h-3.0zM1735.4 1879.9h3.0v2.95h-3.0zM1753.1 1882.8h3.0v2.95h-3.0zM1744.3 1888.8h3.0v2.95h-3.0z"/><path fill="#787878" d="M1735.4 1871.0h3.0v2.95h-3.0zM1735.4 1882.8h3.0v2.95h-3.0z"/><path fill="#848484" d="M1747.2 1885.8h3.0v2.95h-3.0z"/><path fill="#909090" d="M1741.3 1865.2h3.0v2.95h-3.0zM1741.3 1877.0h3.0v2.95h-3.0zM1741.3 1885.8h3.0v2.95h-3.0z"/><path fill="#9c9c9c" d="M1744.3 1868.1h3.0v2.95h-3.0zM1756.1 1871.0h3.0v2.95h-3.0zM1741.3 1879.9h3.0v2.95h-3.0zM1741.3 1882.8h3.0v2.95h-3.0z"/><path fill="#a8a8a8" d="M1741.3 1871.0h3.0v2.95h-3.0zM1759.0 1871.0h3.0v2.95h-3.0zM1741.3 1874.0h3.0v2.95h-3.0zM1735.4 1877.0h3.0v2.95h-3.0z"/><path fill="#c0c0c0" d="M1759.0 1868.1h3.0v2.95h-3.0zM1744.3 1882.8h3.0v2.95h-3.0z"/><path fill="#cccccc" d="M1756.1 1868.1h3.0v2.95h-3.0zM1735.4 1874.0h3.0v2.95h-3.0z"/><path fill="#d8d8d8" d="M1744.3 1885.8h3.0v2.95h-3.0z"/><path fill="#fcfcfc" d="M1738.4 1868.1h5.9v2.95h-5.9zM1738.4 1871.0h3.0v2.95h-3.0zM1738.4 1877.0h3.0v2.95h-3.0zM1738.4 1879.9h3.0v2.95h-3.0z"/></g>
<rect x="2060.4" y="1680.9" width="379.6" height="378.9" fill="#000"/>
<g filter="url(#b2)"><path fill="#181818" d="M2201.4 1853.3h3.0v2.95h-3.0zM2307.6 1853.3h3.0v2.95h-3.0zM2328.2 1853.3h3.0v2.95h-3.0zM2348.9 1853.3h3.0v2.95h-3.0zM2354.8 1853.3h3.0v2.95h-3.0zM2133.6 1859.2h3.0v2.95h-3.0zM2139.4 1859.2h3.0v2.95h-3.0zM2145.3 1859.2h3.0v2.95h-3.0zM2151.2 1859.2h3.0v2.95h-3.0zM2171.9 1859.2h3.0v2.95h-3.0zM2195.5 1859.2h3.0v2.95h-3.0zM2210.2 1859.2h3.0v2.95h-3.0zM2216.2 1859.2h3.0v2.95h-3.0zM2242.7 1859.2h3.0v2.95h-3.0zM2284.0 1859.2h3.0v2.95h-3.0zM2292.8 1859.2h3.0v2.95h-3.0zM2301.7 1859.2h5.9v2.95h-5.9zM2325.3 1859.2h3.0v2.95h-3.0zM2340.1 1859.2h3.0v2.95h-3.0zM2348.9 1859.2h5.9v2.95h-5.9zM2145.3 1862.2h3.0v2.95h-3.0zM2151.2 1862.2h3.0v2.95h-3.0zM2157.2 1862.2h3.0v2.95h-3.0zM2166.0 1862.2h3.0v2.95h-3.0zM2180.8 1862.2h3.0v2.95h-3.0zM2186.7 1862.2h3.0v2.95h-3.0zM2192.6 1862.2h8.9v2.95h-8.9zM2210.2 1862.2h5.9v2.95h-5.9zM2219.1 1862.2h3.0v2.95h-3.0zM2245.7 1862.2h3.0v2.95h-3.0zM2251.6 1862.2h3.0v2.95h-3.0zM2275.2 1862.2h3.0v2.95h-3.0zM2281.1 1862.2h5.9v2.95h-5.9zM2292.8 1862.2h5.9v2.95h-5.9zM2322.3 1862.2h5.9v2.95h-5.9zM2343.0 1862.2h3.0v2.95h-3.0zM2348.9 1862.2h3.0v2.95h-3.0zM2354.8 1862.2h3.0v2.95h-3.0zM2154.2 1865.2h8.9v2.95h-8.9zM2168.9 1865.2h3.0v2.95h-3.0zM2183.7 1865.2h5.9v2.95h-5.9zM2192.6 1865.2h5.9v2.95h-5.9zM2213.2 1865.2h3.0v2.95h-3.0zM2230.9 1865.2h3.0v2.95h-3.0zM2269.2 1865.2h3.0v2.95h-3.0zM2286.9 1865.2h3.0v2.95h-3.0zM2292.8 1865.2h3.0v2.95h-3.0zM2298.8 1865.2h3.0v2.95h-3.0zM2304.7 1865.2h3.0v2.95h-3.0zM2316.4 1865.2h3.0v2.95h-3.0zM2322.3 1865.2h3.0v2.95h-3.0zM2328.2 1865.2h3.0v2.95h-3.0zM2337.1 1865.2h8.9v2.95h-8.9zM2351.8 1865.2h3.0v2.95h-3.0zM2136.5 1868.1h3.0v2.95h-3.0zM2142.4 1868.1h5.9v2.95h-5.9zM2151.2 1868.1h3.0v2.95h-3.0zM2160.1 1868.1h3.0v2.95h-3.0zM2166.0 1868.1h8.9v2.95h-8.9zM2177.8 1868.1h3.0v2.95h-3.0zM2192.6 1868.1h5.9v2.95h-5.9zM2204.3 1868.1h3.0v2.95h-3.0zM2213.2 1868.1h3.0v2.95h-3.0zM2219.1 1868.1h5.9v2.95h-5.9zM2248.6 1868.1h5.9v2.95h-5.9zM2269.2 1868.1h8.9v2.95h-8.9zM2292.8 1868.1h3.0v2.95h-3.0zM2298.8 1868.1h8.9v2.95h-8.9zM2316.4 1868.1h3.0v2.95h-3.0zM2337.1 1868.1h3.0v2.95h-3.0zM2354.8 1868.1h3.0v2.95h-3.0zM2139.4 1871.0h5.9v2.95h-5.9zM2151.2 1871.0h3.0v2.95h-3.0zM2160.1 1871.0h3.0v2.95h-3.0zM2166.0 1871.0h3.0v2.95h-3.0zM2183.7 1871.0h3.0v2.95h-3.0zM2207.3 1871.0h3.0v2.95h-3.0zM2213.2 1871.0h5.9v2.95h-5.9zM2260.4 1871.0h3.0v2.95h-3.0zM2269.2 1871.0h8.9v2.95h-8.9zM2284.0 1871.0h3.0v2.95h-3.0zM2295.8 1871.0h3.0v2.95h-3.0zM2301.7 1871.0h3.0v2.95h-3.0zM2307.6 1871.0h5.9v2.95h-5.9zM2316.4 1871.0h5.9v2.95h-5.9zM2348.9 1871.0h5.9v2.95h-5.9zM2136.5 1874.0h3.0v2.95h-3.0zM2145.3 1874.0h5.9v2.95h-5.9zM2160.1 1874.0h3.0v2.95h-3.0zM2166.0 1874.0h3.0v2.95h-3.0zM2171.9 1874.0h5.9v2.95h-5.9zM2183.7 1874.0h3.0v2.95h-3.0zM2201.4 1874.0h8.9v2.95h-8.9zM2213.2 1874.0h5.9v2.95h-5.9zM2227.9 1874.0h3.0v2.95h-3.0zM2251.6 1874.0h3.0v2.95h-3.0zM2263.3 1874.0h3.0v2.95h-3.0zM2269.2 1874.0h3.0v2.95h-3.0zM2281.1 1874.0h8.9v2.95h-8.9zM2298.8 1874.0h3.0v2.95h-3.0zM2307.6 1874.0h3.0v2.95h-3.0zM2319.4 1874.0h3.0v2.95h-3.0zM2325.3 1874.0h3.0v2.95h-3.0zM2337.1 1874.0h5.9v2.95h-5.9zM2345.9 1874.0h8.9v2.95h-8.9zM2148.3 1877.0h8.9v2.95h-8.9zM2168.9 1877.0h5.9v2.95h-5.9zM2180.8 1877.0h5.9v2.95h-5.9zM2195.5 1877.0h3.0v2.95h-3.0zM2210.2 1877.0h3.0v2.95h-3.0zM2260.4 1877.0h11.8v2.95h-11.8zM2278.1 1877.0h5.9v2.95h-5.9zM2289.9 1877.0h3.0v2.95h-3.0zM2310.6 1877.0h3.0v2.95h-3.0zM2319.4 1877.0h3.0v2.95h-3.0zM2331.2 1877.0h3.0v2.95h-3.0zM2337.1 1877.0h3.0v2.95h-3.0zM2345.9 1877.0h3.0v2.95h-3.0zM2351.8 1877.0h5.9v2.95h-5.9zM2136.5 1879.9h5.9v2.95h-5.9zM2151.2 1879.9h3.0v2.95h-3.0zM2160.1 1879.9h3.0v2.95h-3.0zM2171.9 1879.9h3.0v2.95h-3.0zM2177.8 1879.9h3.0v2.95h-3.0zM2183.7 1879.9h3.0v2.95h-3.0zM2192.6 1879.9h3.0v2.95h-3.0zM2222.1 1879.9h3.0v2.95h-3.0zM2257.4 1879.9h5.9v2.95h-5.9zM2272.2 1879.9h3.0v2.95h-3.0zM2278.1 1879.9h3.0v2.95h-3.0zM2284.0 1879.9h3.0v2.95h-3.0zM2295.8 1879.9h5.9v2.95h-5.9zM2319.4 1879.9h3.0v2.95h-3.0zM2325.3 1879.9h3.0v2.95h-3.0zM2345.9 1879.9h3.0v2.95h-3.0zM2148.3 1882.8h3.0v2.95h-3.0zM2157.2 1882.8h3.0v2.95h-3.0zM2174.8 1882.8h3.0v2.95h-3.0zM2183.7 1882.8h11.8v2.95h-11.8zM2198.4 1882.8h3.0v2.95h-3.0zM2204.3 1882.8h5.9v2.95h-5.9zM2230.9 1882.8h3.0v2.95h-3.0zM2278.1 1882.8h3.0v2.95h-3.0zM2284.0 1882.8h5.9v2.95h-5.9zM2292.8 1882.8h3.0v2.95h-3.0zM2307.6 1882.8h8.9v2.95h-8.9zM2325.3 1882.8h14.8v2.95h-14.8zM2343.0 1882.8h3.0v2.95h-3.0zM2136.5 1885.8h3.0v2.95h-3.0zM2142.4 1885.8h5.9v2.95h-5.9zM2151.2 1885.8h3.0v2.95h-3.0zM2163.1 1885.8h5.9v2.95h-5.9zM2171.9 1885.8h3.0v2.95h-3.0zM2177.8 1885.8h8.9v2.95h-8.9zM2192.6 1885.8h3.0v2.95h-3.0zM2201.4 1885.8h5.9v2.95h-5.9zM2210.2 1885.8h5.9v2.95h-5.9zM2222.1 1885.8h3.0v2.95h-3.0zM2254.5 1885.8h8.9v2.95h-8.9zM2269.2 1885.8h8.9v2.95h-8.9zM2286.9 1885.8h3.0v2.95h-3.0zM2292.8 1885.8h3.0v2.95h-3.0zM2298.8 1885.8h5.9v2.95h-5.9zM2319.4 1885.8h3.0v2.95h-3.0zM2325.3 1885.8h3.0v2.95h-3.0zM2334.2 1885.8h5.9v2.95h-5.9zM2343.0 1885.8h3.0v2.95h-3.0zM2348.9 1885.8h8.9v2.95h-8.9zM2145.3 1888.8h3.0v2.95h-3.0zM2154.2 1888.8h3.0v2.95h-3.0zM2163.1 1888.8h8.9v2.95h-8.9zM2177.8 1888.8h3.0v2.95h-3.0zM2183.7 1888.8h8.9v2.95h-8.9zM2195.5 1888.8h3.0v2.95h-3.0zM2210.2 1888.8h3.0v2.95h-3.0zM2216.2 1888.8h3.0v2.95h-3.0zM2233.8 1888.8h5.9v2.95h-5.9zM2251.6 1888.8h5.9v2.95h-5.9zM2269.2 1888.8h3.0v2.95h-3.0zM2275.2 1888.8h3.0v2.95h-3.0zM2281.1 1888.8h3.0v2.95h-3.0zM2295.8 1888.8h3.0v2.95h-3.0zM2307.6 1888.8h8.9v2.95h-8.9zM2325.3 1888.8h3.0v2.95h-3.0zM2340.1 1888.8h3.0v2.95h-3.0zM2345.9 1888.8h3.0v2.95h-3.0zM2351.8 1888.8h3.0v2.95h-3.0zM2136.5 1891.7h5.9v2.95h-5.9zM2157.2 1891.7h3.0v2.95h-3.0zM2186.7 1891.7h5.9v2.95h-5.9zM2207.3 1891.7h3.0v2.95h-3.0zM2242.7 1891.7h3.0v2.95h-3.0zM2248.6 1891.7h3.0v2.95h-3.0zM2278.1 1891.7h3.0v2.95h-3.0zM2298.8 1891.7h3.0v2.95h-3.0zM2340.1 1891.7h3.0v2.95h-3.0z"/><path fill="#242424" d="M2142.4 1853.3h3.0v2.95h-3.0zM2148.3 1853.3h5.9v2.95h-5.9zM2207.3 1853.3h3.0v2.95h-3.0zM2289.9 1853.3h3.0v2.95h-3.0zM2304.7 1853.3h3.0v2.95h-3.0zM2310.6 1853.3h3.0v2.95h-3.0zM2322.3 1853.3h3.0v2.95h-3.0zM2351.8 1853.3h3.0v2.95h-3.0zM2136.5 1859.2h3.0v2.95h-3.0zM2148.3 1859.2h3.0v2.95h-3.0zM2154.2 1859.2h3.0v2.95h-3.0zM2160.1 1859.2h3.0v2.95h-3.0zM2180.8 1859.2h14.8v2.95h-14.8zM2201.4 1859.2h3.0v2.95h-3.0zM2225.0 1859.2h3.0v2.95h-3.0zM2295.8 1859.2h3.0v2.95h-3.0zM2334.2 1859.2h3.0v2.95h-3.0zM2236.8 1862.2h3.0v2.95h-3.0zM2242.7 1862.2h3.0v2.95h-3.0zM2289.9 1862.2h3.0v2.95h-3.0zM2313.5 1862.2h3.0v2.95h-3.0zM2357.8 1862.2h3.0v2.95h-3.0zM2204.3 1865.2h3.0v2.95h-3.0zM2248.6 1865.2h3.0v2.95h-3.0zM2254.5 1865.2h5.9v2.95h-5.9zM2180.8 1868.1h3.0v2.95h-3.0zM2230.9 1868.1h3.0v2.95h-3.0zM2289.9 1868.1h3.0v2.95h-3.0zM2133.6 1871.0h3.0v2.95h-3.0zM2254.5 1871.0h3.0v2.95h-3.0zM2289.9 1871.0h3.0v2.95h-3.0zM2157.2 1874.0h3.0v2.95h-3.0zM2289.9 1874.0h3.0v2.95h-3.0zM2157.2 1877.0h3.0v2.95h-3.0zM2248.6 1877.0h3.0v2.95h-3.0zM2254.5 1877.0h3.0v2.95h-3.0zM2313.5 1877.0h3.0v2.95h-3.0zM2157.2 1879.9h3.0v2.95h-3.0zM2204.3 1879.9h3.0v2.95h-3.0zM2242.7 1879.9h3.0v2.95h-3.0zM2251.6 1879.9h3.0v2.95h-3.0zM2233.8 1882.8h3.0v2.95h-3.0zM2245.7 1882.8h5.9v2.95h-5.9zM2260.4 1882.8h3.0v2.95h-3.0zM2157.2 1885.8h3.0v2.95h-3.0zM2233.8 1885.8h3.0v2.95h-3.0zM2313.5 1885.8h3.0v2.95h-3.0zM2133.6 1888.8h3.0v2.95h-3.0zM2157.2 1888.8h3.0v2.95h-3.0zM2248.6 1888.8h3.0v2.95h-3.0zM2337.1 1888.8h3.0v2.95h-3.0zM2142.4 1891.7h3.0v2.95h-3.0zM2166.0 1891.7h3.0v2.95h-3.0zM2174.8 1891.7h3.0v2.95h-3.0zM2195.5 1891.7h3.0v2.95h-3.0zM2210.2 1891.7h3.0v2.95h-3.0zM2216.2 1891.7h3.0v2.95h-3.0zM2269.2 1891.7h3.0v2.95h-3.0zM2275.2 1891.7h3.0v2.95h-3.0zM2301.7 1891.7h5.9v2.95h-5.9zM2310.6 1891.7h3.0v2.95h-3.0zM2316.4 1891.7h3.0v2.95h-3.0zM2328.2 1891.7h5.9v2.95h-5.9zM2345.9 1891.7h3.0v2.95h-3.0zM2354.8 1891.7h5.9v2.95h-5.9z"/><path fill="#303030" d="M2139.4 1853.3h3.0v2.95h-3.0zM2154.2 1853.3h3.0v2.95h-3.0zM2166.0 1853.3h5.9v2.95h-5.9zM2177.8 1853.3h3.0v2.95h-3.0zM2183.7 1853.3h3.0v2.95h-3.0zM2198.4 1853.3h3.0v2.95h-3.0zM2284.0 1853.3h3.0v2.95h-3.0zM2292.8 1853.3h3.0v2.95h-3.0zM2337.1 1853.3h3.0v2.95h-3.0zM2345.9 1853.3h3.0v2.95h-3.0zM2166.0 1859.2h5.9v2.95h-5.9zM2269.2 1859.2h5.9v2.95h-5.9zM2286.9 1859.2h5.9v2.95h-5.9zM2298.8 1859.2h3.0v2.95h-3.0zM2307.6 1859.2h8.9v2.95h-8.9zM2331.2 1859.2h3.0v2.95h-3.0zM2337.1 1859.2h3.0v2.95h-3.0zM2354.8 1859.2h3.0v2.95h-3.0zM2204.3 1862.2h3.0v2.95h-3.0zM2248.6 1862.2h3.0v2.95h-3.0zM2180.8 1865.2h3.0v2.95h-3.0zM2251.6 1865.2h3.0v2.95h-3.0zM2289.9 1865.2h3.0v2.95h-3.0zM2313.5 1865.2h3.0v2.95h-3.0zM2357.8 1865.2h3.0v2.95h-3.0zM2157.2 1868.1h3.0v2.95h-3.0zM2254.5 1868.1h3.0v2.95h-3.0zM2357.8 1868.1h3.0v2.95h-3.0zM2180.8 1871.0h3.0v2.95h-3.0zM2204.3 1871.0h3.0v2.95h-3.0zM2230.9 1871.0h3.0v2.95h-3.0zM2248.6 1871.0h3.0v2.95h-3.0zM2313.5 1871.0h3.0v2.95h-3.0zM2245.7 1874.0h3.0v2.95h-3.0zM2254.5 1874.0h3.0v2.95h-3.0zM2204.3 1877.0h3.0v2.95h-3.0zM2242.7 1877.0h3.0v2.95h-3.0zM2257.4 1877.0h3.0v2.95h-3.0zM2133.6 1879.9h3.0v2.95h-3.0zM2180.8 1879.9h3.0v2.95h-3.0zM2266.3 1879.9h3.0v2.95h-3.0zM2337.1 1879.9h3.0v2.95h-3.0zM2289.9 1882.8h3.0v2.95h-3.0zM2357.8 1882.8h3.0v2.95h-3.0zM2133.6 1885.8h3.0v2.95h-3.0zM2245.7 1885.8h3.0v2.95h-3.0zM2251.6 1885.8h3.0v2.95h-3.0zM2266.3 1885.8h3.0v2.95h-3.0zM2180.8 1888.8h3.0v2.95h-3.0zM2204.3 1888.8h3.0v2.95h-3.0zM2245.7 1888.8h3.0v2.95h-3.0zM2289.9 1888.8h3.0v2.95h-3.0zM2151.2 1891.7h3.0v2.95h-3.0zM2163.1 1891.7h3.0v2.95h-3.0zM2171.9 1891.7h3.0v2.95h-3.0zM2183.7 1891.7h3.0v2.95h-3.0zM2192.6 1891.7h3.0v2.95h-3.0zM2198.4 1891.7h5.9v2.95h-5.9zM2213.2 1891.7h3.0v2.95h-3.0zM2219.1 1891.7h3.0v2.95h-3.0zM2281.1 1891.7h3.0v2.95h-3.0zM2286.9 1891.7h3.0v2.95h-3.0zM2292.8 1891.7h5.9v2.95h-5.9zM2307.6 1891.7h3.0v2.95h-3.0zM2319.4 1891.7h3.0v2.95h-3.0zM2325.3 1891.7h3.0v2.95h-3.0zM2343.0 1891.7h3.0v2.95h-3.0zM2348.9 1891.7h3.0v2.95h-3.0z"/><path fill="#3c3c3c" d="M2163.1 1853.3h3.0v2.95h-3.0zM2204.3 1853.3h3.0v2.95h-3.0zM2210.2 1853.3h3.0v2.95h-3.0zM2216.2 1853.3h3.0v2.95h-3.0zM2275.2 1853.3h3.0v2.95h-3.0zM2313.5 1853.3h3.0v2.95h-3.0zM2343.0 1853.3h3.0v2.95h-3.0zM2142.4 1859.2h3.0v2.95h-3.0zM2163.1 1859.2h3.0v2.95h-3.0zM2174.8 1859.2h5.9v2.95h-5.9zM2198.4 1859.2h3.0v2.95h-3.0zM2204.3 1859.2h3.0v2.95h-3.0zM2275.2 1859.2h8.9v2.95h-8.9zM2316.4 1859.2h5.9v2.95h-5.9zM2328.2 1859.2h3.0v2.95h-3.0zM2343.0 1859.2h3.0v2.95h-3.0zM2357.8 1859.2h3.0v2.95h-3.0zM2266.3 1862.2h3.0v2.95h-3.0zM2337.1 1862.2h3.0v2.95h-3.0zM2233.8 1865.2h3.0v2.95h-3.0zM2239.8 1865.2h3.0v2.95h-3.0zM2245.7 1865.2h3.0v2.95h-3.0zM2266.3 1865.2h3.0v2.95h-3.0zM2133.6 1868.1h3.0v2.95h-3.0zM2257.4 1868.1h3.0v2.95h-3.0zM2157.2 1871.0h3.0v2.95h-3.0zM2257.4 1871.0h3.0v2.95h-3.0zM2266.3 1871.0h3.0v2.95h-3.0zM2337.1 1871.0h3.0v2.95h-3.0zM2225.0 1874.0h3.0v2.95h-3.0zM2230.9 1874.0h3.0v2.95h-3.0zM2260.4 1874.0h3.0v2.95h-3.0zM2313.5 1874.0h3.0v2.95h-3.0zM2133.6 1877.0h3.0v2.95h-3.0zM2245.7 1877.0h3.0v2.95h-3.0zM2248.6 1879.9h3.0v2.95h-3.0zM2289.9 1879.9h3.0v2.95h-3.0zM2313.5 1879.9h3.0v2.95h-3.0zM2357.8 1879.9h3.0v2.95h-3.0zM2180.8 1882.8h3.0v2.95h-3.0zM2225.0 1882.8h3.0v2.95h-3.0zM2242.7 1882.8h3.0v2.95h-3.0zM2251.6 1882.8h3.0v2.95h-3.0zM2257.4 1882.8h3.0v2.95h-3.0zM2248.6 1885.8h3.0v2.95h-3.0zM2266.3 1888.8h3.0v2.95h-3.0zM2357.8 1888.8h3.0v2.95h-3.0zM2148.3 1891.7h3.0v2.95h-3.0zM2160.1 1891.7h3.0v2.95h-3.0zM2168.9 1891.7h3.0v2.95h-3.0zM2177.8 1891.7h5.9v2.95h-5.9zM2222.1 1891.7h3.0v2.95h-3.0zM2272.2 1891.7h3.0v2.95h-3.0zM2284.0 1891.7h3.0v2.95h-3.0zM2289.9 1891.7h3.0v2.95h-3.0zM2322.3 1891.7h3.0v2.95h-3.0z"/><path fill="#484848" d="M2145.3 1853.3h3.0v2.95h-3.0zM2157.2 1853.3h3.0v2.95h-3.0zM2186.7 1853.3h3.0v2.95h-3.0zM2192.6 1853.3h5.9v2.95h-5.9zM2222.1 1853.3h3.0v2.95h-3.0zM2286.9 1853.3h3.0v2.95h-3.0zM2295.8 1853.3h3.0v2.95h-3.0zM2157.2 1859.2h3.0v2.95h-3.0zM2207.3 1859.2h3.0v2.95h-3.0zM2213.2 1859.2h3.0v2.95h-3.0zM2219.1 1859.2h5.9v2.95h-5.9zM2322.3 1859.2h3.0v2.95h-3.0zM2345.9 1859.2h3.0v2.95h-3.0zM2225.0 1862.2h3.0v2.95h-3.0zM2239.8 1862.2h3.0v2.95h-3.0zM2242.7 1871.0h3.0v2.95h-3.0zM2233.8 1874.0h3.0v2.95h-3.0zM2357.8 1874.0h3.0v2.95h-3.0zM2230.9 1877.0h3.0v2.95h-3.0zM2251.6 1877.0h3.0v2.95h-3.0zM2133.6 1882.8h3.0v2.95h-3.0zM2357.8 1885.8h3.0v2.95h-3.0zM2225.0 1888.8h3.0v2.95h-3.0zM2239.8 1888.8h3.0v2.95h-3.0zM2145.3 1891.7h3.0v2.95h-3.0zM2154.2 1891.7h3.0v2.95h-3.0zM2204.3 1891.7h3.0v2.95h-3.0zM2266.3 1891.7h3.0v2.95h-3.0zM2313.5 1891.7h3.0v2.95h-3.0zM2334.2 1891.7h5.9v2.95h-5.9zM2351.8 1891.7h3.0v2.95h-3.0z"/><path fill="#545454" d="M2160.1 1853.3h3.0v2.95h-3.0zM2171.9 1853.3h3.0v2.95h-3.0zM2281.1 1853.3h3.0v2.95h-3.0zM2316.4 1853.3h5.9v2.95h-5.9zM2325.3 1853.3h3.0v2.95h-3.0zM2331.2 1853.3h5.9v2.95h-5.9zM2266.3 1859.2h3.0v2.95h-3.0zM2133.6 1862.2h3.0v2.95h-3.0zM2133.6 1865.2h3.0v2.95h-3.0zM2225.0 1865.2h3.0v2.95h-3.0zM2225.0 1868.1h3.0v2.95h-3.0zM2245.7 1868.1h3.0v2.95h-3.0zM2266.3 1868.1h3.0v2.95h-3.0zM2225.0 1871.0h3.0v2.95h-3.0zM2245.7 1871.0h3.0v2.95h-3.0zM2251.6 1871.0h3.0v2.95h-3.0zM2357.8 1871.0h3.0v2.95h-3.0zM2242.7 1874.0h3.0v2.95h-3.0zM2248.6 1874.0h3.0v2.95h-3.0zM2257.4 1874.0h3.0v2.95h-3.0zM2266.3 1874.0h3.0v2.95h-3.0zM2225.0 1877.0h3.0v2.95h-3.0zM2357.8 1877.0h3.0v2.95h-3.0zM2254.5 1879.9h3.0v2.95h-3.0zM2254.5 1882.8h3.0v2.95h-3.0zM2225.0 1885.8h3.0v2.95h-3.0z"/><path fill="#606060" d="M2174.8 1853.3h3.0v2.95h-3.0zM2180.8 1853.3h3.0v2.95h-3.0zM2189.6 1853.3h3.0v2.95h-3.0zM2213.2 1853.3h3.0v2.95h-3.0zM2219.1 1853.3h3.0v2.95h-3.0zM2272.2 1853.3h3.0v2.95h-3.0zM2278.1 1853.3h3.0v2.95h-3.0zM2298.8 1853.3h5.9v2.95h-5.9zM2340.1 1853.3h3.0v2.95h-3.0zM2233.8 1871.0h3.0v2.95h-3.0zM2133.6 1874.0h3.0v2.95h-3.0zM2225.0 1879.9h3.0v2.95h-3.0zM2230.9 1879.9h3.0v2.95h-3.0zM2245.7 1879.9h3.0v2.95h-3.0zM2266.3 1882.8h3.0v2.95h-3.0zM2242.7 1888.8h3.0v2.95h-3.0zM2133.6 1891.7h3.0v2.95h-3.0zM2225.0 1891.7h3.0v2.95h-3.0z"/><path fill="#6c6c6c" d="M2239.8 1871.0h3.0v2.95h-3.0zM2236.8 1882.8h3.0v2.95h-3.0z"/><path fill="#787878" d="M2242.7 1865.2h3.0v2.95h-3.0z"/><path fill="#848484" d="M2242.7 1868.1h3.0v2.95h-3.0zM2236.8 1885.8h3.0v2.95h-3.0z"/><path fill="#909090" d="M2236.8 1865.2h3.0v2.95h-3.0zM2236.8 1874.0h3.0v2.95h-3.0zM2239.8 1879.9h3.0v2.95h-3.0z"/><path fill="#9c9c9c" d="M2236.8 1868.1h3.0v2.95h-3.0zM2233.8 1877.0h3.0v2.95h-3.0zM2239.8 1885.8h3.0v2.95h-3.0z"/><path fill="#a8a8a8" d="M2239.8 1882.8h3.0v2.95h-3.0z"/><path fill="#b4b4b4" d="M2233.8 1868.1h3.0v2.95h-3.0zM2239.8 1877.0h3.0v2.95h-3.0zM2236.8 1879.9h3.0v2.95h-3.0z"/><path fill="#c0c0c0" d="M2239.8 1874.0h3.0v2.95h-3.0z"/><path fill="#cccccc" d="M2242.7 1885.8h3.0v2.95h-3.0z"/><path fill="#d8d8d8" d="M2233.8 1879.9h3.0v2.95h-3.0z"/><path fill="#fcfcfc" d="M2239.8 1868.1h3.0v2.95h-3.0zM2236.8 1871.0h3.0v2.95h-3.0zM2236.8 1877.0h3.0v2.95h-3.0z"/></g>
<g filter="url(#th)">
<polyline fill="none" stroke="#ed1c24" stroke-width="4.5" stroke-linejoin="round" points="312.5,309.0 774.6,506.2 1044.9,531.5 1236.6,579.6 1385.4,619.0 1506.9,666.2 1609.7,682.8 1698.7,703.4 1777.2,705.4 1847.4,743.0 1911.0,751.6 1969.0,764.2 2022.3,792.1 2071.7,817.7 2117.7,835.5 2160.7,866.8"/>
<polygon fill="none" stroke="#ed1c24" stroke-width="4.6" stroke-linejoin="miter" points="312.5,291.5 297.4,317.7 327.6,317.7"/>
<polygon fill="none" stroke="#ed1c24" stroke-width="4.6" stroke-linejoin="miter" points="774.6,488.7 759.5,514.9 789.7,514.9"/>
<polygon fill="none" stroke="#ed1c24" stroke-width="4.6" stroke-linejoin="miter" points="1044.9,514.0 1029.8,540.2 1060.0,540.2"/>
<polygon fill="none" stroke="#ed1c24" stroke-width="4.6" stroke-linejoin="miter" points="1236.6,562.1 1221.5,588.3 1251.7,588.3"/>
<polygon fill="none" stroke="#ed1c24" stroke-width="4.6" stroke-linejoin="miter" points="1385.4,601.5 1370.3,627.7 1400.5,627.7"/>
<polygon fill="none" stroke="#ed1c24" stroke-width="4.6" stroke-linejoin="miter" points="1506.9,648.7 1491.8,674.9 1522.0,674.9"/>
<polygon fill="none" stroke="#ed1c24" stroke-width="4.6" stroke-linejoin="miter" points="1609.7,665.3 1594.6,691.5 1624.8,691.5"/>
<polygon fill="none" stroke="#ed1c24" stroke-width="4.6" stroke-linejoin="miter" points="1698.7,685.9 1683.6,712.1 1713.8,712.1"/>
<polygon fill="none" stroke="#ed1c24" stroke-width="4.6" stroke-linejoin="miter" points="1777.2,687.9 1762.1,714.1 1792.3,714.1"/>
<polygon fill="none" stroke="#ed1c24" stroke-width="4.6" stroke-linejoin="miter" points="1847.4,725.5 1832.3,751.7 1862.5,751.7"/>
<polygon fill="none" stroke="#ed1c24" stroke-width="4.6" stroke-linejoin="miter" points="1911.0,734.1 1895.9,760.3 1926.1,760.3"/>
<polygon fill="none" stroke="#ed1c24" stroke-width="4.6" stroke-linejoin="miter" points="1969.0,746.7 1953.9,772.9 1984.1,772.9"/>
<polygon fill="none" stroke="#ed1c24" stroke-width="4.6" stroke-linejoin="miter" points="2022.3,774.6 2007.2,800.8 2037.4,800.8"/>
<polygon fill="none" stroke="#ed1c24" stroke-width="4.6" stroke-linejoin="miter" points="2071.7,800.2 2056.6,826.4 2086.8,826.4"/>
<polygon fill="none" stroke="#ed1c24" stroke-width="4.6" stroke-linejoin="miter" points="2117.7,818.0 2102.6,844.2 2132.8,844.2"/>
<polygon fill="none" stroke="#ed1c24" stroke-width="4.6" stroke-linejoin="miter" points="2160.7,849.3 2145.6,875.5 2175.8,875.5"/>
<text id="t_y1m" x="202.73" y="97.19" font-size="83.33" fill="#000">10</text>
<text id="t_y1s" x="283.38" y="57.10" font-size="41.67" fill="#000">1</text>
<text id="t_y0m" x="199.78" y="337.47" font-size="83.33" fill="#000">10</text>
<text id="t_y0s" x="283.08" y="295.80" font-size="41.67" fill="#000">0</text>
<text id="t_ym1m" x="190.82" y="577.49" font-size="83.33" fill="#000">10</text>
<text id="t_ym1s" x="272.09" y="536.10" font-size="41.67" fill="#000">-1</text>
<text id="t_ym2m" x="187.82" y="816.28" font-size="83.33" fill="#000">10</text>
<text id="t_ym2s" x="271.81" y="776.10" font-size="41.67" fill="#000">-2</text>
<text id="t_ym3m" x="189.78" y="1056.26" font-size="83.33" fill="#000">10</text>
<text id="t_ym3s" x="270.35" y="1015.71" font-size="41.67" fill="#000">-3</text>
<text id="t_x1" x="293.99" y="1102.50" font-size="83.33" fill="#000">1</text>
<text id="t_x2" x="756.95" y="1102.96" font-size="83.33" fill="#000">2</text>
<text id="t_x5" x="1366.57" y="1102.20" font-size="83.33" fill="#000">5</text>
<text id="t_x10" x="1810.06" y="1101.87" font-size="83.33" fill="#000">10</text>
<text id="t_x20" x="2273.87" y="1102.01" font-size="83.33" fill="#000">20</text>
<text id="t_p1" x="345.16" y="302.34" font-size="66.67" fill="#ed1c24">(1)</text>
<text id="t_p2" x="676.56" y="546.28" font-size="66.67" fill="#ed1c24">(2)</text>
<text id="t_p3" x="1015.16" y="490.74" font-size="66.67" fill="#ed1c24">(3)</text>
<text id="t_p4" x="1203.63" y="540.97" font-size="66.67" fill="#ed1c24">(4)</text>
<text id="t_p5" x="1350.18" y="574.04" font-size="66.67" fill="#ed1c24">(5)</text>
<text id="t_p6" x="1473.56" y="746.21" font-size="66.67" fill="#ed1c24">(6)</text>
<text id="t_p7" x="1571.37" y="646.57" font-size="66.67" fill="#ed1c24">(7)</text>
<text id="t_p8" x="1636.68" y="768.23" font-size="66.67" fill="#ed1c24">(8)</text>
<text id="t_p9" x="1744.40" y="664.00" font-size="66.67" fill="#ed1c24">(9)</text>
<text id="t_p10" x="1804.06" y="813.43" font-size="66.67" fill="#ed1c24">(10)</text>
<text id="t_thr" x="559.85" y="660.20" font-size="83.33" fill="#58595b">Threshold</text>
<text id="t_thb" x="915.80" y="660.50" font-size="83.33" fill="#58595b" font-style="italic">β</text>
<text id="t_noise" x="2049.94" y="727.74" font-size="85.00" fill="#6d8cc8">NOISE</text>
<text id="t_snr" x="1728.16" y="499.63" font-size="83.33" fill="#000">SNR = -20log</text>
<text id="t_snrs" x="2198.01" y="516.60" font-size="39.00" fill="#000">10</text>
<text id="t_snrb" x="2237.04" y="499.60" font-size="83.33" fill="#000" font-style="italic">β</text>
<text id="t_xl" x="1436.23" y="996.00" font-size="83.33" fill="#000">Singular Mode Index <tspan font-style="italic">k</tspan> [/]</text>
<text id="t_a" x="1224.41" y="1173.31" font-size="83.33" fill="#000">(a)</text>
<text id="t_b" x="1221.12" y="2182.15" font-size="85.50" fill="#000">(b)</text>
<text id="t_s1" x="354.29" y="142.32" font-size="83.33" fill="#000" font-style="italic">σ</text>
<text id="t_sk" x="395.55" y="159.60" font-size="41.67" fill="#000" font-style="italic">k</text>
<text id="t_sl" x="415.90" y="139.95" font-size="83.33" fill="#000">/</text>
<text id="t_s2" x="437.84" y="142.41" font-size="83.33" fill="#000" font-style="italic">σ</text>
<text id="t_s3" x="478.74" y="158.90" font-size="41.67" fill="#000">1</text>
<text id="t_sb" x="521.18" y="144.75" font-size="83.33" fill="#000">[/]</text>
<text id="t_m1" x="133.10" y="1591.20" font-size="83.70" fill="#ed1c24">Mode 1</text>
<text id="t_m2" x="622.97" y="1591.20" font-size="83.70" fill="#ed1c24">Mode 2</text>
<text id="t_m3" x="1117.27" y="1591.20" font-size="83.70" fill="#ed1c24">Mode 3</text>
<text id="t_m4" x="1609.56" y="1591.20" font-size="83.70" fill="#ed1c24">Mode 4</text>
<text id="t_m5" x="2117.24" y="1591.20" font-size="83.70" fill="#ed1c24">Mode 5</text>
<text id="t_m6" x="130.08" y="2041.00" font-size="83.70" fill="#ed1c24">Mode 6</text>
<text id="t_m7" x="623.19" y="2041.00" font-size="83.70" fill="#ed1c24">Mode 7</text>
<text id="t_m8" x="1119.18" y="2041.00" font-size="83.70" fill="#ed1c24">Mode 8</text>
<text id="t_m9" x="1610.56" y="2041.00" font-size="83.70" fill="#ed1c24">Mode 9</text>
<text id="t_m10" x="2100.81" y="2041.00" font-size="83.70" fill="#ed1c24">Mode 10</text>
</g>
</svg></body></html>
